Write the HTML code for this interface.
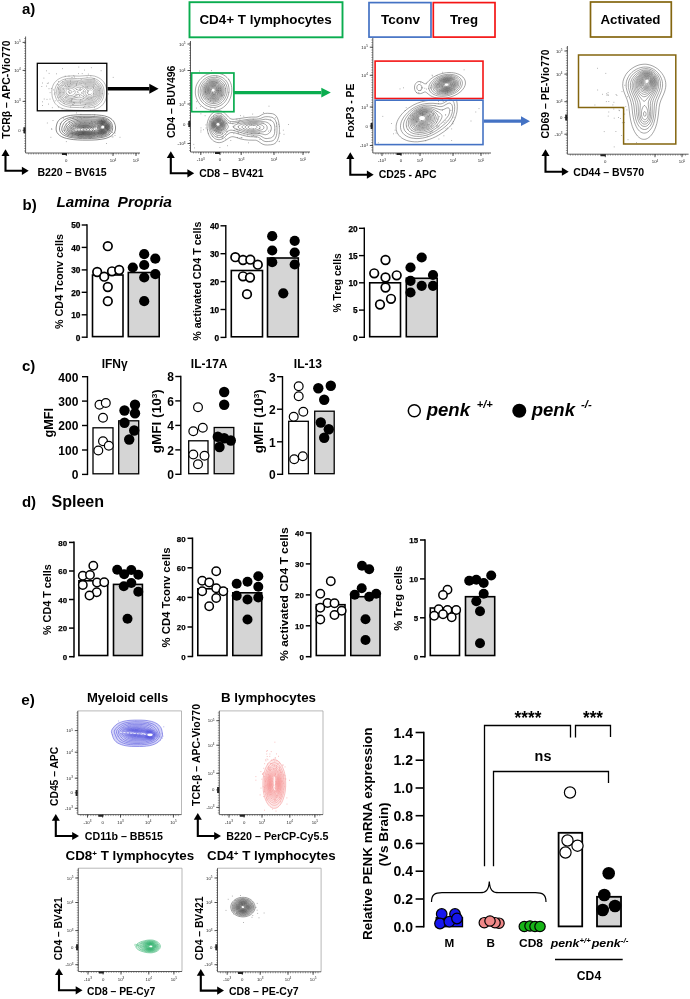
<!DOCTYPE html>
<html lang="en"><head><meta charset="utf-8"><title>Figure</title>
<style>html,body{margin:0;padding:0;background:#fff}body{width:690px;height:999px;overflow:hidden}svg{display:block}text{font-family:'Liberation Sans', sans-serif}</style>
</head><body>
<svg width="690" height="999" viewBox="0 0 690 999">
<rect width="690" height="999" fill="#fff"/>
<g id="panel-a">
<text x="22.0" y="13.6" text-anchor="start" style="font-size:15px;font-weight:bold;" fill="#000">a)</text>
<path d="M25.6 36.5 V153.0 H140.0" fill="none" stroke="#333" stroke-width="0.8"/>
<text x="20.6" y="43.9" text-anchor="end" style="font-size:4.3px;" fill="#222">10<tspan dy="-1.5" style="font-size:3px">5</tspan></text>
<text x="20.6" y="71.9" text-anchor="end" style="font-size:4.3px;" fill="#222">10<tspan dy="-1.5" style="font-size:3px">4</tspan></text>
<text x="20.6" y="102.9" text-anchor="end" style="font-size:4.3px;" fill="#222">10<tspan dy="-1.5" style="font-size:3px">3</tspan></text>
<text x="20.6" y="131.8" text-anchor="end" style="font-size:4.3px;" fill="#222">0</text>
<text x="66.3" y="162.0" text-anchor="middle" style="font-size:4.3px;" fill="#222">0</text>
<text x="113.0" y="162.0" text-anchor="middle" style="font-size:4.3px;" fill="#222">10<tspan dy="-1.5" style="font-size:3px">4</tspan></text>
<text x="136.0" y="162.0" text-anchor="middle" style="font-size:4.3px;" fill="#222">10<tspan dy="-1.5" style="font-size:3px">5</tspan></text>
<path d="M25.6 42.4h-3M25.6 70.4h-3M25.6 101.4h-3M25.6 130.3h-3M66.3 153.0v3M113.0 153.0v3M136.0 153.0v3" fill="none" stroke="#222" stroke-width="0.8"/>
<path d="M28.6 153.0v1.5M31.1 153.0v1.5M33.6 153.0v1.5M36.1 153.0v1.5M38.6 153.0v1.5M41.1 153.0v1.5M43.6 153.0v1.5M46.1 153.0v1.5M48.6 153.0v1.5M51.1 153.0v1.5M53.6 153.0v1.5M56.1 153.0v1.5M58.6 153.0v1.5M61.1 153.0v1.5M63.6 153.0v1.5M66.1 153.0v1.5M68.6 153.0v1.5M71.1 153.0v1.5M73.6 153.0v1.5M76.1 153.0v1.5M78.6 153.0v1.5M81.1 153.0v1.5M83.6 153.0v1.5M86.1 153.0v1.5M88.6 153.0v1.5M91.1 153.0v1.5M93.6 153.0v1.5M96.1 153.0v1.5M98.6 153.0v1.5M101.1 153.0v1.5M103.6 153.0v1.5M106.1 153.0v1.5M108.6 153.0v1.5M111.1 153.0v1.5M113.6 153.0v1.5M116.1 153.0v1.5M118.6 153.0v1.5M121.1 153.0v1.5M123.6 153.0v1.5M126.1 153.0v1.5M128.6 153.0v1.5M131.1 153.0v1.5M133.6 153.0v1.5M136.1 153.0v1.5M138.6 153.0v1.5M25.6 38.5h-1.5M25.6 41.0h-1.5M25.6 43.5h-1.5M25.6 46.0h-1.5M25.6 48.5h-1.5M25.6 51.0h-1.5M25.6 53.5h-1.5M25.6 56.0h-1.5M25.6 58.5h-1.5M25.6 61.0h-1.5M25.6 63.5h-1.5M25.6 66.0h-1.5M25.6 68.5h-1.5M25.6 71.0h-1.5M25.6 73.5h-1.5M25.6 76.0h-1.5M25.6 78.5h-1.5M25.6 81.0h-1.5M25.6 83.5h-1.5M25.6 86.0h-1.5M25.6 88.5h-1.5M25.6 91.0h-1.5M25.6 93.5h-1.5M25.6 96.0h-1.5M25.6 98.5h-1.5M25.6 101.0h-1.5M25.6 103.5h-1.5M25.6 106.0h-1.5M25.6 108.5h-1.5M25.6 111.0h-1.5M25.6 113.5h-1.5M25.6 116.0h-1.5M25.6 118.5h-1.5M25.6 121.0h-1.5M25.6 123.5h-1.5M25.6 126.0h-1.5M25.6 128.5h-1.5M25.6 131.0h-1.5M25.6 133.5h-1.5M25.6 136.0h-1.5M25.6 138.5h-1.5M25.6 141.0h-1.5M25.6 143.5h-1.5M25.6 146.0h-1.5M25.6 148.5h-1.5M25.6 151.0h-1.5" fill="none" stroke="#333" stroke-width="0.45"/>
<path d="M62.0 154.1h5M24.4 127.3v6" fill="none" stroke="#222" stroke-width="2"/>
<path d="M68.2 95.6h0M68.6 86.5h0M58.0 87.7h0M88.7 94.7h0M87.6 92.7h0M77.9 92.0h0M47.0 99.4h0M79.6 95.5h0M46.6 70.8h0M58.7 84.8h0M76.6 89.5h0M79.8 82.9h0M76.6 94.3h0M62.1 108.9h0M80.3 103.2h0M62.7 81.9h0M66.8 88.8h0M81.5 92.7h0M65.3 79.5h0M64.2 103.4h0M59.9 92.7h0M78.4 73.6h0M72.7 104.4h0M41.8 86.5h0M70.4 81.0h0M79.5 89.3h0M50.0 99.1h0M82.0 100.4h0M93.6 94.0h0M73.8 75.7h0M81.2 83.3h0M65.2 76.1h0M57.5 84.2h0M91.3 67.7h0M50.1 92.6h0M93.7 96.4h0M77.4 81.9h0M55.2 100.8h0M88.5 91.7h0M75.7 94.8h0M95.9 96.8h0M79.8 96.0h0M48.5 104.1h0M86.3 95.8h0M42.4 83.0h0M84.6 70.1h0M69.2 101.2h0M52.3 107.7h0M80.3 88.3h0M76.9 97.1h0M73.8 102.6h0M62.1 85.4h0M87.6 90.3h0M58.8 100.4h0M94.0 85.1h0M51.3 88.5h0M69.8 86.7h0M93.1 78.7h0M90.9 76.0h0M60.2 96.9h0M88.9 99.4h0M77.2 91.6h0M74.3 96.3h0M69.4 93.1h0M80.6 90.0h0M83.5 96.2h0M102.2 93.6h0M65.6 85.9h0M71.8 100.2h0M67.0 94.2h0M55.1 92.7h0M78.0 92.6h0M65.5 97.2h0M76.2 84.3h0M108.5 93.9h0M63.7 88.9h0M68.6 89.3h0M87.1 77.1h0M71.0 100.5h0M84.8 106.4h0M46.5 86.1h0M66.9 96.9h0M88.3 74.1h0M82.2 73.6h0M74.6 103.1h0M69.8 92.1h0M84.0 91.6h0M70.7 106.9h0M87.7 86.8h0M113.2 77.4h0M85.7 87.1h0M74.0 97.8h0M75.3 97.0h0M49.1 73.4h0M81.2 79.4h0M56.6 73.8h0M91.0 98.2h0M94.1 79.7h0M72.0 77.5h0M83.5 107.5h0M58.6 107.2h0M86.8 88.0h0M42.4 105.5h0M70.6 83.4h0M78.0 94.5h0M94.5 78.8h0M89.0 106.4h0M93.8 88.0h0M60.8 101.2h0M73.7 91.4h0M93.4 87.1h0M44.2 99.0h0M76.8 83.3h0M71.9 99.2h0M73.2 104.6h0M71.1 101.4h0M94.4 107.7h0M61.9 99.7h0M43.9 78.1h0M42.6 101.8h0M53.5 89.9h0M69.1 89.7h0M63.1 92.6h0M98.9 90.5h0M80.0 101.0h0M69.0 76.1h0M63.7 101.8h0M47.3 83.4h0M87.1 98.7h0M72.1 98.9h0M74.5 77.0h0M48.5 83.0h0M85.8 83.8h0M58.5 81.5h0M49.0 88.7h0M54.3 94.0h0M62.4 68.6h0M82.9 87.0h0M76.4 85.0h0M83.7 98.2h0M82.0 93.6h0M92.0 97.3h0M78.8 67.1h0M85.4 104.4h0M67.5 84.8h0M101.1 70.7h0M58.1 97.6h0M100.3 88.7h0M80.4 99.9h0M58.4 89.0h0" fill="none" stroke="#8a8a8a" stroke-width="0.8" stroke-linecap="round"/>
<path d="M89.0 135.6h0M83.4 127.4h0M66.7 126.1h0M99.2 129.8h0M69.5 122.3h0M94.6 132.8h0M112.6 132.4h0M82.9 133.2h0M50.9 137.3h0M89.5 123.4h0M106.5 143.5h0M60.2 123.7h0M89.0 130.5h0M77.2 121.2h0M120.0 137.3h0M63.7 118.2h0M113.0 136.9h0M115.0 135.5h0M69.2 131.1h0M47.3 123.0h0M83.0 133.2h0M71.6 128.0h0M91.8 132.0h0M94.8 130.7h0M78.5 135.3h0M84.8 122.4h0M73.4 129.0h0M82.1 130.3h0M84.0 130.4h0M81.7 118.9h0M91.2 137.4h0M91.4 127.5h0M91.6 121.3h0M51.8 129.5h0M68.2 134.9h0M66.3 141.6h0M77.5 118.0h0M71.0 133.2h0M92.4 130.4h0M109.2 134.7h0M83.6 133.8h0M112.1 136.8h0M101.4 120.3h0M81.5 134.8h0M79.0 137.6h0M94.1 136.3h0M105.1 127.3h0M78.2 136.0h0M100.7 129.1h0M64.2 130.5h0M90.1 138.0h0M97.3 129.2h0M98.5 133.3h0M87.5 129.4h0M79.9 134.5h0M66.1 124.0h0M84.1 117.3h0M76.6 112.9h0M72.4 133.5h0M93.6 128.6h0M80.1 117.7h0M115.1 133.1h0M102.6 121.9h0M80.9 114.4h0M97.3 136.5h0M51.7 128.6h0M94.7 114.9h0M53.0 120.5h0M73.3 117.8h0M84.5 131.0h0" fill="none" stroke="#8a8a8a" stroke-width="0.8" stroke-linecap="round"/>
<path d="M92.0 110.1 89.0 110.4 85.5 110.5 73.5 110.2 69.0 109.9 65.5 109.3 63.0 108.7 60.5 107.7 59.0 106.9 58.0 106.2 57.0 105.4 56.0 104.4 55.2 103.5 54.2 102.0 53.5 100.5 52.9 99.0 52.3 97.0 52.1 95.5 51.9 93.5 51.8 91.5 51.9 90.0 52.2 88.0 52.6 86.5 53.2 85.0 53.7 84.0 54.7 82.5 56.0 81.1 57.2 80.0 59.0 78.8 60.5 78.0 62.5 77.2 64.0 76.8 66.5 76.3 68.5 76.1 72.0 75.9 79.5 76.1 87.5 75.5 89.5 75.5 91.5 75.6 94.5 76.1 96.5 76.8 98.5 77.7 100.5 78.9 102.4 80.5 103.3 81.5 104.0 82.5 105.2 84.5 106.1 87.0 106.6 89.5 106.8 92.5 106.6 95.5 106.1 98.0 105.3 100.5 104.3 102.5 102.9 104.5 101.4 106.0 99.5 107.4 97.0 108.7 94.5 109.5ZM91.5 107.5 89.0 107.8 86.5 107.9 79.5 107.6 73.0 107.4 70.0 107.2 67.5 106.8 65.0 106.2 63.0 105.4 61.0 104.3 60.0 103.6 59.0 102.7 58.0 101.6 57.2 100.5 56.6 99.5 55.9 98.0 55.1 95.5 54.9 94.0 54.8 92.5 54.8 91.0 54.9 89.5 55.3 88.0 55.6 87.0 56.3 85.5 56.9 84.5 58.0 83.1 59.0 82.1 60.0 81.4 61.5 80.4 63.0 79.7 64.5 79.2 66.5 78.7 68.5 78.4 72.0 78.3 77.5 78.6 79.5 78.6 81.5 78.5 87.5 77.9 90.5 77.9 92.5 78.1 94.5 78.6 96.5 79.4 98.0 80.3 99.6 81.5 101.0 83.0 102.4 85.0 103.3 87.0 103.8 89.0 104.1 91.5 104.0 94.0 103.6 96.5 103.0 98.5 102.1 100.5 101.0 102.2 99.5 103.8 98.0 105.0 96.0 106.2 94.0 106.9ZM89.5 106.0 86.5 106.1 79.5 105.6 73.0 105.5 70.0 105.3 68.0 105.0 66.0 104.5 64.0 103.7 62.5 102.8 61.5 102.1 60.5 101.3 59.0 99.5 57.8 97.5 57.3 96.0 57.0 95.0 56.6 92.5 56.7 90.0 57.1 88.5 57.4 87.5 57.9 86.5 58.4 85.5 59.2 84.5 60.2 83.5 61.4 82.5 62.5 81.8 64.0 81.1 65.5 80.6 67.0 80.2 68.5 80.0 70.0 79.9 72.0 79.9 77.5 80.3 79.5 80.4 82.0 80.2 87.0 79.5 90.0 79.4 92.0 79.6 94.0 80.1 95.5 80.7 97.0 81.5 98.5 82.7 100.0 84.4 101.0 86.0 101.8 88.0 102.3 90.0 102.4 92.5 102.2 95.0 101.7 97.0 100.9 99.0 100.0 100.5 98.8 102.0 97.1 103.5 95.5 104.4 93.5 105.3 91.5 105.8ZM90.5 104.6 89.0 104.7 87.5 104.7 85.5 104.6 79.5 103.9 73.0 103.9 70.5 103.8 68.5 103.5 67.0 103.1 65.5 102.6 64.0 101.9 63.0 101.3 62.0 100.5 60.6 99.0 59.5 97.5 58.7 95.5 58.2 93.5 58.1 92.0 58.1 91.0 58.4 89.0 58.8 88.0 59.2 87.0 59.8 86.0 60.6 85.0 61.5 84.2 62.5 83.4 63.5 82.8 65.0 82.1 66.5 81.6 68.0 81.3 69.5 81.2 71.5 81.2 77.5 81.7 79.5 81.8 82.0 81.6 87.0 80.7 89.5 80.6 91.0 80.7 92.5 80.9 94.0 81.4 95.5 82.1 97.0 83.1 98.5 84.5 99.5 86.0 100.3 87.5 100.9 89.5 101.2 91.5 101.1 93.5 100.8 95.5 100.1 97.5 99.4 99.0 98.3 100.5 97.0 101.8 95.5 102.9 94.0 103.6 92.5 104.2ZM88.5 103.5 86.0 103.4 81.5 102.6 79.5 102.4 77.5 102.4 72.5 102.5 70.0 102.4 68.5 102.2 67.0 101.8 65.5 101.2 64.5 100.7 62.8 99.5 61.4 98.0 60.4 96.5 59.7 94.5 59.3 92.5 59.4 90.5 59.7 89.0 60.5 87.2 61.0 86.4 61.8 85.5 62.5 84.8 63.7 84.0 65.0 83.3 66.0 82.9 67.0 82.6 68.5 82.4 70.0 82.2 72.0 82.3 77.5 83.0 79.5 83.1 81.5 82.9 87.0 81.8 89.5 81.6 91.0 81.7 92.5 82.0 94.0 82.5 95.0 83.0 96.5 84.1 97.9 85.5 98.9 87.0 99.5 88.5 99.9 90.0 100.1 92.0 100.0 94.0 99.5 96.0 98.9 97.5 98.0 99.0 97.0 100.2 95.5 101.5 94.0 102.4 92.5 102.9 90.5 103.4ZM92.0 102.0 90.0 102.4 87.5 102.4 85.5 102.1 81.0 101.2 79.0 101.0 77.0 101.0 73.0 101.3 70.5 101.3 68.0 100.9 66.0 100.2 64.5 99.3 62.9 98.0 61.8 96.5 61.0 95.0 60.6 93.5 60.4 91.5 60.6 90.0 61.0 88.5 61.6 87.5 62.3 86.5 63.0 85.8 64.0 85.0 65.0 84.4 66.0 84.0 67.0 83.7 68.5 83.4 70.0 83.2 72.0 83.3 77.5 84.2 79.5 84.4 81.5 84.1 86.0 83.0 88.5 82.6 90.0 82.6 91.0 82.7 92.5 83.0 93.5 83.3 94.8 84.0 96.0 84.9 97.0 85.9 97.8 87.0 98.5 88.5 99.0 90.0 99.2 91.5 99.2 93.0 98.9 94.5 98.5 96.0 97.8 97.5 97.0 98.7 96.0 99.8 95.0 100.6 93.5 101.5ZM90.5 101.1 88.5 101.2 86.5 100.9 84.7 100.5 81.5 99.5 79.5 99.2 77.5 99.2 73.5 99.7 71.0 99.9 69.0 99.7 68.0 99.4 66.8 99.0 65.5 98.3 64.4 97.5 63.4 96.5 62.5 95.0 61.9 93.5 61.7 92.0 61.8 90.5 62.3 89.0 63.2 87.5 64.0 86.6 64.8 86.0 66.5 85.1 68.5 84.6 70.0 84.4 72.0 84.5 74.0 84.9 77.5 85.8 79.5 86.0 80.5 85.9 81.5 85.7 86.0 84.2 88.0 83.8 89.5 83.7 90.5 83.7 92.0 84.0 93.0 84.3 94.3 85.0 95.5 85.9 96.4 87.0 97.1 88.0 97.5 89.0 97.9 90.5 98.1 92.0 98.0 93.5 97.7 95.0 97.1 96.5 96.4 97.5 95.5 98.6 94.5 99.5 93.0 100.4 92.0 100.7ZM89.0 100.0 87.5 99.9 86.0 99.5 84.5 99.0 81.5 97.7 80.5 97.3 79.5 97.2 78.0 97.2 73.5 98.3 71.5 98.5 69.5 98.4 67.5 97.9 66.5 97.4 65.2 96.5 64.3 95.5 63.7 94.5 63.3 93.5 63.0 92.0 63.1 90.5 63.4 89.5 64.0 88.5 64.4 88.0 65.5 87.0 67.0 86.2 68.0 85.9 69.0 85.7 70.5 85.6 72.5 85.8 74.0 86.2 78.0 87.6 79.5 87.8 80.5 87.7 81.5 87.4 85.5 85.6 87.0 85.1 88.0 84.9 89.5 84.8 90.5 84.8 91.5 85.0 92.5 85.3 93.5 85.8 94.5 86.5 95.5 87.5 96.1 88.5 96.6 89.5 97.0 91.0 97.0 92.5 96.8 94.0 96.3 95.5 95.8 96.5 95.0 97.6 94.0 98.5 93.0 99.1 91.5 99.7 90.5 99.9ZM91.5 98.5 90.5 98.8 89.0 98.8 88.0 98.7 86.5 98.3 84.5 97.4 80.5 94.6 79.5 94.2 79.0 94.2 78.5 94.3 75.0 96.1 74.0 96.5 72.5 96.9 70.5 97.1 69.5 97.0 68.5 96.8 67.5 96.4 66.5 95.8 66.0 95.4 65.2 94.5 64.7 93.5 64.4 92.5 64.3 91.5 64.5 90.5 65.0 89.4 65.5 88.7 66.0 88.2 66.5 87.8 67.5 87.3 69.0 86.9 70.0 86.8 71.0 86.9 73.0 87.3 74.7 88.0 78.5 90.3 79.5 90.4 80.0 90.4 81.0 89.9 84.4 87.5 86.5 86.5 88.0 86.0 89.0 85.9 90.5 85.9 91.5 86.1 93.0 86.7 94.0 87.4 94.5 88.0 95.2 89.0 95.7 90.0 95.9 91.0 96.0 92.0 96.0 93.0 95.8 94.0 95.4 95.0 94.9 96.0 94.0 97.0 93.4 97.5 92.5 98.1ZM90.5 97.6 89.5 97.6 88.1 97.5 87.0 97.1 86.0 96.6 85.1 96.0 84.1 95.0 83.4 94.0 83.0 93.0 83.0 92.5 83.1 91.5 83.5 90.5 84.3 89.5 85.4 88.5 86.1 88.0 87.1 87.5 88.5 87.1 89.5 86.9 90.5 87.0 91.5 87.2 92.5 87.7 93.5 88.5 94.0 89.1 94.5 90.0 94.8 91.0 95.0 92.0 94.9 93.0 94.5 94.4 94.0 95.3 93.4 96.0 92.5 96.8 91.5 97.3ZM71.0 95.6 69.5 95.5 68.0 95.0 67.3 94.5 66.8 94.0 66.2 93.0 66.0 92.5 65.9 91.5 66.2 90.5 66.5 89.9 67.0 89.3 67.5 88.9 68.5 88.4 69.5 88.2 70.5 88.2 71.5 88.4 72.5 88.7 73.5 89.3 74.4 90.0 74.8 90.5 75.2 91.5 75.3 92.5 75.1 93.0 74.4 94.0 73.8 94.5 73.0 95.0 72.0 95.4ZM91.0 96.1 89.5 96.3 88.5 96.2 87.5 95.8 86.3 95.0 85.9 94.5 85.3 93.5 85.2 93.0 85.1 92.0 85.4 91.0 85.6 90.5 86.5 89.5 87.1 89.0 88.0 88.5 89.5 88.2 91.0 88.4 92.0 88.9 92.5 89.2 93.0 89.8 93.4 90.5 93.6 91.0 93.7 92.0 93.7 93.0 93.3 94.0 93.0 94.6 92.5 95.1 92.0 95.6ZM71.0 93.2 70.0 93.3 69.0 93.0 68.5 92.5 68.3 92.0 68.4 91.5 68.6 91.0 69.2 90.5 70.0 90.3 70.9 90.5 71.5 90.9 71.9 91.5 72.0 92.0 71.8 92.5 71.5 92.9ZM90.0 94.6 89.0 94.5 88.1 94.0 87.5 93.3 87.2 92.5 87.3 91.5 87.6 91.0 88.0 90.5 88.9 90.0 89.5 89.9 90.5 89.9 91.4 90.5 92.0 91.4 92.1 92.0 92.0 93.0 91.5 93.8 91.0 94.2 90.5 94.5Z" fill="none" stroke="#666" stroke-width="0.45" stroke-linejoin="round" opacity="1"/>
<path d="M93.0 140.0 88.0 140.1 82.5 140.1 77.5 139.9 73.5 139.6 70.0 139.1 66.5 138.4 64.0 137.7 61.5 136.6 59.5 135.3 58.1 134.0 57.0 132.5 56.4 131.0 56.2 130.0 56.1 129.0 56.2 127.0 56.8 124.0 57.6 122.0 58.6 120.5 60.2 119.0 62.0 117.9 64.5 116.8 67.0 116.1 70.5 115.4 73.5 115.1 78.0 114.8 84.0 114.7 91.5 114.7 96.5 114.9 101.5 115.4 104.5 115.9 107.5 116.8 110.0 118.0 111.0 118.7 112.0 119.5 113.4 121.0 114.3 122.5 115.0 124.5 115.3 125.5 115.5 127.0 115.5 129.0 115.3 130.0 115.1 131.0 114.7 132.0 114.1 133.0 113.0 134.4 111.8 135.5 110.0 136.7 108.0 137.6 106.0 138.3 104.0 138.8 101.0 139.3 97.0 139.8ZM91.5 138.5 87.5 138.6 82.5 138.6 78.5 138.4 75.0 138.1 72.0 137.7 69.0 137.1 66.5 136.3 64.5 135.5 62.8 134.5 61.5 133.5 60.3 132.0 59.7 130.5 59.5 129.0 59.6 127.5 60.1 125.5 60.8 123.5 61.7 122.0 63.2 120.5 64.6 119.5 66.5 118.6 68.5 117.9 71.0 117.3 74.0 116.8 77.5 116.5 83.0 116.3 90.0 116.3 95.5 116.6 101.5 117.1 104.5 117.6 106.5 118.3 108.0 119.1 109.0 119.8 109.8 120.5 111.0 122.0 111.8 123.5 112.4 125.5 112.7 127.5 112.6 129.0 112.4 130.0 112.1 131.0 111.3 132.5 110.0 134.0 109.0 134.8 107.5 135.8 105.5 136.6 103.5 137.2 101.0 137.6 97.5 138.1ZM90.5 137.5 87.0 137.6 83.0 137.6 79.5 137.4 76.5 137.2 73.5 136.8 71.0 136.3 69.0 135.8 67.0 135.0 65.5 134.3 64.0 133.3 62.8 132.0 62.2 131.0 61.8 130.0 61.8 128.5 62.1 127.0 62.7 125.5 63.5 123.8 64.5 122.4 66.0 121.1 67.5 120.1 69.5 119.3 71.5 118.7 74.0 118.2 77.5 117.8 82.5 117.6 89.0 117.5 92.5 117.6 102.0 118.2 104.0 118.6 106.0 119.3 107.5 120.1 109.1 121.5 110.1 123.0 110.8 124.5 111.2 126.0 111.3 128.0 111.1 129.5 110.5 131.0 109.6 132.5 108.5 133.6 107.5 134.4 106.0 135.2 104.5 135.8 103.0 136.2 100.5 136.6 96.0 137.1ZM91.0 136.5 88.0 136.6 84.5 136.7 78.5 136.4 74.0 135.8 72.0 135.4 70.0 134.8 68.5 134.2 67.0 133.5 65.7 132.5 64.7 131.5 64.2 130.5 64.0 129.5 64.0 128.5 64.3 127.5 65.3 125.5 66.3 124.0 67.5 122.8 69.0 121.7 70.5 120.9 72.5 120.2 75.0 119.6 77.5 119.2 81.5 118.9 87.0 118.8 90.5 118.9 96.0 119.2 100.5 119.1 102.5 119.2 104.5 119.7 106.0 120.3 107.5 121.3 108.6 122.5 109.3 123.5 109.9 125.0 110.2 126.5 110.2 128.0 110.0 129.5 109.3 131.0 108.7 132.0 107.5 133.2 106.5 133.9 105.5 134.4 104.5 134.8 103.0 135.2 100.5 135.6ZM93.0 135.6 88.0 135.9 82.0 135.9 77.0 135.4 73.0 134.7 71.0 134.1 69.5 133.5 68.0 132.7 67.1 132.0 66.5 131.3 66.0 130.5 65.7 129.5 65.8 128.5 66.4 127.0 67.5 125.5 69.0 124.0 70.3 123.0 72.0 122.1 73.5 121.5 75.5 120.9 78.0 120.4 81.0 120.1 84.5 120.0 89.5 120.0 95.5 120.3 97.0 120.3 100.5 119.9 102.0 119.9 103.5 120.1 105.0 120.6 106.5 121.4 107.7 122.5 108.5 123.5 109.2 125.0 109.4 126.0 109.5 127.5 109.3 129.0 108.7 130.5 108.1 131.5 107.1 132.5 106.0 133.3 105.0 133.8 103.0 134.4 101.5 134.7 97.5 135.0ZM91.5 135.0 86.5 135.3 81.5 135.2 77.0 134.8 73.5 134.1 72.0 133.6 70.5 133.0 69.5 132.4 68.3 131.5 67.9 131.0 67.4 130.0 67.3 129.5 67.4 128.5 67.9 127.5 69.0 126.1 70.5 124.8 72.0 123.8 73.5 123.0 75.5 122.3 77.5 121.8 80.0 121.4 83.0 121.1 87.0 121.0 89.5 121.1 95.0 121.5 96.5 121.3 100.5 120.6 102.5 120.6 104.0 120.8 105.5 121.5 106.9 122.5 107.8 123.5 108.3 124.5 108.8 126.0 108.9 127.5 108.8 128.5 108.3 130.0 107.7 131.0 107.0 131.8 106.2 132.5 104.5 133.4 102.5 133.9 101.0 134.1 97.0 134.3ZM91.0 134.5 86.5 134.8 82.0 134.7 78.0 134.4 74.5 133.7 73.0 133.2 71.5 132.6 70.5 132.0 69.8 131.5 69.3 131.0 68.8 130.0 68.7 129.5 68.8 128.5 69.4 127.5 70.5 126.3 72.0 125.2 73.5 124.4 75.0 123.7 77.0 123.1 79.0 122.7 81.0 122.4 84.0 122.1 87.0 122.1 89.5 122.2 93.5 122.5 95.0 122.5 96.5 122.2 100.0 121.2 101.5 121.1 102.5 121.1 104.0 121.4 105.5 122.0 106.7 123.0 107.5 124.0 108.0 125.0 108.3 126.0 108.4 127.5 108.3 128.5 108.0 129.5 107.5 130.5 106.6 131.5 105.5 132.4 104.0 133.1 102.5 133.4 101.0 133.6 97.0 133.7ZM91.0 134.0 87.0 134.3 83.0 134.3 79.5 134.1 76.0 133.5 74.5 133.1 73.0 132.5 72.0 132.0 71.2 131.5 70.7 131.0 70.3 130.5 70.0 130.0 70.0 129.5 70.0 129.0 70.4 128.0 71.3 127.0 72.5 126.1 74.0 125.3 75.5 124.6 77.5 124.0 79.5 123.6 81.5 123.3 84.5 123.1 87.5 123.0 90.0 123.2 93.5 123.6 94.5 123.6 96.0 123.3 98.5 122.3 100.0 121.8 101.5 121.5 102.5 121.5 104.0 121.8 105.4 122.5 106.5 123.4 107.3 124.5 107.7 125.5 108.0 126.5 107.9 128.0 107.7 129.0 107.3 130.0 106.5 131.0 106.0 131.5 105.0 132.1 104.0 132.6 102.5 133.0 101.0 133.1 97.0 133.1ZM91.0 133.5 87.5 133.9 83.5 133.9 80.0 133.7 77.0 133.2 74.5 132.5 73.4 132.0 72.6 131.5 71.9 131.0 71.5 130.5 71.3 130.0 71.2 129.5 71.2 129.0 71.5 128.3 72.2 127.5 73.0 126.8 74.5 126.0 76.0 125.3 77.5 124.9 81.0 124.2 84.0 123.9 87.0 123.9 90.0 124.1 93.5 124.5 94.5 124.5 96.0 124.2 99.5 122.4 100.5 122.1 102.0 121.9 103.5 122.1 105.0 122.7 106.1 123.5 106.9 124.5 107.3 125.5 107.6 126.5 107.6 127.5 107.4 128.5 107.1 129.5 106.5 130.4 105.9 131.0 105.0 131.7 104.0 132.2 102.5 132.5 101.0 132.6 98.0 132.5 96.5 132.5ZM90.5 133.1 87.0 133.4 83.5 133.4 80.5 133.2 77.5 132.7 75.2 132.0 74.1 131.5 73.4 131.0 72.9 130.5 72.6 130.0 72.5 129.5 72.6 129.0 72.8 128.5 73.2 128.0 74.5 127.0 76.5 126.1 79.0 125.4 82.5 124.8 86.0 124.7 89.5 124.9 93.5 125.6 95.0 125.5 96.0 125.2 98.6 123.5 99.5 123.0 100.5 122.6 101.5 122.4 103.0 122.4 104.5 122.9 105.4 123.5 105.9 124.0 106.6 125.0 107.1 126.5 107.2 127.5 107.0 128.5 106.6 129.5 106.0 130.3 105.2 131.0 104.5 131.5 103.5 131.9 102.0 132.1 100.5 132.1 97.5 131.8 96.0 131.9ZM85.5 133.0 83.0 133.0 81.0 132.8 79.0 132.5 77.0 132.0 75.5 131.4 74.9 131.0 74.3 130.5 74.0 130.0 73.9 129.5 73.9 129.0 74.2 128.5 74.7 128.0 75.4 127.5 76.5 126.9 79.0 126.1 82.0 125.6 85.0 125.4 88.0 125.5 90.5 125.9 94.0 126.6 95.0 126.6 96.0 126.3 96.5 126.0 98.1 124.5 99.5 123.5 100.5 123.1 102.0 122.8 103.5 123.0 104.5 123.4 105.0 123.7 105.5 124.1 106.0 124.7 106.6 126.0 106.8 127.0 106.7 128.0 106.3 129.0 106.1 129.5 105.5 130.2 105.0 130.6 104.5 131.0 103.5 131.4 102.5 131.6 101.0 131.7 97.5 131.1 96.0 131.1 95.0 131.3 92.5 132.1 90.5 132.5 88.0 132.9ZM86.5 132.5 84.0 132.6 82.0 132.4 80.0 132.2 78.0 131.7 76.5 131.1 75.7 130.5 75.3 130.0 75.2 129.5 75.3 129.0 75.6 128.5 76.2 128.0 77.1 127.5 78.0 127.1 80.5 126.4 83.5 126.1 86.5 126.1 89.0 126.3 91.5 126.9 94.5 127.8 95.5 127.9 96.0 127.7 96.5 127.2 98.4 125.0 99.5 124.1 100.7 123.5 102.0 123.2 103.5 123.4 104.5 123.8 105.5 124.7 106.0 125.5 106.2 126.0 106.3 126.5 106.3 127.5 106.1 128.5 105.9 129.0 105.5 129.6 105.0 130.1 104.5 130.5 103.5 131.0 102.0 131.3 100.5 131.2 99.0 130.8 97.0 130.1 96.0 129.9 95.0 130.2 93.4 131.0 92.2 131.5 91.0 131.9 89.0 132.3ZM103.5 130.6 102.0 130.9 100.5 130.7 99.8 130.5 98.7 130.0 98.0 129.5 97.5 129.0 97.4 128.5 97.4 128.0 97.7 127.0 98.0 126.5 98.7 125.5 99.1 125.0 99.7 124.5 100.5 124.0 101.0 123.8 102.0 123.6 103.0 123.7 103.5 123.8 104.0 124.0 104.7 124.5 105.5 125.5 105.8 126.0 106.0 127.0 105.9 128.0 105.7 128.5 105.0 129.6 104.5 130.0ZM87.0 132.0 85.0 132.1 83.0 132.1 81.0 131.8 79.5 131.5 78.0 131.0 77.2 130.5 76.7 130.0 76.6 129.5 76.7 129.0 77.1 128.5 77.9 128.0 79.0 127.5 81.5 126.9 84.5 126.6 87.5 126.8 90.0 127.2 90.9 127.5 92.1 128.0 92.8 128.5 93.2 129.0 93.3 129.5 93.0 130.0 92.4 130.5 91.5 131.0 89.5 131.6ZM103.5 130.1 102.5 130.4 101.0 130.4 100.0 130.0 99.5 129.8 99.1 129.5 98.6 129.0 98.4 128.5 98.3 128.0 98.3 127.5 98.7 126.5 99.3 125.5 99.8 125.0 100.6 124.5 101.5 124.1 102.0 124.1 103.0 124.1 104.0 124.5 104.7 125.0 105.1 125.5 105.5 126.5 105.5 127.5 105.4 128.0 105.0 128.9 104.5 129.5ZM86.5 131.5 84.5 131.6 83.0 131.6 80.5 131.1 78.8 130.5 78.3 130.0 78.1 129.5 78.3 129.0 78.8 128.5 79.8 128.0 81.7 127.5 84.0 127.3 86.5 127.3 88.5 127.6 90.0 128.1 90.8 128.5 91.3 129.0 91.5 129.5 91.2 130.0 90.6 130.5 89.0 131.1ZM102.0 130.0 101.0 129.9 100.0 129.4 99.5 129.0 99.2 128.5 99.0 128.0 99.0 127.5 99.3 126.5 99.6 126.0 100.0 125.5 100.5 125.1 101.5 124.6 102.0 124.5 103.0 124.5 104.0 125.0 104.6 125.5 105.1 126.5 105.1 127.5 104.8 128.5 104.4 129.0 104.0 129.4 103.0 129.9ZM85.5 131.0 83.5 131.0 81.5 130.7 81.0 130.5 80.1 130.0 79.9 129.5 80.1 129.0 81.0 128.5 82.5 128.1 84.0 127.9 85.5 127.9 87.0 128.1 88.5 128.5 89.3 129.0 89.5 129.6 89.2 130.0 88.5 130.4 87.0 130.8ZM102.5 129.5 101.5 129.5 101.0 129.4 100.4 129.0 99.9 128.5 99.7 128.0 99.6 127.5 99.9 126.5 100.2 126.0 101.0 125.3 102.0 124.9 103.0 125.0 104.0 125.5 104.5 126.3 104.7 127.0 104.5 128.0 104.0 128.8 103.5 129.2ZM85.5 130.1 84.5 130.1 83.3 130.0 82.6 129.5 83.4 129.0 84.5 128.9 86.0 129.0 86.7 129.5 86.0 130.0ZM102.5 129.0 101.8 129.0 101.0 128.7 100.5 128.2 100.3 127.5 100.5 126.6 101.0 126.0 101.5 125.6 102.0 125.5 102.5 125.4 103.0 125.5 103.5 125.8 104.0 126.4 104.2 127.0 104.1 127.5 104.0 128.0 103.6 128.5 103.0 128.9ZM103.0 128.1 102.5 128.3 102.0 128.3 101.4 128.0 101.1 127.5 101.1 127.0 101.5 126.4 102.0 126.2 102.5 126.1 103.0 126.3 103.2 126.5 103.5 127.0 103.5 127.5Z" fill="none" stroke="#3c3c3c" stroke-width="0.6" stroke-linejoin="round" opacity="1"/>
<ellipse cx="102.8" cy="127.1" rx="1.6" ry="1.5" fill="#fff"/>
<ellipse cx="91" cy="92" rx="1.8" ry="1.6" fill="#fff"/>
<path d="M75 129.9 H93" stroke="#fff" stroke-width="0.9" stroke-dasharray="2 1" opacity="0.8"/>
<rect x="37.3" y="63.3" width="69.5" height="47.5" fill="none" stroke="#000" stroke-width="1.3"/>
<line x1="107.5" y1="88.8" x2="149.3" y2="88.8" stroke="#000" stroke-width="3.4" stroke-linecap="butt"/>
<polygon points="158.6,88.8 149.3,93.8 149.3,83.8" fill="#000"/>
<text x="0" y="3.8" text-anchor="middle" style="font-size:10.5px;font-weight:bold;" fill="#000" textLength="98.3" lengthAdjust="spacingAndGlyphs" transform="translate(5.7 89.5) rotate(-90)">TCRβ – APC-Vio770</text>
<text x="37.5" y="175.5" text-anchor="start" style="font-size:10.5px;font-weight:bold;" fill="#000" textLength="69.2" lengthAdjust="spacingAndGlyphs">B220 – BV615</text>
<path d="M5.5 154.2 V170.8 H23.7" fill="none" stroke="#000" stroke-width="2.1" stroke-linejoin="miter"/>
<polygon points="5.5,149.2 1.5,156.0 9.5,156.0" fill="#000"/>
<polygon points="28.7,170.8 21.9,166.7 21.9,174.9" fill="#000"/>
<rect x="189.5" y="2.2" width="153.0" height="35.1" fill="none" stroke="#0aad4f" stroke-width="1.9"/>
<text x="199.4" y="24.1" text-anchor="start" style="font-size:13.4px;font-weight:bold;" fill="#000" textLength="132.3" lengthAdjust="spacingAndGlyphs">CD4+ T lymphocytes</text>
<path d="M190.5 41.0 V152.0 H310.0" fill="none" stroke="#333" stroke-width="0.8"/>
<text x="185.5" y="45.5" text-anchor="end" style="font-size:4.3px;" fill="#222">10<tspan dy="-1.5" style="font-size:3px">5</tspan></text>
<text x="185.5" y="72.0" text-anchor="end" style="font-size:4.3px;" fill="#222">10<tspan dy="-1.5" style="font-size:3px">4</tspan></text>
<text x="185.5" y="105.5" text-anchor="end" style="font-size:4.3px;" fill="#222">10<tspan dy="-1.5" style="font-size:3px">3</tspan></text>
<text x="185.5" y="125.5" text-anchor="end" style="font-size:4.3px;" fill="#222">0</text>
<text x="185.5" y="145.0" text-anchor="end" style="font-size:4.3px;" fill="#222">-10<tspan dy="-1.5" style="font-size:3px">3</tspan></text>
<text x="200.8" y="161.0" text-anchor="middle" style="font-size:4.3px;" fill="#222">-10<tspan dy="-1.5" style="font-size:3px">3</tspan></text>
<text x="220.0" y="161.0" text-anchor="middle" style="font-size:4.3px;" fill="#222">0</text>
<text x="241.2" y="161.0" text-anchor="middle" style="font-size:4.3px;" fill="#222">10<tspan dy="-1.5" style="font-size:3px">3</tspan></text>
<text x="274.0" y="161.0" text-anchor="middle" style="font-size:4.3px;" fill="#222">10<tspan dy="-1.5" style="font-size:3px">4</tspan></text>
<text x="303.0" y="161.0" text-anchor="middle" style="font-size:4.3px;" fill="#222">10<tspan dy="-1.5" style="font-size:3px">5</tspan></text>
<path d="M190.5 44.0h-3M190.5 70.5h-3M190.5 104.0h-3M190.5 124.0h-3M190.5 143.5h-3M200.8 152.0v3M220.0 152.0v3M241.2 152.0v3M274.0 152.0v3M303.0 152.0v3" fill="none" stroke="#222" stroke-width="0.8"/>
<path d="M193.5 152.0v1.5M196.0 152.0v1.5M198.5 152.0v1.5M201.0 152.0v1.5M203.5 152.0v1.5M206.0 152.0v1.5M208.5 152.0v1.5M211.0 152.0v1.5M213.5 152.0v1.5M216.0 152.0v1.5M218.5 152.0v1.5M221.0 152.0v1.5M223.5 152.0v1.5M226.0 152.0v1.5M228.5 152.0v1.5M231.0 152.0v1.5M233.5 152.0v1.5M236.0 152.0v1.5M238.5 152.0v1.5M241.0 152.0v1.5M243.5 152.0v1.5M246.0 152.0v1.5M248.5 152.0v1.5M251.0 152.0v1.5M253.5 152.0v1.5M256.0 152.0v1.5M258.5 152.0v1.5M261.0 152.0v1.5M263.5 152.0v1.5M266.0 152.0v1.5M268.5 152.0v1.5M271.0 152.0v1.5M273.5 152.0v1.5M276.0 152.0v1.5M278.5 152.0v1.5M281.0 152.0v1.5M283.5 152.0v1.5M286.0 152.0v1.5M288.5 152.0v1.5M291.0 152.0v1.5M293.5 152.0v1.5M296.0 152.0v1.5M298.5 152.0v1.5M301.0 152.0v1.5M303.5 152.0v1.5M306.0 152.0v1.5M308.5 152.0v1.5M190.5 43.0h-1.5M190.5 45.5h-1.5M190.5 48.0h-1.5M190.5 50.5h-1.5M190.5 53.0h-1.5M190.5 55.5h-1.5M190.5 58.0h-1.5M190.5 60.5h-1.5M190.5 63.0h-1.5M190.5 65.5h-1.5M190.5 68.0h-1.5M190.5 70.5h-1.5M190.5 73.0h-1.5M190.5 75.5h-1.5M190.5 78.0h-1.5M190.5 80.5h-1.5M190.5 83.0h-1.5M190.5 85.5h-1.5M190.5 88.0h-1.5M190.5 90.5h-1.5M190.5 93.0h-1.5M190.5 95.5h-1.5M190.5 98.0h-1.5M190.5 100.5h-1.5M190.5 103.0h-1.5M190.5 105.5h-1.5M190.5 108.0h-1.5M190.5 110.5h-1.5M190.5 113.0h-1.5M190.5 115.5h-1.5M190.5 118.0h-1.5M190.5 120.5h-1.5M190.5 123.0h-1.5M190.5 125.5h-1.5M190.5 128.0h-1.5M190.5 130.5h-1.5M190.5 133.0h-1.5M190.5 135.5h-1.5M190.5 138.0h-1.5M190.5 140.5h-1.5M190.5 143.0h-1.5M190.5 145.5h-1.5M190.5 148.0h-1.5M190.5 150.5h-1.5" fill="none" stroke="#333" stroke-width="0.45"/>
<path d="M215.0 153.1h5M189.3 121.0v6" fill="none" stroke="#222" stroke-width="2"/>
<path d="M256.5 137.0h0M279.1 141.6h0M205.9 124.9h0M212.4 119.2h0M237.9 130.1h0M252.7 114.1h0M207.8 129.8h0M234.8 126.9h0M238.4 122.4h0M258.2 133.5h0M237.7 123.3h0M214.5 130.4h0M200.9 132.0h0M243.8 116.2h0M233.5 126.9h0M252.0 136.1h0M239.1 121.5h0M236.2 129.3h0M259.1 132.9h0M221.2 116.5h0M230.3 122.6h0M211.1 128.8h0M227.2 131.1h0M253.6 125.9h0M268.6 131.2h0M269.0 106.2h0M220.5 132.5h0M248.4 142.8h0M259.9 139.5h0M253.3 128.4h0M253.2 119.2h0M270.7 119.8h0M234.2 130.2h0M270.2 130.3h0M219.0 132.6h0M255.1 137.1h0M219.9 147.5h0M283.3 130.2h0M247.0 125.7h0M276.8 123.0h0M257.5 125.2h0M222.0 137.2h0M274.7 129.9h0M222.4 138.1h0M238.7 133.1h0M279.6 141.3h0M240.1 137.9h0M223.2 129.6h0M194.5 147.9h0M275.5 117.8h0M200.9 113.8h0M270.6 125.4h0M238.4 126.9h0M236.8 119.1h0M240.6 115.6h0M238.1 133.1h0M252.2 127.7h0M216.5 131.6h0M227.4 145.7h0M260.0 128.8h0M227.8 123.0h0M215.6 126.5h0M247.7 135.2h0M221.7 130.1h0M226.4 131.7h0M244.0 134.1h0M233.8 133.7h0M241.4 137.7h0M239.9 119.7h0M212.8 136.3h0M223.1 136.3h0M259.4 133.1h0M253.2 129.0h0M203.4 129.7h0M251.8 124.7h0M237.4 137.5h0M217.2 136.4h0M288.4 124.5h0M243.8 128.5h0M280.0 133.2h0M263.3 123.1h0M239.6 129.9h0M193.8 144.4h0M263.4 112.5h0M259.4 128.7h0M251.7 133.7h0M201.0 127.9h0M278.8 124.3h0M213.4 116.4h0M208.3 133.4h0M284.0 134.3h0M226.5 123.3h0M253.7 135.5h0M213.6 118.3h0M247.6 132.5h0M206.0 128.0h0M225.9 134.6h0M237.0 129.1h0M230.8 140.5h0M276.2 126.3h0M262.0 122.4h0M241.9 137.5h0M279.4 126.2h0M238.1 132.0h0M201.0 130.2h0M222.4 133.7h0M210.6 110.2h0M241.0 132.6h0M225.7 138.9h0M232.9 123.9h0" fill="none" stroke="#8a8a8a" stroke-width="0.8" stroke-linecap="round"/>
<path d="M216.8 76.3h0M205.2 91.8h0M220.5 90.4h0M215.1 85.4h0M215.0 108.6h0M205.1 115.7h0M205.6 92.2h0M213.7 102.2h0M199.6 71.0h0M218.1 100.0h0M214.0 94.5h0M221.3 95.7h0M228.6 79.6h0M220.1 88.3h0M221.2 113.5h0M211.9 89.5h0M207.0 83.6h0M205.7 98.4h0M212.4 92.7h0M210.3 101.1h0M216.9 90.6h0M218.6 90.5h0M200.5 106.6h0M216.7 82.4h0M222.8 95.4h0M196.4 108.1h0M215.3 100.9h0M214.0 90.5h0M196.5 101.7h0M212.3 89.1h0M215.5 92.8h0M218.8 88.3h0M211.6 70.6h0M207.8 98.8h0M225.4 88.4h0M210.8 107.8h0M208.7 99.3h0M228.8 92.4h0M224.3 84.9h0M214.1 91.2h0" fill="none" stroke="#8a8a8a" stroke-width="0.8" stroke-linecap="round"/>
<path d="M217.0 110.1 215.0 110.4 213.0 110.4 211.0 110.2 209.5 109.9 207.5 109.3 206.0 108.7 204.5 107.9 203.0 106.9 201.5 105.7 200.0 104.2 198.7 102.5 197.7 101.0 196.8 99.0 196.2 97.5 195.8 96.0 195.4 94.0 195.3 92.0 195.4 90.0 195.7 88.0 196.0 86.5 196.7 84.5 197.5 83.0 198.4 81.5 199.5 80.0 200.9 78.5 202.5 77.1 204.0 76.1 205.5 75.2 207.5 74.3 209.0 73.8 211.0 73.4 212.5 73.1 214.5 73.0 216.0 73.0 218.0 73.2 219.5 73.5 221.0 73.9 223.0 74.7 224.0 75.2 225.5 76.2 227.0 77.5 228.0 78.5 228.8 79.5 229.7 81.0 230.4 82.5 231.0 84.0 231.4 85.5 231.7 87.5 231.8 89.0 231.8 91.0 231.6 93.0 231.2 95.0 230.7 97.0 230.1 98.5 229.2 100.5 228.4 102.0 227.3 103.5 226.0 105.0 225.0 106.0 223.5 107.2 222.0 108.2 220.5 108.9 218.5 109.7ZM216.5 107.1 215.0 107.4 213.5 107.4 212.0 107.4 210.5 107.1 209.0 106.7 207.5 106.1 206.0 105.4 204.5 104.4 203.0 103.1 202.0 102.0 201.2 101.0 200.2 99.5 199.5 98.0 198.9 96.5 198.5 95.0 198.3 93.5 198.2 92.0 198.3 90.0 198.5 88.5 198.9 87.0 199.4 85.5 200.2 84.0 200.7 83.0 201.8 81.5 202.7 80.5 204.0 79.3 205.1 78.5 206.5 77.6 208.0 76.9 209.5 76.4 211.0 76.0 212.5 75.7 214.0 75.6 215.5 75.6 217.0 75.8 218.5 76.1 221.0 76.9 222.5 77.6 223.5 78.3 224.5 79.1 225.5 80.0 226.5 81.2 227.3 82.5 227.8 83.5 228.4 85.0 228.9 87.5 229.1 89.0 229.1 90.5 228.9 92.5 228.6 94.0 228.2 95.5 227.7 97.0 227.1 98.5 226.2 100.0 225.2 101.5 224.4 102.5 223.4 103.5 222.0 104.6 221.0 105.3 219.5 106.1 218.0 106.7ZM216.5 105.1 215.5 105.3 214.0 105.4 212.5 105.4 211.0 105.2 209.5 104.8 208.5 104.4 207.0 103.7 206.0 103.0 205.0 102.3 204.0 101.3 203.0 100.1 202.2 99.0 201.6 98.0 201.0 96.5 200.3 94.0 200.1 92.5 200.1 91.0 200.4 88.5 201.2 86.0 201.9 84.5 202.5 83.5 203.5 82.1 204.5 81.1 205.5 80.2 206.5 79.5 207.5 78.9 209.0 78.2 210.5 77.7 211.5 77.5 214.0 77.3 215.5 77.3 217.0 77.5 219.5 78.2 220.5 78.7 221.9 79.5 223.8 81.0 224.6 82.0 225.3 83.0 226.3 85.0 226.7 86.0 227.0 87.5 227.2 89.0 227.2 90.5 227.1 92.0 226.9 93.5 226.5 95.0 225.9 96.5 224.7 99.0 224.0 100.0 223.0 101.2 222.0 102.2 221.0 103.0 219.0 104.2 217.5 104.8ZM215.0 103.5 213.0 103.6 211.5 103.4 210.5 103.2 208.5 102.4 207.5 101.8 206.4 101.0 205.3 100.0 204.5 99.1 203.7 98.0 203.1 97.0 202.3 95.0 201.8 92.5 201.8 90.0 202.3 87.5 202.8 86.0 203.3 85.0 204.5 83.2 206.1 81.5 208.0 80.2 210.0 79.3 211.0 79.0 212.5 78.8 215.0 78.8 217.5 79.3 219.5 80.1 220.5 80.6 221.5 81.4 223.0 82.9 224.1 84.5 225.0 86.5 225.2 87.5 225.4 89.0 225.5 91.5 225.0 94.0 224.7 95.0 224.1 96.5 223.0 98.5 221.5 100.3 220.5 101.2 219.5 101.9 217.5 102.9 216.5 103.2ZM215.5 102.0 213.5 102.2 211.5 102.0 209.5 101.3 208.5 100.8 207.5 100.1 206.0 98.7 204.7 97.0 203.7 95.0 203.2 93.0 203.1 92.0 203.0 90.5 203.3 88.5 203.9 86.5 204.9 84.5 205.6 83.5 206.5 82.6 208.0 81.4 209.0 80.9 210.0 80.4 212.0 79.9 214.0 79.8 216.0 80.1 218.0 80.8 219.0 81.3 220.0 81.9 221.5 83.2 222.8 85.0 223.5 86.5 224.0 88.5 224.2 90.5 223.9 93.0 223.3 95.0 222.4 97.0 221.0 98.9 219.5 100.2 218.5 100.9 217.5 101.4ZM214.5 101.0 213.0 101.0 211.0 100.7 210.0 100.3 209.0 99.8 207.5 98.7 206.8 98.0 206.0 97.0 205.1 95.5 204.4 93.5 204.1 92.0 204.0 90.0 204.3 88.0 205.1 86.0 206.0 84.5 207.3 83.0 209.0 81.8 210.5 81.2 212.5 80.8 214.5 80.8 216.5 81.2 218.0 81.9 219.7 83.0 221.1 84.5 222.1 86.0 222.7 87.5 223.1 89.5 223.1 91.5 222.7 93.5 222.0 95.5 221.0 97.2 220.4 98.0 219.5 98.9 218.0 99.9 216.5 100.6 215.5 100.9ZM215.0 100.0 213.5 100.1 212.5 100.0 211.5 99.8 210.0 99.2 208.5 98.3 207.1 97.0 206.1 95.5 205.4 94.0 204.9 92.0 204.8 90.0 205.1 88.0 205.7 86.5 206.5 85.0 207.5 83.8 209.0 82.7 210.5 81.9 212.0 81.6 213.5 81.5 215.5 81.7 217.0 82.3 218.5 83.2 219.5 84.0 220.7 85.5 221.5 87.0 222.1 89.0 222.2 90.5 222.1 92.5 221.7 94.0 221.3 95.0 220.8 96.0 219.5 97.6 218.0 98.9 216.5 99.6ZM215.5 99.1 214.0 99.3 212.5 99.2 211.0 98.8 209.5 98.0 208.2 97.0 207.0 95.5 206.2 94.0 205.7 92.5 205.5 90.5 205.6 89.0 206.0 87.5 206.6 86.0 207.5 84.8 208.5 83.8 210.0 82.9 211.5 82.3 213.0 82.1 214.5 82.2 216.0 82.6 217.5 83.4 218.9 84.5 219.8 85.5 220.7 87.0 221.2 88.5 221.4 90.0 221.4 92.0 221.1 93.5 220.5 95.0 219.5 96.5 218.5 97.5 217.0 98.5ZM214.5 98.5 213.0 98.6 211.5 98.2 210.0 97.5 209.0 96.8 208.0 95.8 207.2 94.5 206.5 93.0 206.2 91.5 206.1 90.0 206.3 88.5 206.8 87.0 207.3 86.0 208.5 84.6 209.5 83.8 210.5 83.3 212.0 82.8 213.5 82.7 215.0 83.0 216.4 83.5 217.5 84.1 218.5 85.0 219.7 86.5 220.4 88.0 220.7 89.5 220.8 91.0 220.6 92.5 220.2 94.0 219.4 95.5 218.5 96.6 217.0 97.7 216.0 98.2ZM215.5 97.5 214.5 97.8 213.0 97.8 211.5 97.4 210.5 97.0 209.2 96.0 208.3 95.0 207.7 94.0 207.1 92.5 206.8 91.0 206.8 89.5 207.1 88.0 207.5 87.0 208.1 86.0 209.0 85.0 210.0 84.3 211.5 83.6 212.5 83.4 214.0 83.5 215.5 83.8 216.5 84.3 217.5 85.0 218.4 86.0 219.1 87.0 219.8 88.5 220.1 90.0 220.1 91.5 219.8 93.0 219.4 94.0 218.8 95.0 218.0 96.0 217.0 96.8ZM214.5 97.0 213.5 97.1 212.0 96.9 211.0 96.4 210.0 95.8 209.2 95.0 208.4 94.0 207.9 93.0 207.5 91.5 207.4 90.0 207.5 89.0 207.8 88.0 208.2 87.0 209.0 85.9 210.0 85.0 211.0 84.5 212.0 84.1 213.0 84.0 214.5 84.2 215.5 84.5 216.5 85.1 217.5 85.9 218.4 87.0 218.9 88.0 219.3 89.5 219.4 91.0 219.3 92.0 218.9 93.5 218.3 94.5 217.5 95.5 216.5 96.3 215.5 96.8ZM215.5 96.1 214.5 96.4 213.5 96.4 212.5 96.3 211.5 96.0 210.5 95.4 209.6 94.5 208.8 93.5 208.4 92.5 208.1 91.5 208.0 90.0 208.1 89.0 208.4 88.0 208.9 87.0 209.7 86.0 210.5 85.4 211.5 84.9 212.5 84.7 213.5 84.6 214.5 84.8 215.5 85.2 216.5 85.8 217.2 86.5 217.9 87.5 218.4 88.5 218.7 89.5 218.8 91.0 218.7 92.0 218.4 93.0 217.9 94.0 217.1 95.0 216.5 95.5ZM215.0 95.6 214.0 95.8 213.0 95.7 211.5 95.3 210.5 94.6 209.9 94.0 209.2 93.0 208.8 92.0 208.6 91.0 208.5 90.0 208.7 89.0 209.0 88.0 209.5 87.1 210.0 86.5 211.0 85.8 212.0 85.4 213.0 85.2 214.0 85.3 214.7 85.5 215.5 85.9 216.4 86.5 217.0 87.2 217.6 88.0 218.0 89.0 218.2 90.0 218.2 91.0 218.1 92.0 217.8 93.0 217.2 94.0 216.5 94.7 216.0 95.1ZM214.5 95.0 214.0 95.1 213.0 95.1 212.0 94.8 211.4 94.5 210.7 94.0 210.0 93.2 209.6 92.5 209.2 91.5 209.1 90.5 209.1 89.5 209.4 88.5 209.6 88.0 210.0 87.4 210.5 86.8 211.0 86.5 212.0 86.0 213.0 85.8 214.0 85.9 215.0 86.3 215.5 86.6 216.1 87.0 216.9 88.0 217.5 89.5 217.6 90.5 217.6 91.5 217.1 93.0 216.5 93.8 216.0 94.3 215.5 94.6ZM213.5 94.5 212.5 94.3 212.0 94.1 211.0 93.4 210.5 92.9 210.0 92.0 209.7 90.5 209.7 89.5 209.8 89.0 210.0 88.5 210.5 87.7 211.0 87.2 211.5 86.9 212.0 86.6 213.0 86.4 213.8 86.5 214.5 86.7 215.1 87.0 215.7 87.5 216.2 88.0 216.7 89.0 217.0 90.0 217.1 90.5 217.0 91.3 216.8 92.0 216.5 92.7 216.0 93.4 215.0 94.2 214.5 94.4ZM214.5 93.6 214.0 93.8 213.0 93.8 212.0 93.4 211.5 93.0 211.0 92.5 210.5 91.5 210.3 91.0 210.3 90.0 210.5 89.0 211.1 88.0 212.0 87.3 213.0 87.1 214.0 87.2 214.5 87.4 215.3 88.0 216.1 89.0 216.4 90.0 216.4 91.0 216.3 91.5 216.0 92.3 215.5 93.0 215.0 93.4ZM213.5 93.0 213.0 93.0 212.0 92.5 211.5 92.0 211.2 91.5 211.0 90.5 211.1 89.5 211.5 88.7 212.0 88.2 212.5 87.9 213.0 87.8 214.0 88.0 214.8 88.5 215.2 89.0 215.5 89.5 215.7 90.5 215.6 91.5 215.0 92.4 214.5 92.8 214.0 93.0ZM213.5 92.0 213.0 92.0 212.5 91.7 212.0 91.0 211.9 90.5 211.9 90.0 212.1 89.5 212.5 89.0 213.0 88.8 213.5 88.8 214.0 89.0 214.5 89.5 214.7 90.0 214.8 90.5 214.7 91.0 214.5 91.5 214.0 91.9Z" fill="none" stroke="#4a4a4a" stroke-width="0.5" stroke-linejoin="round" opacity="1"/>
<path d="M267.5 145.0 265.0 144.9 263.0 144.3 262.0 143.8 261.0 143.2 258.0 141.1 256.5 140.4 255.5 140.2 254.5 140.2 248.5 140.1 244.5 139.7 240.5 138.9 235.0 137.1 233.0 136.7 231.5 136.8 230.0 137.3 229.0 137.9 226.0 140.0 224.5 140.9 223.0 141.7 221.5 142.3 219.5 142.6 218.0 142.6 216.5 142.3 215.0 141.7 213.5 140.9 212.5 140.1 211.5 139.1 210.6 138.0 209.7 136.5 209.1 135.5 208.3 133.5 207.8 132.0 207.4 130.0 207.2 128.5 207.1 126.5 207.1 125.0 207.2 123.5 207.6 121.5 208.1 120.0 208.7 118.5 209.4 117.0 210.4 115.5 211.5 114.1 212.6 113.0 214.0 112.0 215.5 111.3 217.0 110.8 218.0 110.7 219.5 110.7 220.5 110.9 221.5 111.2 223.0 111.9 224.5 112.9 225.5 113.8 228.5 117.1 229.5 118.0 230.2 118.5 231.0 118.9 232.0 119.2 233.0 119.3 234.5 119.2 236.5 119.0 245.0 117.7 248.5 117.3 251.5 117.1 255.5 117.1 257.0 117.0 258.0 116.7 259.0 116.4 263.0 114.1 264.0 113.7 265.5 113.4 267.5 113.3 271.0 113.5 272.5 113.7 274.0 114.3 275.5 115.3 276.2 116.0 276.9 117.0 277.8 119.0 278.7 122.0 279.2 125.5 279.4 129.5 279.3 133.0 278.8 136.5 278.2 138.5 277.4 140.5 276.4 142.0 276.0 142.5 275.0 143.4 273.5 144.2 272.0 144.6 270.5 144.8ZM268.5 141.5 266.0 141.6 265.0 141.4 264.0 141.1 262.5 140.3 259.5 137.9 258.5 137.4 257.5 137.0 256.0 136.8 250.5 136.7 247.0 136.3 243.0 135.3 235.3 133.0 233.5 132.6 232.0 132.5 230.5 132.6 229.5 133.0 229.0 133.3 228.0 134.0 224.5 137.4 223.5 138.1 222.0 139.0 220.5 139.5 219.0 139.7 218.0 139.6 216.5 139.3 215.5 138.9 214.5 138.3 213.0 137.0 212.2 136.0 211.5 135.0 210.3 132.5 209.3 129.5 208.9 126.5 208.9 124.0 209.2 122.5 209.6 121.0 210.2 119.5 211.0 118.1 212.0 116.8 213.0 115.8 214.5 114.7 215.5 114.1 216.5 113.8 218.0 113.5 219.5 113.5 220.5 113.7 221.5 114.1 222.5 114.6 223.5 115.3 224.5 116.2 225.5 117.2 227.5 119.6 228.5 120.5 229.2 121.0 230.0 121.4 231.5 121.6 233.0 121.6 234.5 121.5 245.0 119.8 249.0 119.2 251.5 119.1 256.5 119.1 258.5 118.9 260.3 118.5 264.0 117.0 265.5 116.7 267.0 116.7 268.5 116.7 270.5 117.0 272.0 117.3 273.5 118.0 274.5 119.0 275.5 120.5 276.3 122.5 276.8 125.0 277.0 127.5 277.0 130.5 276.8 133.5 276.4 135.5 275.9 137.0 275.2 138.5 274.4 139.5 273.5 140.3 272.0 141.0 270.5 141.3ZM267.5 138.5 266.0 138.6 264.5 138.2 263.5 137.7 260.5 135.9 259.5 135.4 258.5 135.2 257.0 135.0 251.5 135.0 248.5 134.6 245.0 133.8 234.0 130.6 232.5 130.3 231.0 130.1 229.5 130.4 228.5 130.8 228.0 131.2 227.0 132.1 224.0 135.3 223.0 136.1 222.0 136.7 221.0 137.2 219.5 137.6 218.5 137.6 217.0 137.3 216.0 136.9 215.0 136.3 213.6 135.0 212.8 134.0 212.1 133.0 211.1 131.0 210.3 128.5 209.9 126.0 209.9 124.0 210.3 122.0 210.9 120.5 211.8 119.0 212.5 118.1 213.5 117.1 214.5 116.3 215.5 115.8 217.0 115.3 218.0 115.1 219.0 115.1 220.0 115.3 221.5 115.8 222.5 116.4 223.5 117.2 224.5 118.1 227.0 121.3 228.0 122.3 229.0 123.0 229.5 123.3 230.5 123.5 231.5 123.5 233.0 123.3 244.0 121.2 247.0 120.7 250.0 120.3 253.0 120.2 257.5 120.4 259.0 120.3 261.0 120.0 264.0 119.4 265.5 119.2 267.5 119.4 270.0 120.0 271.5 120.6 272.5 121.2 273.5 122.4 274.1 123.5 274.5 125.0 274.8 127.0 274.9 129.5 274.7 132.0 274.5 133.5 274.0 135.0 273.4 136.0 272.5 137.0 271.5 137.6 270.5 138.0ZM218.5 135.5 217.0 135.2 216.0 134.7 214.5 133.6 213.5 132.4 212.3 130.5 211.4 128.5 210.9 126.5 210.8 125.0 210.9 123.5 211.2 122.0 211.9 120.5 213.0 119.0 214.0 118.0 215.5 117.1 217.0 116.6 218.5 116.4 220.0 116.6 221.0 117.0 222.5 117.9 223.5 118.7 224.6 120.0 225.6 121.5 227.7 125.0 228.2 126.0 228.3 126.5 228.3 127.0 228.1 127.5 227.4 128.5 225.1 131.5 223.2 133.5 222.0 134.4 221.0 135.0 220.0 135.4ZM266.5 134.5 265.5 134.7 264.5 134.6 261.0 133.7 259.5 133.5 258.0 133.4 254.0 133.6 252.0 133.5 250.0 133.3 247.5 132.9 245.0 132.2 242.0 131.2 238.5 130.0 235.9 129.0 234.0 128.0 233.4 127.5 233.1 127.0 233.1 126.5 233.5 126.0 234.1 125.5 235.0 125.0 237.7 124.0 243.0 122.7 248.5 121.6 251.0 121.4 253.0 121.3 259.0 121.7 264.0 121.7 265.5 121.9 267.0 122.4 268.0 122.9 268.8 123.5 269.9 124.5 270.3 125.0 270.9 126.0 271.2 127.0 271.3 128.0 271.3 129.0 271.0 130.4 270.8 131.0 270.2 132.0 269.5 132.8 268.6 133.5 267.5 134.2ZM220.0 133.6 219.0 133.8 217.5 133.6 216.5 133.3 215.0 132.3 213.8 131.0 212.7 129.5 211.8 127.5 211.5 126.0 211.4 124.5 211.6 123.0 212.1 121.5 212.7 120.5 213.5 119.5 215.0 118.2 216.0 117.7 217.5 117.3 219.0 117.3 220.5 117.7 222.0 118.5 223.0 119.4 224.0 120.5 224.9 122.0 225.8 124.0 226.1 125.5 226.1 126.5 225.9 127.5 225.2 129.0 224.6 130.0 223.5 131.3 222.5 132.2 221.0 133.2ZM258.5 132.0 255.0 132.4 252.5 132.4 250.0 132.2 247.5 131.6 245.5 131.0 242.8 130.0 239.6 128.5 238.9 128.0 238.3 127.5 238.1 127.0 238.1 126.5 238.4 126.0 239.5 125.3 241.3 124.5 242.8 124.0 247.5 122.8 249.5 122.5 251.5 122.3 253.0 122.3 255.0 122.4 262.5 123.4 263.5 123.6 264.6 124.0 265.5 124.5 266.1 125.0 266.5 125.5 267.0 126.5 267.1 127.0 267.2 128.0 267.0 129.0 266.8 129.5 266.0 130.6 265.0 131.3 263.5 131.8ZM220.5 132.1 219.5 132.4 218.0 132.5 217.0 132.2 216.0 131.8 214.5 130.6 213.6 129.5 212.9 128.5 212.3 127.0 212.0 125.5 212.0 124.0 212.3 122.5 212.7 121.5 213.4 120.5 214.3 119.5 215.5 118.6 216.5 118.2 218.0 118.0 219.0 118.0 220.0 118.2 221.5 119.0 222.5 119.8 223.5 121.0 224.1 122.0 224.8 123.5 225.1 125.0 225.1 126.0 224.9 127.0 224.6 128.0 223.7 129.5 222.8 130.5 221.5 131.6ZM256.5 131.1 254.0 131.4 252.0 131.4 250.0 131.1 247.6 130.5 245.1 129.5 243.3 128.5 242.6 128.0 242.2 127.5 242.0 127.0 242.1 126.5 242.5 126.0 243.1 125.5 244.1 125.0 246.0 124.3 249.1 123.5 251.0 123.3 252.5 123.2 254.0 123.3 255.9 123.5 260.2 124.5 261.6 125.0 262.5 125.4 263.2 126.0 263.6 126.5 263.8 127.0 263.9 127.5 263.8 128.0 263.6 128.5 263.2 129.0 262.5 129.5 261.5 129.9 260.5 130.2ZM219.0 131.5 218.0 131.5 217.0 131.3 216.0 130.9 215.0 130.2 214.0 129.1 213.3 128.0 212.8 127.0 212.5 125.5 212.4 124.5 212.6 123.0 213.0 122.0 213.6 121.0 214.5 119.9 215.5 119.2 216.5 118.8 217.5 118.6 219.0 118.6 220.0 118.8 221.0 119.3 222.0 120.0 222.9 121.0 223.5 122.0 224.1 123.5 224.4 124.5 224.4 126.0 224.1 127.0 223.7 128.0 223.1 129.0 222.0 130.1 221.0 130.8 220.0 131.3ZM256.0 130.0 254.0 130.3 252.5 130.4 250.5 130.1 249.0 129.8 247.1 129.0 246.3 128.5 245.7 128.0 245.3 127.5 245.2 127.0 245.3 126.5 245.7 126.0 246.4 125.5 247.5 125.0 249.0 124.6 250.5 124.3 252.5 124.1 254.0 124.2 255.5 124.4 257.0 124.9 258.5 125.5 259.3 126.0 259.8 126.5 260.1 127.0 260.1 127.5 259.9 128.0 259.5 128.5 258.8 129.0 257.7 129.5ZM220.0 130.5 219.0 130.8 218.0 130.8 217.0 130.6 216.0 130.1 215.0 129.4 214.2 128.5 213.5 127.5 213.1 126.5 212.8 125.0 212.9 124.0 213.1 123.0 213.5 122.0 214.1 121.0 215.0 120.1 216.0 119.5 217.0 119.1 218.0 119.0 219.0 119.0 220.0 119.3 221.0 119.8 221.8 120.5 222.7 121.5 223.3 122.5 223.6 123.5 223.8 124.5 223.8 125.5 223.7 126.5 223.3 127.5 222.7 128.5 222.0 129.3 221.0 130.0ZM254.5 129.0 253.5 129.2 252.5 129.2 251.5 129.1 250.5 128.9 249.5 128.5 248.7 128.0 248.3 127.5 248.2 127.0 248.4 126.5 249.0 126.0 250.5 125.4 252.5 125.2 253.5 125.3 254.7 125.5 255.9 126.0 256.6 126.5 256.9 127.0 256.9 127.5 256.6 128.0 256.0 128.5ZM219.5 130.0 218.5 130.2 217.5 130.1 216.5 129.8 215.5 129.2 214.3 128.0 213.7 127.0 213.4 126.0 213.2 125.0 213.2 124.0 213.5 123.0 213.9 122.0 214.5 121.1 215.1 120.5 216.0 119.9 217.0 119.5 218.0 119.4 219.0 119.5 220.0 119.8 221.0 120.3 222.2 121.5 222.8 122.5 223.2 123.5 223.3 124.5 223.3 125.5 223.1 126.5 222.7 127.5 222.0 128.5 221.5 129.0 220.5 129.7ZM219.0 129.5 218.0 129.6 217.0 129.4 216.0 128.9 215.5 128.5 214.9 128.0 214.2 127.0 213.7 125.5 213.6 124.5 213.7 123.5 214.1 122.5 214.4 122.0 215.0 121.2 215.5 120.7 216.5 120.2 217.5 119.9 218.5 119.9 219.5 120.1 220.4 120.5 221.0 120.9 221.6 121.5 222.3 122.5 222.8 124.0 222.9 125.0 222.7 126.0 222.3 127.0 222.0 127.5 221.5 128.2 220.5 129.0 220.0 129.2ZM218.5 129.1 218.0 129.0 217.0 128.8 216.0 128.3 215.5 127.9 215.0 127.4 214.5 126.5 214.3 126.0 214.0 125.0 214.2 123.5 214.5 122.5 215.0 121.8 215.5 121.3 216.5 120.6 217.0 120.4 218.0 120.3 219.0 120.4 219.5 120.5 220.4 121.0 221.0 121.5 221.5 122.0 222.0 123.0 222.4 124.5 222.2 126.0 221.8 127.0 221.4 127.5 221.0 128.0 220.0 128.7 219.5 128.9ZM218.5 128.6 218.0 128.6 217.0 128.4 216.0 127.8 215.5 127.3 214.9 126.5 214.7 126.0 214.4 125.0 214.4 124.0 214.5 123.5 215.0 122.5 215.3 122.0 215.8 121.5 216.5 121.1 217.0 120.8 218.0 120.7 219.0 120.8 219.5 120.9 220.5 121.5 221.0 122.0 221.6 123.0 221.8 123.5 222.0 124.5 221.9 125.5 221.8 126.0 221.5 126.6 221.0 127.3 220.0 128.1 219.5 128.3ZM219.0 128.0 218.5 128.1 217.5 128.0 216.5 127.6 216.0 127.3 215.5 126.7 214.9 125.5 214.8 125.0 214.8 124.0 215.0 123.3 215.4 122.5 215.8 122.0 216.5 121.5 217.5 121.1 218.5 121.1 219.0 121.2 220.0 121.7 220.5 122.1 221.0 122.7 221.4 123.5 221.5 124.0 221.5 125.0 221.5 125.5 221.0 126.5 220.7 127.0 220.1 127.5ZM219.0 127.6 218.0 127.7 217.0 127.4 216.5 127.1 216.0 126.7 215.5 126.0 215.3 125.5 215.2 125.0 215.2 124.0 215.5 123.0 215.9 122.5 216.4 122.0 217.5 121.5 218.5 121.5 219.0 121.6 219.8 122.0 220.4 122.5 220.7 123.0 221.1 124.0 221.1 125.0 220.8 126.0 220.5 126.5 220.0 127.0ZM219.0 127.1 218.0 127.2 217.0 126.9 216.4 126.5 216.0 126.0 215.7 125.5 215.5 124.5 215.7 123.5 216.0 123.0 216.4 122.5 217.0 122.1 217.5 121.9 218.5 121.9 219.0 122.0 219.5 122.3 220.2 123.0 220.7 124.0 220.7 125.0 220.3 126.0 219.9 126.5ZM219.0 126.6 218.5 126.7 218.0 126.7 217.2 126.5 216.5 126.0 216.0 125.0 216.0 124.0 216.2 123.5 216.5 123.0 217.0 122.6 217.5 122.4 218.5 122.3 219.0 122.5 219.7 123.0 220.0 123.5 220.2 124.0 220.2 125.0 220.1 125.5 219.5 126.3ZM218.5 126.2 218.0 126.2 217.3 126.0 216.8 125.5 216.5 125.0 216.4 124.5 216.5 124.0 217.0 123.2 217.5 122.9 218.0 122.8 218.5 122.8 218.9 123.0 219.5 123.5 219.7 124.0 219.8 124.5 219.7 125.0 219.5 125.5 219.0 126.0ZM218.0 125.6 217.5 125.3 217.2 125.0 217.1 124.5 217.2 124.0 217.5 123.6 218.0 123.4 218.5 123.5 219.0 123.9 219.1 124.5 219.0 125.1 218.5 125.5Z" fill="none" stroke="#4a4a4a" stroke-width="0.5" stroke-linejoin="round" opacity="1"/>
<ellipse cx="213.2" cy="90.2" rx="1.4" ry="1.4" fill="#fff"/>
<ellipse cx="218" cy="124.3" rx="1.4" ry="1.4" fill="#fff"/>
<ellipse cx="254.2" cy="127.2" rx="2.4" ry="1.1" fill="#fff"/>
<rect x="191.6" y="73.0" width="42.3" height="38.7" fill="none" stroke="#0aad4f" stroke-width="1.7"/>
<line x1="234.0" y1="92.6" x2="321.3" y2="92.6" stroke="#0aad4f" stroke-width="3.3" stroke-linecap="butt"/>
<polygon points="330.8,92.6 321.3,97.5 321.3,87.7" fill="#0aad4f"/>
<text x="0" y="3.8" text-anchor="middle" style="font-size:10.5px;font-weight:bold;" fill="#000" textLength="72.5" lengthAdjust="spacingAndGlyphs" transform="translate(171.3 101.8) rotate(-90)">CD4 – BUV496</text>
<text x="199.2" y="177.0" text-anchor="start" style="font-size:10.5px;font-weight:bold;" fill="#000" textLength="64.5" lengthAdjust="spacingAndGlyphs">CD8 – BV421</text>
<path d="M170.8 156.3 V173.3 H189.2" fill="none" stroke="#000" stroke-width="2.1" stroke-linejoin="miter"/>
<polygon points="170.8,151.3 166.8,158.1 174.8,158.1" fill="#000"/>
<polygon points="194.2,173.3 187.4,169.2 187.4,177.4" fill="#000"/>
<rect x="369.0" y="2.6" width="62.0" height="34.5" fill="none" stroke="#4472c4" stroke-width="1.7"/>
<rect x="433.3" y="2.6" width="61.7" height="34.5" fill="none" stroke="#f41414" stroke-width="1.7"/>
<text x="400.5" y="24.0" text-anchor="middle" style="font-size:13.5px;font-weight:bold;" fill="#000" textLength="39.0" lengthAdjust="spacingAndGlyphs">Tconv</text>
<text x="464.0" y="24.0" text-anchor="middle" style="font-size:13.5px;font-weight:bold;" fill="#000" textLength="28.0" lengthAdjust="spacingAndGlyphs">Treg</text>
<path d="M372.8 38.0 V153.0 H491.0" fill="none" stroke="#333" stroke-width="0.8"/>
<text x="367.8" y="48.7" text-anchor="end" style="font-size:4.3px;" fill="#222">10<tspan dy="-1.5" style="font-size:3px">5</tspan></text>
<text x="367.8" y="76.8" text-anchor="end" style="font-size:4.3px;" fill="#222">10<tspan dy="-1.5" style="font-size:3px">4</tspan></text>
<text x="367.8" y="108.5" text-anchor="end" style="font-size:4.3px;" fill="#222">10<tspan dy="-1.5" style="font-size:3px">3</tspan></text>
<text x="367.8" y="127.5" text-anchor="end" style="font-size:4.3px;" fill="#222">0</text>
<text x="367.8" y="147.0" text-anchor="end" style="font-size:4.3px;" fill="#222">-10<tspan dy="-1.5" style="font-size:3px">3</tspan></text>
<text x="382.0" y="162.0" text-anchor="middle" style="font-size:4.3px;" fill="#222">-10<tspan dy="-1.5" style="font-size:3px">3</tspan></text>
<text x="401.0" y="162.0" text-anchor="middle" style="font-size:4.3px;" fill="#222">0</text>
<text x="420.0" y="162.0" text-anchor="middle" style="font-size:4.3px;" fill="#222">10<tspan dy="-1.5" style="font-size:3px">3</tspan></text>
<text x="453.0" y="162.0" text-anchor="middle" style="font-size:4.3px;" fill="#222">10<tspan dy="-1.5" style="font-size:3px">4</tspan></text>
<text x="481.0" y="162.0" text-anchor="middle" style="font-size:4.3px;" fill="#222">10<tspan dy="-1.5" style="font-size:3px">5</tspan></text>
<path d="M372.8 47.2h-3M372.8 75.3h-3M372.8 107.0h-3M372.8 126.0h-3M372.8 145.5h-3M382.0 153.0v3M401.0 153.0v3M420.0 153.0v3M453.0 153.0v3M481.0 153.0v3" fill="none" stroke="#222" stroke-width="0.8"/>
<path d="M375.8 153.0v1.5M378.3 153.0v1.5M380.8 153.0v1.5M383.3 153.0v1.5M385.8 153.0v1.5M388.3 153.0v1.5M390.8 153.0v1.5M393.3 153.0v1.5M395.8 153.0v1.5M398.3 153.0v1.5M400.8 153.0v1.5M403.3 153.0v1.5M405.8 153.0v1.5M408.3 153.0v1.5M410.8 153.0v1.5M413.3 153.0v1.5M415.8 153.0v1.5M418.3 153.0v1.5M420.8 153.0v1.5M423.3 153.0v1.5M425.8 153.0v1.5M428.3 153.0v1.5M430.8 153.0v1.5M433.3 153.0v1.5M435.8 153.0v1.5M438.3 153.0v1.5M440.8 153.0v1.5M443.3 153.0v1.5M445.8 153.0v1.5M448.3 153.0v1.5M450.8 153.0v1.5M453.3 153.0v1.5M455.8 153.0v1.5M458.3 153.0v1.5M460.8 153.0v1.5M463.3 153.0v1.5M465.8 153.0v1.5M468.3 153.0v1.5M470.8 153.0v1.5M473.3 153.0v1.5M475.8 153.0v1.5M478.3 153.0v1.5M480.8 153.0v1.5M483.3 153.0v1.5M485.8 153.0v1.5M488.3 153.0v1.5M372.8 40.0h-1.5M372.8 42.5h-1.5M372.8 45.0h-1.5M372.8 47.5h-1.5M372.8 50.0h-1.5M372.8 52.5h-1.5M372.8 55.0h-1.5M372.8 57.5h-1.5M372.8 60.0h-1.5M372.8 62.5h-1.5M372.8 65.0h-1.5M372.8 67.5h-1.5M372.8 70.0h-1.5M372.8 72.5h-1.5M372.8 75.0h-1.5M372.8 77.5h-1.5M372.8 80.0h-1.5M372.8 82.5h-1.5M372.8 85.0h-1.5M372.8 87.5h-1.5M372.8 90.0h-1.5M372.8 92.5h-1.5M372.8 95.0h-1.5M372.8 97.5h-1.5M372.8 100.0h-1.5M372.8 102.5h-1.5M372.8 105.0h-1.5M372.8 107.5h-1.5M372.8 110.0h-1.5M372.8 112.5h-1.5M372.8 115.0h-1.5M372.8 117.5h-1.5M372.8 120.0h-1.5M372.8 122.5h-1.5M372.8 125.0h-1.5M372.8 127.5h-1.5M372.8 130.0h-1.5M372.8 132.5h-1.5M372.8 135.0h-1.5M372.8 137.5h-1.5M372.8 140.0h-1.5M372.8 142.5h-1.5M372.8 145.0h-1.5M372.8 147.5h-1.5M372.8 150.0h-1.5" fill="none" stroke="#333" stroke-width="0.45"/>
<path d="M396.5 154.1h5M371.6 123.0v6" fill="none" stroke="#222" stroke-width="2"/>
<path d="M430.3 133.6h0M475.8 112.0h0M416.5 126.0h0M406.9 126.0h0M439.4 116.7h0M438.6 101.4h0M443.2 101.5h0M414.1 113.3h0M420.0 130.3h0M429.6 115.2h0M438.9 139.0h0M428.1 124.4h0M452.8 123.2h0M427.2 125.0h0M447.3 128.0h0M422.6 107.4h0M430.1 132.4h0M406.2 107.7h0M422.8 114.8h0M437.0 111.6h0M410.4 115.3h0M427.0 112.0h0M428.2 129.0h0M451.7 140.5h0M412.3 115.0h0M378.3 142.8h0M413.5 119.6h0M438.5 103.7h0M437.3 119.7h0M391.5 123.5h0M444.1 122.5h0M437.5 125.3h0M454.1 117.3h0M445.5 115.1h0M442.6 110.2h0M425.8 140.8h0M436.9 118.1h0M405.1 110.5h0M431.9 131.3h0M436.5 126.3h0M427.2 136.2h0M420.2 113.4h0M445.8 120.8h0M422.4 113.1h0M422.9 127.5h0M435.1 105.5h0M436.5 122.1h0M408.0 129.3h0M422.4 116.0h0M443.9 135.8h0M414.2 125.3h0M418.1 134.3h0M415.1 129.7h0M419.3 126.0h0M426.1 112.0h0M471.0 121.0h0M395.1 130.2h0M393.6 133.8h0M416.4 121.7h0M453.2 121.4h0M451.7 128.9h0M411.7 130.3h0M437.9 127.8h0M382.8 116.4h0M446.0 128.8h0M431.4 125.9h0M479.0 108.6h0M421.4 120.4h0M445.7 114.7h0M450.9 110.5h0M433.3 113.7h0M431.2 111.7h0M396.1 133.1h0M434.1 113.3h0M432.0 131.9h0M408.5 118.7h0M438.8 126.3h0M452.9 123.9h0M428.3 116.7h0M433.3 114.9h0" fill="none" stroke="#8a8a8a" stroke-width="0.8" stroke-linecap="round"/>
<path d="M420.7 82.8h0M426.6 83.7h0M418.8 92.5h0M416.7 92.6h0M420.8 90.5h0M454.2 89.4h0M424.8 88.3h0M437.1 75.9h0M426.5 89.1h0M428.4 88.6h0M445.3 93.4h0M447.7 92.1h0M431.0 87.9h0M431.2 85.8h0M432.5 75.9h0M430.3 87.8h0M421.4 87.8h0M442.2 86.8h0M464.1 69.8h0M432.1 75.2h0M400.0 88.9h0M442.3 85.9h0M442.7 72.3h0M446.9 90.6h0M435.3 83.9h0M443.9 84.6h0M438.1 84.4h0M403.5 87.8h0M437.8 93.3h0M422.7 87.8h0" fill="none" stroke="#8a8a8a" stroke-width="0.8" stroke-linecap="round"/>
<path d="M445.5 98.0 443.0 98.3 440.0 98.2 437.0 97.9 434.5 97.4 432.5 96.7 430.5 95.7 428.8 94.5 426.5 92.6 425.5 92.0 425.0 92.0 424.5 92.0 422.0 93.2 420.5 93.6 419.0 93.7 418.0 93.5 417.5 93.2 416.5 92.5 415.6 91.5 415.1 90.5 414.7 89.5 414.5 88.0 414.5 87.0 414.7 85.5 415.1 84.5 415.7 83.5 416.6 82.5 417.5 81.9 418.0 81.7 419.0 81.5 420.0 81.5 421.0 81.8 422.0 82.2 424.5 83.7 425.0 83.8 425.5 83.8 426.0 83.6 426.5 83.2 429.1 80.5 430.8 79.0 432.5 77.7 434.0 76.8 436.0 75.7 438.5 74.6 441.0 73.8 444.0 73.1 446.5 72.7 449.0 72.5 451.5 72.6 453.5 72.8 455.5 73.2 457.5 73.8 459.5 74.6 461.5 75.8 462.9 77.0 464.1 78.5 464.9 80.0 465.2 81.0 465.4 82.0 465.4 83.0 465.4 84.0 465.0 85.5 464.1 87.5 463.1 89.0 461.9 90.5 460.0 92.2 458.0 93.6 456.0 94.8 454.0 95.7 451.0 96.8 448.0 97.6ZM446.0 96.0 444.0 96.2 441.5 96.3 439.5 96.1 437.5 95.8 435.5 95.2 434.0 94.6 432.5 93.7 431.5 93.0 430.5 92.0 429.8 91.0 429.3 90.0 428.9 88.5 428.8 87.5 429.0 86.0 429.6 84.5 430.4 83.0 431.6 81.5 432.6 80.5 434.0 79.3 436.0 77.9 437.5 77.1 439.5 76.2 442.0 75.3 444.0 74.8 446.0 74.5 448.0 74.3 450.0 74.3 452.0 74.5 453.5 74.7 455.5 75.3 457.0 75.9 458.5 76.7 460.0 77.9 460.9 79.0 461.8 80.5 462.3 82.0 462.4 83.5 462.1 85.0 461.6 86.5 460.7 88.0 459.5 89.5 458.0 91.0 456.5 92.1 454.5 93.3 452.5 94.2 450.0 95.1 448.0 95.7ZM420.0 90.5 419.0 90.6 418.5 90.5 418.0 90.2 417.5 89.7 417.1 89.0 416.8 88.0 416.9 87.0 417.0 86.5 417.4 85.5 418.0 84.9 418.5 84.6 419.0 84.5 419.5 84.5 420.0 84.6 420.7 85.0 421.2 85.5 421.6 86.0 421.9 87.0 422.0 88.0 421.7 89.0 421.0 90.0 420.5 90.3ZM443.5 95.0 441.5 95.0 440.0 94.8 438.5 94.5 437.0 94.1 435.5 93.5 434.5 92.9 433.2 92.0 432.3 91.0 431.7 90.0 431.2 89.0 431.0 88.0 431.1 86.5 431.3 85.5 431.9 84.0 432.5 83.0 433.2 82.0 434.2 81.0 435.5 79.9 437.0 78.8 438.5 77.9 440.0 77.2 441.5 76.6 443.0 76.2 445.5 75.6 447.5 75.4 449.0 75.4 450.5 75.4 452.5 75.7 454.0 76.1 455.5 76.7 457.0 77.5 458.0 78.2 459.2 79.5 459.8 80.5 460.2 81.5 460.5 83.0 460.4 84.5 460.1 85.5 459.5 87.0 458.4 88.5 457.0 90.0 455.5 91.2 454.0 92.1 452.0 93.1 450.0 93.9 448.0 94.4 446.0 94.8ZM447.0 93.6 445.5 93.8 443.5 93.9 442.0 93.8 440.5 93.7 439.0 93.3 437.5 92.8 436.5 92.3 435.5 91.7 434.7 91.0 433.8 90.0 433.3 89.0 433.0 88.0 432.9 87.0 433.0 86.0 433.2 85.0 433.7 84.0 434.3 83.0 435.1 82.0 436.0 81.0 437.3 80.0 438.5 79.2 440.0 78.3 441.5 77.7 443.0 77.1 444.5 76.8 446.5 76.4 448.0 76.3 449.5 76.3 451.0 76.5 452.5 76.8 454.0 77.3 455.0 77.7 456.2 78.5 457.3 79.5 458.1 80.5 458.6 81.5 458.8 82.5 458.9 84.0 458.7 85.0 458.1 86.5 457.5 87.5 456.5 88.7 455.5 89.7 454.0 90.8 452.5 91.7 451.0 92.4 449.0 93.1ZM444.5 93.0 443.0 93.0 441.5 92.9 440.5 92.7 439.0 92.3 438.0 91.8 437.0 91.3 436.0 90.5 435.6 90.0 435.2 89.5 434.7 88.5 434.4 87.5 434.3 86.5 434.5 85.5 434.8 84.5 435.3 83.5 436.0 82.5 436.9 81.5 438.0 80.5 440.0 79.2 442.5 78.1 444.0 77.6 445.5 77.3 447.0 77.1 448.5 77.0 451.0 77.3 452.5 77.6 453.5 78.0 454.5 78.5 455.5 79.2 456.4 80.0 457.1 81.0 457.5 82.0 457.7 83.0 457.7 84.0 457.4 85.5 456.9 86.5 456.3 87.5 455.4 88.5 454.3 89.5 453.0 90.4 451.5 91.3 450.0 91.9 448.5 92.4 446.5 92.8ZM447.0 92.1 444.5 92.3 442.0 92.2 440.0 91.7 439.0 91.3 438.0 90.8 437.0 90.0 436.5 89.5 436.2 89.0 435.7 88.0 435.5 86.5 435.6 85.5 435.9 84.5 436.4 83.5 437.1 82.5 438.6 81.0 440.5 79.7 443.0 78.6 444.5 78.1 446.0 77.8 448.5 77.6 450.0 77.7 451.0 77.9 453.0 78.6 454.0 79.1 455.0 79.8 455.6 80.5 456.3 81.5 456.6 82.5 456.8 83.5 456.7 84.5 456.2 86.0 455.6 87.0 454.8 88.0 453.8 89.0 452.5 89.9 451.0 90.8 450.0 91.2 448.5 91.7ZM446.5 91.6 444.0 91.7 442.0 91.5 440.0 90.9 439.1 90.5 438.3 90.0 437.3 89.0 437.0 88.5 436.5 87.5 436.4 86.0 436.6 85.0 437.0 84.0 438.0 82.5 439.6 81.0 441.5 79.8 442.5 79.3 444.0 78.8 446.5 78.2 449.0 78.2 451.0 78.5 452.0 78.8 453.0 79.3 454.0 79.9 454.6 80.5 455.1 81.0 455.6 82.0 455.9 83.0 455.9 84.0 455.8 85.0 455.4 86.0 454.8 87.0 453.9 88.0 453.0 88.8 452.0 89.5 451.0 90.1 449.5 90.8 448.0 91.3ZM446.5 91.1 444.0 91.2 442.0 90.9 440.5 90.5 439.6 90.0 438.9 89.5 437.9 88.5 437.6 88.0 437.3 87.0 437.2 86.5 437.3 85.5 437.8 84.0 438.8 82.5 440.0 81.4 441.0 80.6 442.0 80.1 444.0 79.3 446.5 78.7 448.5 78.6 450.5 78.9 451.5 79.2 452.5 79.6 453.5 80.3 454.2 81.0 454.6 81.5 455.0 82.5 455.2 83.0 455.2 84.0 455.0 85.0 454.6 86.0 454.0 87.0 453.5 87.6 452.5 88.5 451.5 89.2 450.5 89.8 449.0 90.4 448.0 90.7ZM446.5 90.6 444.5 90.7 442.5 90.5 440.9 90.0 439.5 89.2 438.8 88.5 438.5 88.1 438.0 87.0 438.0 86.5 438.0 85.5 438.2 84.5 438.5 84.0 439.5 82.5 441.0 81.2 442.5 80.3 444.5 79.5 446.5 79.1 448.5 79.1 450.5 79.4 452.0 80.0 452.8 80.5 453.4 81.0 454.0 81.8 454.4 82.5 454.6 83.5 454.6 84.0 454.4 85.0 454.0 86.0 452.9 87.5 452.0 88.3 451.0 89.0 449.0 89.9 448.0 90.3ZM446.5 90.1 444.5 90.2 443.0 90.0 441.3 89.5 440.0 88.6 439.4 88.0 439.1 87.5 438.8 86.5 438.7 85.5 438.8 85.0 439.2 84.0 439.9 83.0 440.3 82.5 441.5 81.5 443.0 80.6 444.5 80.0 446.0 79.7 448.0 79.5 450.0 79.8 451.5 80.4 452.5 81.0 453.0 81.5 453.3 82.0 453.8 83.0 453.9 83.5 453.8 84.5 453.7 85.0 453.3 86.0 452.5 87.0 452.1 87.5 450.5 88.7 448.5 89.6ZM447.0 89.5 445.0 89.7 443.5 89.6 442.0 89.1 441.0 88.6 440.3 88.0 439.7 87.0 439.4 86.0 439.5 85.5 439.7 84.5 440.2 83.5 441.1 82.5 442.4 81.5 444.0 80.7 445.5 80.2 447.5 80.0 449.0 80.1 450.5 80.5 451.5 81.0 452.0 81.4 452.6 82.0 452.9 82.5 453.1 83.0 453.2 84.0 453.2 84.5 452.8 85.5 452.2 86.5 451.8 87.0 450.6 88.0 449.0 88.9ZM447.0 89.0 445.5 89.2 444.0 89.2 442.5 88.7 441.5 88.2 440.8 87.5 440.2 86.5 440.1 85.5 440.4 84.5 440.9 83.5 441.8 82.5 443.0 81.7 444.5 81.0 446.0 80.6 447.5 80.4 449.0 80.6 450.0 80.8 451.2 81.5 451.8 82.0 452.2 82.5 452.5 83.5 452.6 84.0 452.4 85.0 452.0 85.9 451.6 86.5 450.5 87.5 449.0 88.4 448.0 88.8ZM447.0 88.6 445.5 88.8 444.5 88.7 443.4 88.5 442.3 88.0 441.5 87.4 441.0 86.5 440.8 85.5 441.0 84.5 441.6 83.5 442.5 82.6 443.5 81.9 444.5 81.4 445.5 81.1 447.0 80.9 448.5 80.9 449.5 81.2 450.5 81.7 451.0 82.0 451.5 82.6 451.9 83.5 451.9 84.0 451.8 85.0 451.3 86.0 450.9 86.5 450.0 87.3 448.5 88.1ZM447.5 88.0 446.0 88.3 444.5 88.2 443.5 88.0 442.5 87.5 442.0 87.0 441.7 86.5 441.4 85.5 441.6 84.5 442.3 83.5 443.0 82.8 444.0 82.1 445.0 81.7 446.5 81.4 447.5 81.3 448.9 81.5 450.0 82.0 450.5 82.4 451.0 83.0 451.3 84.0 451.3 84.5 450.9 85.5 450.2 86.5 449.6 87.0 448.5 87.6ZM447.5 87.5 446.0 87.8 445.0 87.8 443.8 87.5 442.9 87.0 442.5 86.5 442.2 86.0 442.1 85.5 442.3 84.5 443.0 83.5 443.5 83.0 444.5 82.4 445.5 82.0 446.5 81.8 447.5 81.8 448.5 81.9 449.0 82.1 449.8 82.5 450.3 83.0 450.5 83.5 450.7 84.0 450.5 85.0 450.0 85.9 449.4 86.5 448.5 87.1ZM447.5 87.0 446.5 87.3 445.5 87.3 444.5 87.1 444.0 87.0 443.5 86.6 443.0 86.0 442.9 85.5 442.9 85.0 443.0 84.5 443.3 84.0 443.7 83.5 444.4 83.0 445.5 82.5 446.0 82.4 447.5 82.3 448.5 82.5 449.0 82.7 449.4 83.0 449.8 83.5 449.9 84.0 450.0 84.5 449.8 85.0 449.6 85.5 449.0 86.1 448.5 86.5ZM447.0 86.6 446.0 86.7 445.5 86.7 444.6 86.5 444.0 86.0 443.7 85.5 443.7 85.0 443.8 84.5 444.1 84.0 445.0 83.3 445.7 83.0 446.5 82.8 447.5 82.9 448.0 83.0 448.8 83.5 449.1 84.0 449.2 84.5 449.0 85.1 448.7 85.5 448.2 86.0ZM446.0 86.0 445.5 85.9 444.9 85.5 444.7 85.0 444.8 84.5 445.0 84.3 445.5 83.9 446.5 83.5 447.0 83.5 447.5 83.7 448.0 84.0 448.2 84.5 448.0 85.0 447.6 85.5 447.0 85.8Z" fill="none" stroke="#4a4a4a" stroke-width="0.5" stroke-linejoin="round" opacity="1"/>
<path d="M456.2 99.5 456.8 101.5 457.2 104.0 457.3 106.5 457.2 109.0 456.9 112.0 456.3 114.5 455.7 116.5 454.8 119.0 453.8 121.0 452.6 123.0 451.2 125.0 449.5 127.0 448.0 128.4 446.0 130.1 444.0 131.6 441.0 133.6 438.5 135.2 435.5 136.8 432.5 138.2 429.5 139.3 426.5 140.3 424.0 140.9 421.0 141.4 417.5 141.8 414.5 141.8 412.0 141.6 409.0 141.1 406.5 140.4 404.0 139.3 402.0 138.2 400.5 137.0 399.0 135.5 397.9 134.0 397.1 132.5 396.5 131.0 396.2 129.5 396.1 128.0 396.1 126.5 396.2 125.0 396.7 123.0 397.2 121.5 398.1 119.5 399.3 117.5 400.3 116.0 401.9 114.0 403.3 112.5 406.5 109.6 408.5 108.1 410.5 106.8 414.0 104.7 417.5 103.2 421.5 101.8 425.5 100.9 429.0 100.4 433.0 100.2 439.5 100.3 441.5 100.0 442.9 99.5M419.0 138.5 416.0 138.6 413.5 138.3 411.0 137.9 408.5 137.1 406.5 136.1 404.5 134.8 403.0 133.3 401.7 131.5 400.9 129.5 400.5 127.5 400.5 125.5 400.8 123.5 401.4 121.5 402.6 119.0 403.8 117.0 405.8 114.5 407.7 112.5 409.3 111.0 411.0 109.6 413.0 108.2 414.5 107.3 416.5 106.3 418.5 105.4 420.5 104.7 422.5 104.2 424.5 103.8 427.0 103.5 429.0 103.3 433.0 103.3 439.0 103.9 441.0 103.9 442.3 103.5 443.5 103.0 447.5 100.6 449.0 99.9 450.0 99.7 451.0 99.8 452.0 100.1 452.5 100.5 453.3 101.5 453.9 102.5 454.2 103.5 454.5 105.0 454.7 106.5 454.7 108.0 454.6 109.5 454.4 111.5 453.6 114.5 453.1 116.0 452.3 118.0 451.5 119.5 450.5 121.0 448.6 123.5 446.0 126.0 442.5 128.8 438.0 131.9 434.0 134.2 430.5 135.8 426.5 137.2 422.5 138.1ZM422.5 136.0 419.5 136.4 416.5 136.3 414.0 136.1 411.5 135.4 409.5 134.6 407.5 133.5 405.9 132.0 404.7 130.5 404.0 129.0 403.5 127.0 403.4 125.0 403.7 123.0 404.3 121.0 405.5 118.5 406.8 116.5 408.8 114.0 410.2 112.5 411.8 111.0 413.5 109.7 415.0 108.7 418.0 107.2 420.0 106.4 422.0 105.9 424.0 105.5 426.0 105.2 428.0 105.2 430.0 105.2 434.0 105.6 439.0 106.6 441.0 106.6 442.0 106.5 443.5 105.9 447.0 103.9 448.5 103.3 449.5 103.1 450.0 103.2 450.5 103.4 451.0 103.7 451.5 104.2 452.0 105.0 452.5 106.8 452.6 109.0 452.4 111.5 451.8 114.0 450.8 116.5 449.5 118.7 447.8 121.0 445.2 123.5 441.0 127.0 437.5 129.7 434.5 131.6 431.5 133.2 429.0 134.3 426.0 135.3ZM422.5 134.0 420.0 134.3 417.5 134.2 415.0 133.9 413.0 133.4 411.0 132.5 409.5 131.5 408.0 130.0 407.1 128.5 406.5 127.0 406.2 125.0 406.3 123.0 406.8 121.0 407.8 118.5 409.0 116.5 410.4 114.5 412.3 112.5 413.5 111.4 415.0 110.3 417.5 108.8 419.0 108.1 420.5 107.6 422.0 107.2 424.0 106.9 425.5 106.7 427.5 106.7 431.0 107.1 434.0 107.8 439.0 109.4 441.0 109.9 442.0 109.9 443.0 109.7 444.0 109.3 446.5 108.1 447.5 107.8 448.0 107.8 448.5 107.9 449.0 108.2 449.5 109.0 449.7 109.5 449.7 111.0 449.4 113.0 449.0 114.1 448.4 115.5 447.4 117.0 446.0 118.7 440.2 124.5 438.1 126.5 436.0 128.2 434.0 129.6 432.0 130.8 430.0 131.8 427.5 132.8 425.0 133.5ZM421.0 132.5 418.5 132.5 416.5 132.3 414.5 131.8 413.0 131.1 411.5 130.2 410.2 129.0 409.5 128.0 408.8 126.5 408.4 125.0 408.3 123.0 408.6 121.0 409.1 119.5 410.0 117.5 411.2 115.5 412.3 114.0 414.0 112.3 415.5 111.1 417.0 110.2 418.5 109.4 420.0 108.8 422.0 108.2 423.5 108.0 425.0 107.8 427.0 107.9 429.0 108.1 430.5 108.4 432.5 109.0 434.5 109.8 436.7 111.0 438.3 112.0 440.3 113.5 441.4 114.5 441.7 115.0 441.9 115.5 442.0 116.5 441.8 117.5 441.2 119.0 440.1 121.0 438.6 123.0 437.3 124.5 435.5 126.3 434.0 127.5 432.0 128.9 430.5 129.7 428.5 130.7 427.0 131.3 425.0 131.9 423.0 132.3ZM421.5 131.0 419.5 131.1 418.0 130.9 416.5 130.7 415.0 130.2 414.0 129.7 413.0 129.0 411.9 128.0 411.1 127.0 410.6 126.0 410.1 124.5 409.9 123.5 409.9 122.0 410.1 120.5 410.4 119.5 410.9 118.0 411.7 116.5 412.7 115.0 413.5 114.0 414.5 113.0 416.0 111.7 417.5 110.8 418.5 110.2 420.0 109.6 421.5 109.2 423.0 108.9 424.5 108.7 426.0 108.7 427.5 108.9 429.0 109.2 430.5 109.6 432.0 110.2 433.4 111.0 434.9 112.0 436.5 113.5 437.3 114.5 438.1 116.0 438.3 117.5 438.2 119.0 437.7 120.5 436.9 122.0 435.4 124.0 434.0 125.5 432.2 127.0 430.5 128.1 428.5 129.2 426.0 130.1 423.5 130.8ZM423.5 129.6 422.0 129.8 420.5 129.9 418.0 129.6 416.0 129.0 415.0 128.6 414.0 127.9 413.0 127.0 412.5 126.4 412.0 125.5 411.5 124.5 411.3 123.5 411.2 122.5 411.1 121.5 411.3 120.0 411.8 118.5 412.2 117.5 413.3 115.5 414.1 114.5 415.0 113.5 416.1 112.5 417.5 111.6 419.0 110.8 420.0 110.3 422.5 109.7 425.0 109.5 427.5 109.7 429.5 110.3 431.5 111.3 433.0 112.3 434.3 113.5 435.3 115.0 435.9 116.5 436.1 118.0 435.9 119.5 435.6 120.5 435.2 121.5 434.3 123.0 433.0 124.5 431.5 125.9 429.5 127.3 427.5 128.3 425.5 129.0ZM423.0 128.6 420.5 128.8 418.5 128.6 416.5 128.0 415.5 127.4 414.5 126.7 413.4 125.5 412.8 124.5 412.4 123.5 412.2 122.5 412.1 121.5 412.3 119.5 413.0 117.5 414.1 115.5 414.9 114.5 415.9 113.5 417.0 112.6 417.9 112.0 420.0 111.0 421.0 110.6 422.5 110.3 423.5 110.2 425.0 110.2 427.0 110.4 428.9 111.0 430.5 111.8 432.0 112.9 433.0 114.0 433.6 115.0 434.3 116.5 434.5 118.0 434.3 119.5 433.8 121.0 433.0 122.5 431.8 124.0 430.5 125.2 429.0 126.3 427.0 127.4 425.0 128.1ZM423.5 127.6 422.5 127.7 421.0 127.8 419.0 127.7 418.0 127.4 417.0 127.1 415.5 126.2 414.3 125.0 413.5 123.5 413.1 122.0 413.0 121.0 413.1 120.0 413.2 119.0 413.5 118.0 414.0 117.0 414.6 116.0 415.7 114.5 417.4 113.0 418.5 112.3 419.5 111.8 421.5 111.1 423.5 110.8 425.5 110.8 427.0 111.1 428.5 111.6 430.0 112.5 431.2 113.5 432.0 114.5 432.8 116.0 433.1 117.5 433.1 119.0 432.8 120.0 432.2 121.5 431.2 123.0 430.0 124.3 428.5 125.4 427.0 126.3 425.0 127.2ZM423.5 126.6 421.5 126.9 419.5 126.7 418.0 126.3 416.5 125.6 415.3 124.5 414.9 124.0 414.4 123.0 414.0 121.5 413.9 120.0 414.1 119.0 414.4 118.0 415.1 116.5 416.2 115.0 417.5 113.7 419.0 112.7 421.0 111.9 423.0 111.5 425.0 111.5 426.5 111.7 428.0 112.3 429.1 113.0 430.2 114.0 431.0 115.0 431.5 116.0 431.7 117.0 431.8 118.5 431.7 119.5 431.1 121.0 430.2 122.5 429.3 123.5 428.0 124.6 426.5 125.5 425.0 126.1ZM424.0 125.6 422.5 125.9 420.5 126.0 419.0 125.7 417.5 125.1 416.5 124.3 415.5 123.1 415.0 122.0 414.7 120.5 414.8 119.0 415.3 117.5 416.2 116.0 417.5 114.5 419.0 113.4 420.5 112.7 422.0 112.2 423.5 112.0 425.0 112.1 426.0 112.3 427.5 112.9 428.5 113.6 429.5 114.5 430.1 115.5 430.5 116.5 430.7 118.0 430.7 119.0 430.2 120.5 429.6 121.5 428.9 122.5 427.9 123.5 426.5 124.5 425.0 125.2ZM423.0 125.0 421.5 125.2 420.0 125.1 418.5 124.6 417.5 124.0 416.5 123.1 415.9 122.0 415.6 121.0 415.5 119.5 415.8 118.0 416.5 116.6 417.3 115.5 418.5 114.4 420.0 113.5 421.5 112.9 423.0 112.7 424.5 112.7 425.5 112.9 426.5 113.2 427.5 113.8 428.3 114.5 429.1 115.5 429.6 116.5 429.8 117.5 429.8 118.5 429.6 119.5 429.2 120.5 428.6 121.5 427.7 122.5 426.5 123.5 425.5 124.1 424.5 124.6ZM423.5 124.1 422.0 124.4 421.0 124.4 419.5 124.1 418.5 123.7 417.5 123.0 416.8 122.0 416.4 121.0 416.2 120.0 416.4 118.5 416.7 117.5 417.5 116.2 418.5 115.1 419.5 114.4 421.0 113.7 422.0 113.4 423.5 113.2 424.5 113.3 425.5 113.6 426.5 114.0 427.2 114.5 427.7 115.0 428.4 116.0 428.8 117.0 428.9 118.0 428.8 119.0 428.5 120.0 428.0 120.9 427.5 121.6 426.6 122.5 425.5 123.3 424.5 123.8ZM423.0 123.5 421.5 123.7 420.5 123.6 419.5 123.3 418.5 122.8 417.7 122.0 417.2 121.0 416.9 120.0 417.0 119.0 417.2 118.0 417.7 117.0 418.4 116.0 419.5 115.1 420.5 114.5 421.5 114.1 423.0 113.8 424.0 113.9 425.0 114.1 425.9 114.5 426.7 115.0 427.2 115.5 427.5 116.0 427.9 117.0 428.0 117.5 428.0 118.5 427.6 120.0 427.0 121.0 426.5 121.6 426.0 122.0 425.0 122.7 424.0 123.2ZM423.5 122.6 422.5 122.9 421.5 123.0 420.5 122.8 419.6 122.5 419.0 122.1 418.4 121.5 418.0 120.9 417.7 120.0 417.7 119.0 417.9 118.0 418.4 117.0 418.8 116.5 419.5 115.8 420.5 115.1 421.5 114.7 422.5 114.5 424.0 114.5 425.0 114.8 425.5 115.1 426.1 115.5 426.5 116.0 427.0 116.8 427.2 117.5 427.2 118.0 427.1 119.0 426.7 120.0 426.4 120.5 426.0 121.0 425.0 121.9ZM423.0 122.0 422.0 122.2 421.0 122.1 420.5 122.0 419.5 121.5 419.0 121.0 418.7 120.5 418.5 119.9 418.4 119.0 418.5 118.5 418.9 117.5 419.5 116.7 420.0 116.2 420.5 115.9 421.5 115.4 423.0 115.1 424.0 115.3 424.5 115.4 425.4 116.0 425.9 116.5 426.2 117.0 426.4 118.0 426.4 118.5 426.1 119.5 425.4 120.5 424.9 121.0 424.2 121.5ZM423.0 121.2 422.0 121.3 421.5 121.3 420.5 121.0 419.8 120.5 419.5 120.0 419.4 119.5 419.4 118.5 419.5 118.0 420.0 117.3 421.0 116.4 422.0 116.0 422.5 115.9 423.5 116.0 424.5 116.4 425.1 117.0 425.3 117.5 425.4 118.0 425.3 119.0 424.7 120.0 424.0 120.7ZM423.0 120.1 422.0 120.3 421.5 120.2 421.0 119.9 420.6 119.5 420.5 119.2 420.5 118.5 420.7 118.0 421.1 117.5 422.0 117.0 423.0 116.9 423.5 117.1 424.0 117.5 424.2 118.0 424.2 118.5 424.0 119.1 423.5 119.7Z" fill="none" stroke="#4a4a4a" stroke-width="0.5" stroke-linejoin="round" opacity="1"/>
<ellipse cx="446.6" cy="84.6" rx="1.8" ry="1.2" fill="#fff"/>
<ellipse cx="422" cy="118" rx="2.8" ry="2.1" fill="#fff"/>
<rect x="375.1" y="61.1" width="107.9" height="37.4" fill="none" stroke="#f41414" stroke-width="1.6"/>
<rect x="375.1" y="100.2" width="107.9" height="44.4" fill="none" stroke="#4472c4" stroke-width="1.6"/>
<line x1="483.7" y1="121.2" x2="521.0" y2="121.2" stroke="#4472c4" stroke-width="3.2" stroke-linecap="butt"/>
<polygon points="530.0,121.2 521.0,126.1 521.0,116.3" fill="#4472c4"/>
<text x="0" y="3.8" text-anchor="middle" style="font-size:10.5px;font-weight:bold;" fill="#000" textLength="54.5" lengthAdjust="spacingAndGlyphs" transform="translate(350.3 110.8) rotate(-90)">FoxP3 - PE</text>
<text x="378.7" y="178.3" text-anchor="start" style="font-size:10.5px;font-weight:bold;" fill="#000" textLength="58.0" lengthAdjust="spacingAndGlyphs">CD25 - APC</text>
<path d="M350.3 157.2 V174.7 H368.7" fill="none" stroke="#000" stroke-width="2.1" stroke-linejoin="miter"/>
<polygon points="350.3,152.2 346.3,159.0 354.3,159.0" fill="#000"/>
<polygon points="373.7,174.7 366.9,170.6 366.9,178.8" fill="#000"/>
<rect x="590.5" y="2.0" width="80.8" height="35.0" fill="none" stroke="#84660f" stroke-width="1.7"/>
<text x="630.5" y="23.7" text-anchor="middle" style="font-size:13.5px;font-weight:bold;" fill="#000" textLength="60.0" lengthAdjust="spacingAndGlyphs">Activated</text>
<path d="M567.4 46.0 V154.2 H688.6" fill="none" stroke="#333" stroke-width="0.8"/>
<text x="562.4" y="52.5" text-anchor="end" style="font-size:4.3px;" fill="#222">10<tspan dy="-1.5" style="font-size:3px">5</tspan></text>
<text x="562.4" y="75.6" text-anchor="end" style="font-size:4.3px;" fill="#222">10<tspan dy="-1.5" style="font-size:3px">4</tspan></text>
<text x="562.4" y="103.2" text-anchor="end" style="font-size:4.3px;" fill="#222">10<tspan dy="-1.5" style="font-size:3px">3</tspan></text>
<text x="562.4" y="119.1" text-anchor="end" style="font-size:4.3px;" fill="#222">0</text>
<text x="562.4" y="135.7" text-anchor="end" style="font-size:4.3px;" fill="#222">-10<tspan dy="-1.5" style="font-size:3px">3</tspan></text>
<text x="605.3" y="163.2" text-anchor="middle" style="font-size:4.3px;" fill="#222">0</text>
<text x="655.0" y="163.2" text-anchor="middle" style="font-size:4.3px;" fill="#222">10<tspan dy="-1.5" style="font-size:3px">4</tspan></text>
<text x="682.0" y="163.2" text-anchor="middle" style="font-size:4.3px;" fill="#222">10<tspan dy="-1.5" style="font-size:3px">5</tspan></text>
<path d="M567.4 51.0h-3M567.4 74.1h-3M567.4 101.7h-3M567.4 117.6h-3M567.4 134.2h-3M605.3 154.2v3M655.0 154.2v3M682.0 154.2v3" fill="none" stroke="#222" stroke-width="0.8"/>
<path d="M570.4 154.2v1.5M572.9 154.2v1.5M575.4 154.2v1.5M577.9 154.2v1.5M580.4 154.2v1.5M582.9 154.2v1.5M585.4 154.2v1.5M587.9 154.2v1.5M590.4 154.2v1.5M592.9 154.2v1.5M595.4 154.2v1.5M597.9 154.2v1.5M600.4 154.2v1.5M602.9 154.2v1.5M605.4 154.2v1.5M607.9 154.2v1.5M610.4 154.2v1.5M612.9 154.2v1.5M615.4 154.2v1.5M617.9 154.2v1.5M620.4 154.2v1.5M622.9 154.2v1.5M625.4 154.2v1.5M627.9 154.2v1.5M630.4 154.2v1.5M632.9 154.2v1.5M635.4 154.2v1.5M637.9 154.2v1.5M640.4 154.2v1.5M642.9 154.2v1.5M645.4 154.2v1.5M647.9 154.2v1.5M650.4 154.2v1.5M652.9 154.2v1.5M655.4 154.2v1.5M657.9 154.2v1.5M660.4 154.2v1.5M662.9 154.2v1.5M665.4 154.2v1.5M667.9 154.2v1.5M670.4 154.2v1.5M672.9 154.2v1.5M675.4 154.2v1.5M677.9 154.2v1.5M680.4 154.2v1.5M682.9 154.2v1.5M685.4 154.2v1.5M567.4 48.0h-1.5M567.4 50.5h-1.5M567.4 53.0h-1.5M567.4 55.5h-1.5M567.4 58.0h-1.5M567.4 60.5h-1.5M567.4 63.0h-1.5M567.4 65.5h-1.5M567.4 68.0h-1.5M567.4 70.5h-1.5M567.4 73.0h-1.5M567.4 75.5h-1.5M567.4 78.0h-1.5M567.4 80.5h-1.5M567.4 83.0h-1.5M567.4 85.5h-1.5M567.4 88.0h-1.5M567.4 90.5h-1.5M567.4 93.0h-1.5M567.4 95.5h-1.5M567.4 98.0h-1.5M567.4 100.5h-1.5M567.4 103.0h-1.5M567.4 105.5h-1.5M567.4 108.0h-1.5M567.4 110.5h-1.5M567.4 113.0h-1.5M567.4 115.5h-1.5M567.4 118.0h-1.5M567.4 120.5h-1.5M567.4 123.0h-1.5M567.4 125.5h-1.5M567.4 128.0h-1.5M567.4 130.5h-1.5M567.4 133.0h-1.5M567.4 135.5h-1.5M567.4 138.0h-1.5M567.4 140.5h-1.5M567.4 143.0h-1.5M567.4 145.5h-1.5M567.4 148.0h-1.5M567.4 150.5h-1.5M567.4 153.0h-1.5" fill="none" stroke="#333" stroke-width="0.45"/>
<path d="M600.5 155.3h5M566.2 114.6v6" fill="none" stroke="#222" stroke-width="2"/>
<path d="M619.6 110.6h0M625.2 143.8h0M605.8 73.4h0M621.7 135.5h0M622.3 122.7h0M608.4 95.2h0M622.0 91.6h0M597.7 90.0h0M636.4 142.6h0M607.8 94.9h0M616.1 94.5h0M625.8 106.6h0M604.2 131.6h0M608.8 112.0h0M613.9 102.3h0M616.9 95.5h0M597.4 68.3h0M602.6 94.3h0M613.8 109.0h0M619.0 110.2h0M606.9 95.2h0M594.9 105.0h0M618.4 117.5h0M612.9 104.9h0M622.4 108.3h0M620.6 118.5h0M615.9 131.5h0M608.8 101.5h0M606.7 93.7h0M628.0 139.7h0M614.2 118.2h0M624.6 122.5h0M624.8 85.3h0M608.2 116.1h0M626.9 109.9h0M606.3 101.6h0M608.1 92.6h0M627.5 96.7h0M614.2 146.9h0M624.7 114.1h0" fill="none" stroke="#8a8a8a" stroke-width="0.8" stroke-linecap="round"/>
<path d="M646.0 139.1 644.5 139.3 643.5 139.3 642.5 139.2 641.5 138.9 640.5 138.4 639.0 137.4 637.5 136.0 636.0 134.0 634.5 131.6 633.3 129.0 632.3 126.5 631.7 124.5 630.6 120.0 629.8 115.0 628.8 106.5 628.1 103.0 627.0 99.4 624.8 94.0 623.7 91.0 623.1 88.5 622.7 85.5 622.8 83.5 623.0 81.5 623.4 80.0 624.1 78.0 624.8 76.5 625.9 74.5 627.0 73.0 628.5 71.3 630.0 69.9 632.0 68.4 634.0 67.1 636.0 66.1 638.0 65.3 640.0 64.7 642.0 64.4 644.0 64.2 646.0 64.2 648.0 64.5 650.0 65.0 652.0 65.7 654.0 66.6 656.0 67.8 657.5 68.8 659.0 70.1 660.8 72.0 662.0 73.5 663.3 75.5 664.1 77.0 664.7 78.5 665.3 80.5 665.7 82.5 665.8 84.5 665.8 86.0 665.6 87.5 665.2 89.5 664.8 91.0 663.7 94.0 661.0 100.0 660.3 102.0 659.7 104.0 659.1 107.5 658.3 115.0 657.7 119.0 656.8 123.5 655.7 127.0 654.7 129.5 653.7 131.5 652.5 133.5 651.4 135.0 650.1 136.5 649.0 137.4 647.5 138.4ZM645.0 133.1 643.5 133.1 642.0 132.7 640.5 131.9 639.5 131.1 638.5 130.1 637.3 128.5 636.2 126.5 635.3 124.5 634.2 121.5 633.3 117.5 632.7 114.0 631.8 106.0 631.1 102.5 630.1 99.0 627.7 93.0 626.9 90.5 626.2 87.5 626.1 85.0 626.2 83.0 626.4 81.5 626.9 80.0 627.7 78.0 628.5 76.5 629.5 75.0 630.5 73.8 631.8 72.5 633.5 71.1 635.0 70.1 636.5 69.2 638.5 68.3 640.0 67.8 642.0 67.3 643.5 67.1 645.5 67.0 647.0 67.1 648.5 67.3 650.0 67.7 652.0 68.5 653.5 69.2 655.0 70.2 656.5 71.5 657.6 72.5 658.8 74.0 659.9 75.5 660.7 77.0 661.4 78.5 661.9 80.0 662.3 81.5 662.5 83.5 662.6 85.0 662.3 87.5 661.6 90.5 660.7 93.0 658.0 99.3 657.4 101.0 656.9 103.0 656.3 106.5 655.7 113.5 655.3 117.0 654.7 120.0 653.7 123.5 652.9 125.5 652.0 127.2 651.0 128.8 650.0 130.0 649.0 131.1 647.5 132.2 646.5 132.7ZM644.5 129.5 643.0 129.3 642.0 128.9 641.0 128.3 640.0 127.5 639.0 126.3 638.1 125.0 637.3 123.5 636.5 121.5 635.7 119.0 635.1 116.0 634.7 113.0 634.0 106.0 633.3 102.5 632.3 99.0 629.9 93.0 629.1 90.5 628.4 87.5 628.3 85.0 628.4 83.5 628.6 82.0 629.0 80.5 629.6 79.0 630.4 77.5 631.4 76.0 632.3 75.0 633.5 73.7 635.0 72.5 636.4 71.5 638.0 70.6 639.5 69.9 641.5 69.2 643.0 68.9 644.5 68.7 646.0 68.6 648.5 68.9 650.0 69.3 651.5 69.9 653.0 70.7 654.0 71.4 655.3 72.5 656.3 73.5 657.2 74.5 658.2 76.0 659.0 77.5 659.6 79.0 660.0 80.5 660.4 82.0 660.5 83.5 660.5 85.0 660.3 87.5 659.6 90.0 658.7 92.5 656.0 98.7 655.3 100.5 654.8 102.5 654.5 104.0 654.3 106.0 653.9 113.0 653.6 116.0 653.1 119.0 652.2 122.0 651.6 123.5 650.8 125.0 650.0 126.2 649.0 127.3 648.0 128.2 647.0 128.9 646.0 129.3ZM646.5 126.1 645.5 126.4 644.0 126.4 643.0 126.2 642.0 125.7 641.0 124.8 640.0 123.7 639.0 122.1 638.3 120.5 637.5 118.0 636.9 115.0 636.6 112.5 636.2 106.0 635.6 102.5 634.6 99.0 632.1 93.0 631.2 90.5 630.6 88.0 630.4 85.5 630.4 84.0 630.7 82.5 631.1 81.0 631.5 80.0 632.2 78.5 632.8 77.5 634.0 76.0 634.9 75.0 636.0 74.0 637.5 72.9 639.0 71.9 640.5 71.2 642.0 70.6 643.5 70.3 646.0 70.0 647.5 70.1 648.5 70.3 650.0 70.7 651.0 71.1 653.0 72.3 654.0 73.1 655.0 74.0 655.8 75.0 656.5 76.0 657.1 77.0 657.8 78.5 658.3 80.0 658.6 81.5 658.8 84.0 658.6 86.5 658.3 88.0 657.8 89.5 656.9 92.0 653.8 98.5 653.1 100.5 652.6 102.5 652.3 104.0 652.2 106.0 652.2 112.0 652.1 114.5 651.8 117.0 651.2 119.5 650.5 121.5 649.4 123.5 648.0 125.1 647.5 125.5ZM645.5 124.0 644.5 124.1 643.5 123.9 642.7 123.5 642.0 123.0 641.1 122.0 640.5 121.1 639.9 120.0 639.3 118.5 638.8 116.5 638.4 114.0 638.3 111.5 638.2 106.0 638.0 104.0 637.7 102.5 637.3 101.0 636.6 99.0 633.9 93.0 633.0 90.5 632.6 89.0 632.3 87.5 632.1 85.0 632.3 83.5 632.5 82.5 632.7 81.5 633.3 80.0 634.1 78.5 634.8 77.5 636.5 75.5 637.6 74.5 638.9 73.5 640.0 72.8 641.5 72.0 642.5 71.7 644.0 71.3 645.0 71.1 646.5 71.1 648.5 71.3 650.0 71.8 651.0 72.2 652.0 72.8 653.0 73.5 654.5 75.0 655.3 76.0 655.9 77.0 656.8 79.0 657.4 81.5 657.5 84.0 657.2 86.5 656.8 88.0 656.3 89.5 655.2 92.0 652.8 96.5 651.8 98.5 651.0 100.5 650.6 102.0 650.4 103.5 650.3 105.5 650.7 111.5 650.7 114.0 650.5 116.5 650.0 118.5 649.3 120.5 648.7 121.5 648.0 122.4 647.0 123.3 646.5 123.7ZM646.0 121.7 645.5 121.9 644.5 121.9 643.5 121.7 643.0 121.4 642.5 120.9 641.7 120.0 641.1 119.0 640.7 118.0 640.2 116.0 639.9 113.5 639.9 111.0 640.3 105.5 640.3 104.0 640.0 102.5 639.6 101.0 639.0 99.5 636.0 93.8 634.8 91.0 634.3 89.5 633.9 88.0 633.6 85.5 633.7 84.0 633.9 83.0 634.3 81.5 634.6 80.5 635.4 79.0 636.0 78.0 637.6 76.0 639.5 74.3 640.7 73.5 642.0 72.8 644.0 72.2 645.5 71.9 646.5 71.9 648.5 72.2 650.5 72.9 652.3 74.0 653.8 75.5 654.9 77.0 655.8 79.0 656.4 81.0 656.5 83.5 656.2 86.0 655.8 87.5 655.3 89.0 653.7 92.0 650.9 96.5 649.8 98.5 649.1 100.0 648.5 101.5 648.3 103.0 648.3 104.5 648.4 106.0 649.3 111.5 649.5 113.5 649.3 115.5 648.9 117.5 648.6 118.5 648.1 119.5 647.5 120.5 647.0 121.0ZM644.5 101.2 644.0 101.2 643.5 101.0 643.0 100.6 642.0 99.6 639.5 96.4 637.3 93.0 636.1 90.5 635.4 88.5 635.0 86.0 635.0 84.0 635.3 82.5 635.6 81.5 636.4 79.5 637.6 77.5 639.0 75.9 640.0 75.0 641.0 74.3 643.0 73.3 645.0 72.7 647.0 72.7 648.0 72.8 649.0 73.0 650.5 73.7 652.0 74.7 652.9 75.5 653.5 76.2 654.6 78.0 655.3 80.0 655.7 82.0 655.7 84.0 655.3 86.0 654.8 87.5 654.0 89.3 653.0 91.0 651.0 93.8 646.5 99.4 645.5 100.5 645.0 100.9ZM645.5 119.6 645.0 119.7 644.5 119.7 644.0 119.5 643.5 119.2 643.0 118.7 642.5 118.0 642.0 117.0 641.7 116.0 641.5 114.5 641.4 113.0 641.5 111.8 641.7 110.5 642.1 109.0 642.7 107.5 643.5 106.1 644.0 105.6 644.5 105.5 645.0 105.7 645.5 106.2 646.0 106.9 646.9 108.5 647.6 110.5 648.0 113.0 648.0 115.2 647.9 116.0 647.5 117.3 647.0 118.3 646.5 118.9 646.0 119.3ZM645.0 96.6 644.0 96.7 643.5 96.7 642.5 96.3 642.0 96.0 640.5 94.7 639.0 92.9 637.6 90.5 636.8 88.5 636.4 87.0 636.2 86.0 636.2 84.0 636.5 82.0 637.2 80.0 638.3 78.0 639.1 77.0 640.0 76.0 641.5 74.9 642.5 74.3 643.5 73.8 645.5 73.4 647.0 73.3 648.0 73.5 649.0 73.7 650.5 74.4 652.0 75.5 652.9 76.5 653.9 78.0 654.7 80.0 654.9 81.5 655.0 83.5 654.8 85.0 654.2 87.0 653.2 89.0 652.0 90.7 650.0 93.0 648.0 94.9 646.5 96.0ZM645.5 116.0 645.0 116.3 644.5 116.3 644.0 115.8 643.7 115.0 643.5 114.0 643.6 113.0 644.0 112.1 644.5 111.6 645.0 111.6 645.5 112.1 646.0 113.3 646.1 114.0 646.0 115.0ZM646.0 94.1 644.5 94.4 643.5 94.2 643.0 94.1 641.5 93.3 640.0 91.8 638.7 90.0 637.8 88.0 637.3 86.0 637.2 84.0 637.5 82.0 638.1 80.0 639.3 78.0 640.5 76.5 642.0 75.3 643.5 74.5 645.0 74.0 646.0 73.9 647.0 73.9 648.5 74.2 650.0 74.8 651.5 75.8 652.5 76.9 653.2 78.0 653.9 79.5 654.3 81.0 654.4 83.0 654.2 84.5 653.8 86.0 653.0 87.7 652.0 89.3 650.5 91.0 649.0 92.4 647.5 93.4ZM646.5 92.1 645.0 92.3 643.5 92.1 642.0 91.4 641.0 90.6 639.7 89.0 639.0 87.5 638.5 86.0 638.3 84.0 638.4 82.5 638.9 80.5 639.6 79.0 640.6 77.5 642.0 76.2 643.5 75.3 645.0 74.7 646.5 74.6 648.0 74.7 649.5 75.3 650.7 76.0 651.7 77.0 652.5 78.0 653.2 79.5 653.6 81.0 653.7 82.5 653.5 84.0 653.1 85.5 652.5 87.0 651.5 88.5 650.5 89.6 649.0 90.8 647.5 91.7ZM647.0 90.6 645.5 90.9 644.5 90.8 643.0 90.3 642.0 89.6 640.9 88.5 640.0 87.0 639.5 85.5 639.3 84.0 639.3 82.5 639.6 81.0 640.2 79.5 641.1 78.0 642.1 77.0 643.5 76.0 645.0 75.4 646.5 75.2 648.0 75.4 649.0 75.7 650.0 76.3 651.0 77.1 651.8 78.0 652.5 79.5 652.8 80.5 653.0 82.0 652.9 83.5 652.7 84.5 652.2 86.0 651.5 87.1 650.5 88.4 649.5 89.3 648.0 90.2ZM646.5 89.6 645.0 89.6 644.0 89.4 643.0 88.9 642.0 88.1 641.2 87.0 640.7 86.0 640.2 84.5 640.1 83.0 640.3 81.5 640.5 80.5 641.3 79.0 642.0 78.0 643.0 77.1 644.0 76.4 645.0 76.0 646.5 75.8 647.5 75.9 648.5 76.2 649.5 76.6 650.6 77.5 651.4 78.5 651.9 79.5 652.2 80.5 652.4 82.0 652.3 83.5 652.1 84.5 651.5 85.8 650.7 87.0 650.0 87.8 649.0 88.6 648.0 89.1ZM647.0 88.5 646.0 88.6 645.0 88.6 644.0 88.2 642.9 87.5 642.0 86.5 641.4 85.5 641.1 84.5 640.9 83.0 641.0 81.5 641.3 80.5 641.7 79.5 642.4 78.5 643.5 77.5 644.3 77.0 645.5 76.5 646.5 76.4 647.5 76.5 648.5 76.8 649.5 77.3 650.3 78.0 651.0 79.0 651.5 80.0 651.7 81.0 651.8 82.0 651.8 83.0 651.6 84.0 651.2 85.0 650.5 86.1 649.7 87.0 649.0 87.6 648.0 88.2ZM647.0 87.6 646.0 87.7 645.0 87.6 644.0 87.1 643.5 86.8 642.7 86.0 642.1 85.0 641.8 84.0 641.6 83.0 641.6 82.0 641.8 81.0 642.2 80.0 642.8 79.0 643.5 78.3 644.5 77.6 645.5 77.2 646.5 77.0 647.5 77.1 648.5 77.4 649.4 78.0 649.9 78.5 650.5 79.3 650.8 80.0 651.1 81.0 651.2 82.0 651.2 83.0 650.9 84.0 650.5 84.9 650.0 85.7 649.2 86.5 648.5 87.0 648.0 87.3ZM647.5 86.6 647.0 86.7 646.0 86.8 645.0 86.6 644.5 86.4 643.5 85.6 643.0 85.0 642.8 84.5 642.4 83.5 642.3 82.5 642.4 81.5 642.7 80.5 643.0 79.9 643.5 79.2 644.3 78.5 645.0 78.0 646.0 77.7 647.0 77.7 647.5 77.8 648.2 78.0 649.0 78.5 649.9 79.5 650.2 80.0 650.5 81.0 650.6 82.0 650.5 83.0 650.0 84.4 649.5 85.2 649.0 85.7 648.5 86.1ZM647.5 85.7 647.0 85.9 646.0 85.9 645.5 85.8 644.8 85.5 644.1 85.0 643.7 84.5 643.5 84.0 643.2 83.0 643.1 82.5 643.2 81.5 643.5 80.5 643.8 80.0 644.2 79.5 644.7 79.0 645.5 78.6 646.0 78.4 647.0 78.4 647.5 78.5 648.5 79.0 649.0 79.4 649.5 80.0 649.9 81.0 649.9 81.5 649.9 82.5 649.5 83.9 649.1 84.5 648.7 85.0 648.0 85.5ZM647.5 84.7 646.5 85.0 645.5 84.8 645.0 84.5 644.5 84.0 644.0 83.0 643.9 82.5 644.0 81.5 644.4 80.5 645.0 79.8 645.5 79.4 646.0 79.3 647.0 79.2 647.9 79.5 648.5 80.0 649.1 81.0 649.2 82.0 649.0 83.1 648.5 84.0 648.0 84.5ZM647.0 83.7 646.5 83.8 646.0 83.7 645.7 83.5 645.2 83.0 645.0 82.5 645.0 82.0 645.1 81.5 645.3 81.0 645.8 80.5 646.5 80.2 647.0 80.2 647.5 80.5 648.0 81.0 648.2 81.5 648.2 82.0 648.0 82.9 647.5 83.5Z" fill="none" stroke="#4a4a4a" stroke-width="0.5" stroke-linejoin="round" opacity="1"/>
<ellipse cx="647.1" cy="81.1" rx="1.5" ry="1.5" fill="#fff"/>
<path d="M578.5 55.1 H675.8 V144.1 H623.6 V107.4 H578.5 Z" fill="none" stroke="#84660f" stroke-width="1.5"/>
<text x="0" y="3.8" text-anchor="middle" style="font-size:10.5px;font-weight:bold;" fill="#000" textLength="89.2" lengthAdjust="spacingAndGlyphs" transform="translate(545.4 94.0) rotate(-90)">CD69 – PE-Vio770</text>
<text x="573.3" y="175.8" text-anchor="start" style="font-size:10.5px;font-weight:bold;" fill="#000" textLength="70.9" lengthAdjust="spacingAndGlyphs">CD44 – BV570</text>
<path d="M545.5 154.2 V171.7 H563.7" fill="none" stroke="#000" stroke-width="2.1" stroke-linejoin="miter"/>
<polygon points="545.5,149.2 541.5,156.0 549.5,156.0" fill="#000"/>
<polygon points="568.7,171.7 561.9,167.6 561.9,175.8" fill="#000"/>
</g>
<g id="panel-b">
<text x="22.5" y="210.0" text-anchor="start" style="font-size:15px;font-weight:bold;" fill="#000">b)</text>
<text x="56.5" y="207.2" text-anchor="start" style="font-size:15.3px;font-weight:bold;font-style:italic;" fill="#000" textLength="53.2" lengthAdjust="spacingAndGlyphs">Lamina</text>
<text x="117.6" y="207.2" text-anchor="start" style="font-size:15.3px;font-weight:bold;font-style:italic;" fill="#000" textLength="54.3" lengthAdjust="spacingAndGlyphs">Propria</text>
<rect x="92.5" y="275.0" width="30.5" height="61.6" fill="#fff" stroke="#000" stroke-width="1.6"/>
<rect x="128.3" y="272.5" width="30.9" height="64.1" fill="#d5d5d5" stroke="#000" stroke-width="1.6"/>
<circle cx="107.8" cy="246.2" r="4.3" fill="#fff" stroke="#000" stroke-width="1.7"/>
<circle cx="97.2" cy="272.0" r="4.3" fill="#fff" stroke="#000" stroke-width="1.7"/>
<circle cx="112.0" cy="271.3" r="4.3" fill="#fff" stroke="#000" stroke-width="1.7"/>
<circle cx="119.2" cy="270.0" r="4.3" fill="#fff" stroke="#000" stroke-width="1.7"/>
<circle cx="104.2" cy="276.7" r="4.3" fill="#fff" stroke="#000" stroke-width="1.7"/>
<circle cx="107.8" cy="287.0" r="4.3" fill="#fff" stroke="#000" stroke-width="1.7"/>
<circle cx="107.8" cy="301.2" r="4.3" fill="#fff" stroke="#000" stroke-width="1.7"/>
<circle cx="144.2" cy="254.2" r="5.1" fill="#000" stroke="none" stroke-width="0"/>
<circle cx="155.3" cy="258.7" r="5.1" fill="#000" stroke="none" stroke-width="0"/>
<circle cx="132.8" cy="267.5" r="5.1" fill="#000" stroke="none" stroke-width="0"/>
<circle cx="144.2" cy="265.0" r="5.1" fill="#000" stroke="none" stroke-width="0"/>
<circle cx="144.2" cy="277.5" r="5.1" fill="#000" stroke="none" stroke-width="0"/>
<circle cx="155.3" cy="274.2" r="5.1" fill="#000" stroke="none" stroke-width="0"/>
<circle cx="144.2" cy="301.2" r="5.1" fill="#000" stroke="none" stroke-width="0"/>
<line x1="87.0" y1="224.3" x2="87.0" y2="337.9" stroke="#000" stroke-width="1.4" stroke-linecap="butt"/>
<line x1="81.7" y1="337.2" x2="87.0" y2="337.2" stroke="#000" stroke-width="1.4" stroke-linecap="butt"/>
<text x="80.4" y="340.5" text-anchor="end" style="font-size:8.3px;font-weight:bold;stroke:#000;stroke-width:0.25px" fill="#000">0</text>
<line x1="81.7" y1="314.8" x2="87.0" y2="314.8" stroke="#000" stroke-width="1.4" stroke-linecap="butt"/>
<text x="80.4" y="318.1" text-anchor="end" style="font-size:8.3px;font-weight:bold;stroke:#000;stroke-width:0.25px" fill="#000">10</text>
<line x1="81.7" y1="292.3" x2="87.0" y2="292.3" stroke="#000" stroke-width="1.4" stroke-linecap="butt"/>
<text x="80.4" y="295.6" text-anchor="end" style="font-size:8.3px;font-weight:bold;stroke:#000;stroke-width:0.25px" fill="#000">20</text>
<line x1="81.7" y1="269.9" x2="87.0" y2="269.9" stroke="#000" stroke-width="1.4" stroke-linecap="butt"/>
<text x="80.4" y="273.2" text-anchor="end" style="font-size:8.3px;font-weight:bold;stroke:#000;stroke-width:0.25px" fill="#000">30</text>
<line x1="81.7" y1="247.4" x2="87.0" y2="247.4" stroke="#000" stroke-width="1.4" stroke-linecap="butt"/>
<text x="80.4" y="250.8" text-anchor="end" style="font-size:8.3px;font-weight:bold;stroke:#000;stroke-width:0.25px" fill="#000">40</text>
<line x1="81.7" y1="225.0" x2="87.0" y2="225.0" stroke="#000" stroke-width="1.4" stroke-linecap="butt"/>
<text x="80.4" y="228.3" text-anchor="end" style="font-size:8.3px;font-weight:bold;stroke:#000;stroke-width:0.25px" fill="#000">50</text>
<text x="0" y="3.9" text-anchor="middle" style="font-size:10.7px;font-weight:bold;" fill="#000" textLength="95.0" lengthAdjust="spacingAndGlyphs" transform="translate(59.3 281.5) rotate(-90)">% CD4 Tconv cells</text>
<rect x="231.3" y="270.5" width="31.2" height="66.3" fill="#fff" stroke="#000" stroke-width="1.6"/>
<rect x="267.5" y="258.0" width="30.8" height="78.8" fill="#d5d5d5" stroke="#000" stroke-width="1.6"/>
<circle cx="235.3" cy="257.2" r="4.3" fill="#fff" stroke="#000" stroke-width="1.7"/>
<circle cx="243.0" cy="260.0" r="4.3" fill="#fff" stroke="#000" stroke-width="1.7"/>
<circle cx="250.3" cy="259.7" r="4.3" fill="#fff" stroke="#000" stroke-width="1.7"/>
<circle cx="257.8" cy="264.7" r="4.3" fill="#fff" stroke="#000" stroke-width="1.7"/>
<circle cx="243.0" cy="276.3" r="4.3" fill="#fff" stroke="#000" stroke-width="1.7"/>
<circle cx="250.0" cy="277.5" r="4.3" fill="#fff" stroke="#000" stroke-width="1.7"/>
<circle cx="247.0" cy="294.2" r="4.3" fill="#fff" stroke="#000" stroke-width="1.7"/>
<circle cx="272.2" cy="236.2" r="5.1" fill="#000" stroke="none" stroke-width="0"/>
<circle cx="294.7" cy="240.8" r="5.1" fill="#000" stroke="none" stroke-width="0"/>
<circle cx="272.2" cy="250.5" r="5.1" fill="#000" stroke="none" stroke-width="0"/>
<circle cx="294.7" cy="252.5" r="5.1" fill="#000" stroke="none" stroke-width="0"/>
<circle cx="272.2" cy="262.2" r="5.1" fill="#000" stroke="none" stroke-width="0"/>
<circle cx="294.7" cy="264.5" r="5.1" fill="#000" stroke="none" stroke-width="0"/>
<circle cx="283.3" cy="293.3" r="5.1" fill="#000" stroke="none" stroke-width="0"/>
<line x1="225.8" y1="225.1" x2="225.8" y2="338.1" stroke="#000" stroke-width="1.4" stroke-linecap="butt"/>
<line x1="220.5" y1="337.4" x2="225.8" y2="337.4" stroke="#000" stroke-width="1.4" stroke-linecap="butt"/>
<text x="219.2" y="340.7" text-anchor="end" style="font-size:8.3px;font-weight:bold;stroke:#000;stroke-width:0.25px" fill="#000">0</text>
<line x1="220.5" y1="309.5" x2="225.8" y2="309.5" stroke="#000" stroke-width="1.4" stroke-linecap="butt"/>
<text x="219.2" y="312.8" text-anchor="end" style="font-size:8.3px;font-weight:bold;stroke:#000;stroke-width:0.25px" fill="#000">10</text>
<line x1="220.5" y1="281.6" x2="225.8" y2="281.6" stroke="#000" stroke-width="1.4" stroke-linecap="butt"/>
<text x="219.2" y="284.9" text-anchor="end" style="font-size:8.3px;font-weight:bold;stroke:#000;stroke-width:0.25px" fill="#000">20</text>
<line x1="220.5" y1="253.7" x2="225.8" y2="253.7" stroke="#000" stroke-width="1.4" stroke-linecap="butt"/>
<text x="219.2" y="257.0" text-anchor="end" style="font-size:8.3px;font-weight:bold;stroke:#000;stroke-width:0.25px" fill="#000">30</text>
<line x1="220.5" y1="225.8" x2="225.8" y2="225.8" stroke="#000" stroke-width="1.4" stroke-linecap="butt"/>
<text x="219.2" y="229.1" text-anchor="end" style="font-size:8.3px;font-weight:bold;stroke:#000;stroke-width:0.25px" fill="#000">40</text>
<text x="0" y="3.9" text-anchor="middle" style="font-size:10.7px;font-weight:bold;" fill="#000" textLength="119.1" lengthAdjust="spacingAndGlyphs" transform="translate(197.5 281.2) rotate(-90)">% activated CD4 T cells</text>
<rect x="369.7" y="282.8" width="30.8" height="53.9" fill="#fff" stroke="#000" stroke-width="1.6"/>
<rect x="406.3" y="278.3" width="30.9" height="58.4" fill="#d5d5d5" stroke="#000" stroke-width="1.6"/>
<circle cx="385.5" cy="260.0" r="4.3" fill="#fff" stroke="#000" stroke-width="1.7"/>
<circle cx="374.2" cy="273.3" r="4.3" fill="#fff" stroke="#000" stroke-width="1.7"/>
<circle cx="385.5" cy="277.5" r="4.3" fill="#fff" stroke="#000" stroke-width="1.7"/>
<circle cx="396.7" cy="275.3" r="4.3" fill="#fff" stroke="#000" stroke-width="1.7"/>
<circle cx="385.5" cy="287.5" r="4.3" fill="#fff" stroke="#000" stroke-width="1.7"/>
<circle cx="391.0" cy="298.8" r="4.3" fill="#fff" stroke="#000" stroke-width="1.7"/>
<circle cx="380.0" cy="304.5" r="4.3" fill="#fff" stroke="#000" stroke-width="1.7"/>
<circle cx="421.7" cy="257.5" r="5.1" fill="#000" stroke="none" stroke-width="0"/>
<circle cx="410.5" cy="267.5" r="5.1" fill="#000" stroke="none" stroke-width="0"/>
<circle cx="433.0" cy="275.0" r="5.1" fill="#000" stroke="none" stroke-width="0"/>
<circle cx="410.5" cy="280.8" r="5.1" fill="#000" stroke="none" stroke-width="0"/>
<circle cx="421.7" cy="285.8" r="5.1" fill="#000" stroke="none" stroke-width="0"/>
<circle cx="433.0" cy="285.8" r="5.1" fill="#000" stroke="none" stroke-width="0"/>
<circle cx="410.5" cy="292.5" r="5.1" fill="#000" stroke="none" stroke-width="0"/>
<line x1="364.3" y1="227.6" x2="364.3" y2="338.0" stroke="#000" stroke-width="1.4" stroke-linecap="butt"/>
<line x1="359.0" y1="337.3" x2="364.3" y2="337.3" stroke="#000" stroke-width="1.4" stroke-linecap="butt"/>
<text x="357.7" y="340.6" text-anchor="end" style="font-size:8.3px;font-weight:bold;stroke:#000;stroke-width:0.25px" fill="#000">0</text>
<line x1="359.0" y1="310.1" x2="364.3" y2="310.1" stroke="#000" stroke-width="1.4" stroke-linecap="butt"/>
<text x="357.7" y="313.4" text-anchor="end" style="font-size:8.3px;font-weight:bold;stroke:#000;stroke-width:0.25px" fill="#000">5</text>
<line x1="359.0" y1="282.8" x2="364.3" y2="282.8" stroke="#000" stroke-width="1.4" stroke-linecap="butt"/>
<text x="357.7" y="286.1" text-anchor="end" style="font-size:8.3px;font-weight:bold;stroke:#000;stroke-width:0.25px" fill="#000">10</text>
<line x1="359.0" y1="255.6" x2="364.3" y2="255.6" stroke="#000" stroke-width="1.4" stroke-linecap="butt"/>
<text x="357.7" y="258.9" text-anchor="end" style="font-size:8.3px;font-weight:bold;stroke:#000;stroke-width:0.25px" fill="#000">15</text>
<line x1="359.0" y1="228.3" x2="364.3" y2="228.3" stroke="#000" stroke-width="1.4" stroke-linecap="butt"/>
<text x="357.7" y="231.6" text-anchor="end" style="font-size:8.3px;font-weight:bold;stroke:#000;stroke-width:0.25px" fill="#000">20</text>
<text x="0" y="3.9" text-anchor="middle" style="font-size:10.7px;font-weight:bold;" fill="#000" textLength="59.2" lengthAdjust="spacingAndGlyphs" transform="translate(337.2 282.9) rotate(-90)">% Treg cells</text>
</g>
<g id="panel-c">
<text x="21.9" y="370.5" text-anchor="start" style="font-size:15px;font-weight:bold;" fill="#000">c)</text>
<text x="114.7" y="367.5" text-anchor="middle" style="font-size:12px;font-weight:bold;" fill="#000" textLength="26.0" lengthAdjust="spacingAndGlyphs">IFNγ</text>
<text x="209.2" y="367.5" text-anchor="middle" style="font-size:12px;font-weight:bold;" fill="#000" textLength="36.7" lengthAdjust="spacingAndGlyphs">IL-17A</text>
<text x="307.9" y="367.5" text-anchor="middle" style="font-size:12px;font-weight:bold;" fill="#000" textLength="28.2" lengthAdjust="spacingAndGlyphs">IL-13</text>
<rect x="93.0" y="427.8" width="20.0" height="46.0" fill="#fff" stroke="#000" stroke-width="1.3"/>
<rect x="118.7" y="420.8" width="20.0" height="53.0" fill="#d5d5d5" stroke="#000" stroke-width="1.3"/>
<circle cx="99.5" cy="404.7" r="4.4" fill="#fff" stroke="#000" stroke-width="1.2"/>
<circle cx="105.8" cy="403.0" r="4.4" fill="#fff" stroke="#000" stroke-width="1.2"/>
<circle cx="103.0" cy="417.8" r="4.4" fill="#fff" stroke="#000" stroke-width="1.2"/>
<circle cx="103.0" cy="441.3" r="4.4" fill="#fff" stroke="#000" stroke-width="1.2"/>
<circle cx="108.8" cy="445.8" r="4.4" fill="#fff" stroke="#000" stroke-width="1.2"/>
<circle cx="98.3" cy="450.5" r="4.4" fill="#fff" stroke="#000" stroke-width="1.2"/>
<circle cx="124.5" cy="410.5" r="5.2" fill="#000" stroke="none" stroke-width="0"/>
<circle cx="135.0" cy="404.7" r="5.2" fill="#000" stroke="none" stroke-width="0"/>
<circle cx="135.0" cy="413.3" r="5.2" fill="#000" stroke="none" stroke-width="0"/>
<circle cx="124.5" cy="422.8" r="5.2" fill="#000" stroke="none" stroke-width="0"/>
<circle cx="134.2" cy="430.5" r="5.2" fill="#000" stroke="none" stroke-width="0"/>
<circle cx="129.2" cy="439.5" r="5.2" fill="#000" stroke="none" stroke-width="0"/>
<line x1="87.5" y1="376.0" x2="87.5" y2="475.1" stroke="#000" stroke-width="1.4" stroke-linecap="butt"/>
<line x1="82.0" y1="474.4" x2="87.5" y2="474.4" stroke="#000" stroke-width="1.4" stroke-linecap="butt"/>
<text x="78.4" y="479.2" text-anchor="end" style="font-size:12px;font-weight:bold" fill="#000">0</text>
<line x1="82.0" y1="450.0" x2="87.5" y2="450.0" stroke="#000" stroke-width="1.4" stroke-linecap="butt"/>
<text x="78.4" y="454.8" text-anchor="end" style="font-size:12px;font-weight:bold" fill="#000">100</text>
<line x1="82.0" y1="425.5" x2="87.5" y2="425.5" stroke="#000" stroke-width="1.4" stroke-linecap="butt"/>
<text x="78.4" y="430.3" text-anchor="end" style="font-size:12px;font-weight:bold" fill="#000">200</text>
<line x1="82.0" y1="401.1" x2="87.5" y2="401.1" stroke="#000" stroke-width="1.4" stroke-linecap="butt"/>
<text x="78.4" y="405.9" text-anchor="end" style="font-size:12px;font-weight:bold" fill="#000">300</text>
<line x1="82.0" y1="376.7" x2="87.5" y2="376.7" stroke="#000" stroke-width="1.4" stroke-linecap="butt"/>
<text x="78.4" y="381.5" text-anchor="end" style="font-size:12px;font-weight:bold" fill="#000">400</text>
<text x="0" y="4.4" text-anchor="middle" style="font-size:12.3px;font-weight:bold;" fill="#000" textLength="29.5" lengthAdjust="spacingAndGlyphs" transform="translate(48.4 422.8) rotate(-90)">gMFI</text>
<rect x="188.7" y="440.8" width="19.3" height="32.9" fill="#fff" stroke="#000" stroke-width="1.3"/>
<rect x="214.2" y="427.5" width="19.6" height="46.2" fill="#d5d5d5" stroke="#000" stroke-width="1.3"/>
<circle cx="198.0" cy="407.2" r="4.4" fill="#fff" stroke="#000" stroke-width="1.2"/>
<circle cx="193.3" cy="431.3" r="4.4" fill="#fff" stroke="#000" stroke-width="1.2"/>
<circle cx="202.8" cy="427.8" r="4.4" fill="#fff" stroke="#000" stroke-width="1.2"/>
<circle cx="193.3" cy="454.5" r="4.4" fill="#fff" stroke="#000" stroke-width="1.2"/>
<circle cx="204.5" cy="455.8" r="4.4" fill="#fff" stroke="#000" stroke-width="1.2"/>
<circle cx="198.0" cy="464.2" r="4.4" fill="#fff" stroke="#000" stroke-width="1.2"/>
<circle cx="224.2" cy="392.0" r="5.2" fill="#000" stroke="none" stroke-width="0"/>
<circle cx="224.2" cy="404.7" r="5.2" fill="#000" stroke="none" stroke-width="0"/>
<circle cx="217.8" cy="436.7" r="5.2" fill="#000" stroke="none" stroke-width="0"/>
<circle cx="224.2" cy="438.3" r="5.2" fill="#000" stroke="none" stroke-width="0"/>
<circle cx="230.8" cy="440.5" r="5.2" fill="#000" stroke="none" stroke-width="0"/>
<circle cx="219.5" cy="447.0" r="5.2" fill="#000" stroke="none" stroke-width="0"/>
<line x1="180.8" y1="375.8" x2="180.8" y2="475.0" stroke="#000" stroke-width="1.4" stroke-linecap="butt"/>
<line x1="175.3" y1="474.3" x2="180.8" y2="474.3" stroke="#000" stroke-width="1.4" stroke-linecap="butt"/>
<text x="174.0" y="479.1" text-anchor="end" style="font-size:12px;font-weight:bold" fill="#000">0</text>
<line x1="175.3" y1="449.9" x2="180.8" y2="449.9" stroke="#000" stroke-width="1.4" stroke-linecap="butt"/>
<text x="174.0" y="454.7" text-anchor="end" style="font-size:12px;font-weight:bold" fill="#000">2</text>
<line x1="175.3" y1="425.4" x2="180.8" y2="425.4" stroke="#000" stroke-width="1.4" stroke-linecap="butt"/>
<text x="174.0" y="430.2" text-anchor="end" style="font-size:12px;font-weight:bold" fill="#000">4</text>
<line x1="175.3" y1="400.9" x2="180.8" y2="400.9" stroke="#000" stroke-width="1.4" stroke-linecap="butt"/>
<text x="174.0" y="405.8" text-anchor="end" style="font-size:12px;font-weight:bold" fill="#000">6</text>
<line x1="175.3" y1="376.5" x2="180.8" y2="376.5" stroke="#000" stroke-width="1.4" stroke-linecap="butt"/>
<text x="174.0" y="381.3" text-anchor="end" style="font-size:12px;font-weight:bold" fill="#000">8</text>
<rect x="288.7" y="421.3" width="19.6" height="52.4" fill="#fff" stroke="#000" stroke-width="1.3"/>
<rect x="314.7" y="411.2" width="19.5" height="62.5" fill="#d5d5d5" stroke="#000" stroke-width="1.3"/>
<circle cx="298.7" cy="386.2" r="4.4" fill="#fff" stroke="#000" stroke-width="1.2"/>
<circle cx="298.7" cy="396.3" r="4.4" fill="#fff" stroke="#000" stroke-width="1.2"/>
<circle cx="303.3" cy="411.7" r="4.4" fill="#fff" stroke="#000" stroke-width="1.2"/>
<circle cx="293.7" cy="416.7" r="4.4" fill="#fff" stroke="#000" stroke-width="1.2"/>
<circle cx="294.2" cy="459.2" r="4.4" fill="#fff" stroke="#000" stroke-width="1.2"/>
<circle cx="302.8" cy="456.3" r="4.4" fill="#fff" stroke="#000" stroke-width="1.2"/>
<circle cx="318.3" cy="388.3" r="5.2" fill="#000" stroke="none" stroke-width="0"/>
<circle cx="330.8" cy="385.8" r="5.2" fill="#000" stroke="none" stroke-width="0"/>
<circle cx="324.2" cy="399.7" r="5.2" fill="#000" stroke="none" stroke-width="0"/>
<circle cx="320.8" cy="422.5" r="5.2" fill="#000" stroke="none" stroke-width="0"/>
<circle cx="328.8" cy="429.2" r="5.2" fill="#000" stroke="none" stroke-width="0"/>
<circle cx="324.2" cy="437.8" r="5.2" fill="#000" stroke="none" stroke-width="0"/>
<line x1="282.5" y1="376.0" x2="282.5" y2="475.0" stroke="#000" stroke-width="1.4" stroke-linecap="butt"/>
<line x1="277.0" y1="474.3" x2="282.5" y2="474.3" stroke="#000" stroke-width="1.4" stroke-linecap="butt"/>
<text x="275.7" y="479.1" text-anchor="end" style="font-size:12px;font-weight:bold" fill="#000">0</text>
<line x1="277.0" y1="441.8" x2="282.5" y2="441.8" stroke="#000" stroke-width="1.4" stroke-linecap="butt"/>
<text x="275.7" y="446.6" text-anchor="end" style="font-size:12px;font-weight:bold" fill="#000">1</text>
<line x1="277.0" y1="409.2" x2="282.5" y2="409.2" stroke="#000" stroke-width="1.4" stroke-linecap="butt"/>
<text x="275.7" y="414.0" text-anchor="end" style="font-size:12px;font-weight:bold" fill="#000">2</text>
<line x1="277.0" y1="376.7" x2="282.5" y2="376.7" stroke="#000" stroke-width="1.4" stroke-linecap="butt"/>
<text x="275.7" y="381.5" text-anchor="end" style="font-size:12px;font-weight:bold" fill="#000">3</text>
<text x="0" y="4.3" text-anchor="middle" style="font-size:12.2px;font-weight:bold" fill="#000" textLength="64" lengthAdjust="spacingAndGlyphs" transform="translate(156.2 421.2) rotate(-90)">gMFI (10<tspan dy="-4" style="font-size:7.5px">3</tspan><tspan dy="4">)</tspan></text>
<text x="0" y="4.3" text-anchor="middle" style="font-size:12.2px;font-weight:bold" fill="#000" textLength="64" lengthAdjust="spacingAndGlyphs" transform="translate(258.2 421.2) rotate(-90)">gMFI (10<tspan dy="-4" style="font-size:7.5px">3</tspan><tspan dy="4">)</tspan></text>
<circle cx="414.3" cy="410.7" r="6.0" fill="#fff" stroke="#000" stroke-width="1.5"/>
<text x="426.7" y="415.7" text-anchor="start" style="font-size:18.4px;font-weight:bold;font-style:italic;" fill="#000" textLength="43.3" lengthAdjust="spacingAndGlyphs">penk</text>
<text x="476.7" y="408.3" text-anchor="start" style="font-size:11px;font-weight:bold;font-style:italic;" fill="#000" textLength="16.0" lengthAdjust="spacingAndGlyphs">+/+</text>
<circle cx="519.3" cy="410.7" r="7" fill="#000" stroke="none" stroke-width="0"/>
<text x="531.7" y="415.7" text-anchor="start" style="font-size:18.4px;font-weight:bold;font-style:italic;" fill="#000" textLength="43.3" lengthAdjust="spacingAndGlyphs">penk</text>
<text x="581.0" y="408.3" text-anchor="start" style="font-size:11px;font-weight:bold;font-style:italic;" fill="#000" textLength="10.7" lengthAdjust="spacingAndGlyphs">-/-</text>
</g>
<g id="panel-d">
<text x="21.9" y="507.0" text-anchor="start" style="font-size:15px;font-weight:bold;" fill="#000">d)</text>
<text x="51.5" y="506.8" text-anchor="start" style="font-size:15.6px;font-weight:bold;" fill="#000" textLength="52.6" lengthAdjust="spacingAndGlyphs">Spleen</text>
<rect x="78.9" y="580.8" width="28.8" height="74.7" fill="#fff" stroke="#000" stroke-width="1.6"/>
<rect x="113.5" y="584.4" width="28.9" height="71.1" fill="#d5d5d5" stroke="#000" stroke-width="1.6"/>
<circle cx="93.3" cy="565.8" r="4.2" fill="#fff" stroke="#000" stroke-width="1.5"/>
<circle cx="82.8" cy="575.8" r="4.2" fill="#fff" stroke="#000" stroke-width="1.5"/>
<circle cx="90.0" cy="575.0" r="4.2" fill="#fff" stroke="#000" stroke-width="1.5"/>
<circle cx="82.8" cy="585.0" r="4.2" fill="#fff" stroke="#000" stroke-width="1.5"/>
<circle cx="97.0" cy="582.5" r="4.2" fill="#fff" stroke="#000" stroke-width="1.5"/>
<circle cx="104.2" cy="582.2" r="4.2" fill="#fff" stroke="#000" stroke-width="1.5"/>
<circle cx="96.7" cy="592.2" r="4.2" fill="#fff" stroke="#000" stroke-width="1.5"/>
<circle cx="89.5" cy="595.5" r="4.2" fill="#fff" stroke="#000" stroke-width="1.5"/>
<circle cx="117.2" cy="569.7" r="5.0" fill="#000" stroke="none" stroke-width="0"/>
<circle cx="124.2" cy="574.2" r="5.0" fill="#000" stroke="none" stroke-width="0"/>
<circle cx="131.3" cy="570.0" r="5.0" fill="#000" stroke="none" stroke-width="0"/>
<circle cx="138.3" cy="574.7" r="5.0" fill="#000" stroke="none" stroke-width="0"/>
<circle cx="131.3" cy="583.0" r="5.0" fill="#000" stroke="none" stroke-width="0"/>
<circle cx="123.8" cy="586.3" r="5.0" fill="#000" stroke="none" stroke-width="0"/>
<circle cx="138.3" cy="591.7" r="5.0" fill="#000" stroke="none" stroke-width="0"/>
<circle cx="127.5" cy="618.7" r="5.0" fill="#000" stroke="none" stroke-width="0"/>
<line x1="74.0" y1="541.6" x2="74.0" y2="657.5" stroke="#000" stroke-width="1.5" stroke-linecap="butt"/>
<line x1="69.0" y1="656.7" x2="74.0" y2="656.7" stroke="#000" stroke-width="1.5" stroke-linecap="butt"/>
<text x="67.1" y="659.9" text-anchor="end" style="font-size:7.9px;font-weight:bold;stroke:#000;stroke-width:0.25px" fill="#000">0</text>
<line x1="69.0" y1="628.1" x2="74.0" y2="628.1" stroke="#000" stroke-width="1.5" stroke-linecap="butt"/>
<text x="67.1" y="631.3" text-anchor="end" style="font-size:7.9px;font-weight:bold;stroke:#000;stroke-width:0.25px" fill="#000">20</text>
<line x1="69.0" y1="599.5" x2="74.0" y2="599.5" stroke="#000" stroke-width="1.5" stroke-linecap="butt"/>
<text x="67.1" y="602.7" text-anchor="end" style="font-size:7.9px;font-weight:bold;stroke:#000;stroke-width:0.25px" fill="#000">40</text>
<line x1="69.0" y1="571.0" x2="74.0" y2="571.0" stroke="#000" stroke-width="1.5" stroke-linecap="butt"/>
<text x="67.1" y="574.1" text-anchor="end" style="font-size:7.9px;font-weight:bold;stroke:#000;stroke-width:0.25px" fill="#000">60</text>
<line x1="69.0" y1="542.4" x2="74.0" y2="542.4" stroke="#000" stroke-width="1.5" stroke-linecap="butt"/>
<text x="67.1" y="545.6" text-anchor="end" style="font-size:7.9px;font-weight:bold;stroke:#000;stroke-width:0.25px" fill="#000">80</text>
<text x="0" y="3.9" text-anchor="middle" style="font-size:10.8px;font-weight:bold;" fill="#000" textLength="70.8" lengthAdjust="spacingAndGlyphs" transform="translate(47.5 599.6) rotate(-90)">% CD4 T cells</text>
<rect x="197.8" y="588.8" width="29.2" height="66.7" fill="#fff" stroke="#000" stroke-width="1.6"/>
<rect x="232.8" y="592.8" width="28.9" height="62.7" fill="#d5d5d5" stroke="#000" stroke-width="1.6"/>
<circle cx="216.2" cy="571.3" r="4.2" fill="#fff" stroke="#000" stroke-width="1.5"/>
<circle cx="202.2" cy="580.8" r="4.2" fill="#fff" stroke="#000" stroke-width="1.5"/>
<circle cx="209.2" cy="582.5" r="4.2" fill="#fff" stroke="#000" stroke-width="1.5"/>
<circle cx="202.2" cy="591.3" r="4.2" fill="#fff" stroke="#000" stroke-width="1.5"/>
<circle cx="216.2" cy="588.3" r="4.2" fill="#fff" stroke="#000" stroke-width="1.5"/>
<circle cx="223.3" cy="591.2" r="4.2" fill="#fff" stroke="#000" stroke-width="1.5"/>
<circle cx="216.2" cy="598.0" r="4.2" fill="#fff" stroke="#000" stroke-width="1.5"/>
<circle cx="209.2" cy="606.2" r="4.2" fill="#fff" stroke="#000" stroke-width="1.5"/>
<circle cx="258.3" cy="576.3" r="5.0" fill="#000" stroke="none" stroke-width="0"/>
<circle cx="247.5" cy="581.7" r="5.0" fill="#000" stroke="none" stroke-width="0"/>
<circle cx="236.7" cy="583.7" r="5.0" fill="#000" stroke="none" stroke-width="0"/>
<circle cx="258.3" cy="586.7" r="5.0" fill="#000" stroke="none" stroke-width="0"/>
<circle cx="236.7" cy="595.8" r="5.0" fill="#000" stroke="none" stroke-width="0"/>
<circle cx="247.5" cy="599.5" r="5.0" fill="#000" stroke="none" stroke-width="0"/>
<circle cx="258.3" cy="597.5" r="5.0" fill="#000" stroke="none" stroke-width="0"/>
<circle cx="247.5" cy="619.5" r="5.0" fill="#000" stroke="none" stroke-width="0"/>
<line x1="192.5" y1="537.5" x2="192.5" y2="657.2" stroke="#000" stroke-width="1.5" stroke-linecap="butt"/>
<line x1="187.5" y1="656.5" x2="192.5" y2="656.5" stroke="#000" stroke-width="1.5" stroke-linecap="butt"/>
<text x="185.6" y="659.7" text-anchor="end" style="font-size:7.9px;font-weight:bold;stroke:#000;stroke-width:0.25px" fill="#000">0</text>
<line x1="187.5" y1="627.0" x2="192.5" y2="627.0" stroke="#000" stroke-width="1.5" stroke-linecap="butt"/>
<text x="185.6" y="630.1" text-anchor="end" style="font-size:7.9px;font-weight:bold;stroke:#000;stroke-width:0.25px" fill="#000">20</text>
<line x1="187.5" y1="597.4" x2="192.5" y2="597.4" stroke="#000" stroke-width="1.5" stroke-linecap="butt"/>
<text x="185.6" y="600.6" text-anchor="end" style="font-size:7.9px;font-weight:bold;stroke:#000;stroke-width:0.25px" fill="#000">40</text>
<line x1="187.5" y1="567.8" x2="192.5" y2="567.8" stroke="#000" stroke-width="1.5" stroke-linecap="butt"/>
<text x="185.6" y="571.0" text-anchor="end" style="font-size:7.9px;font-weight:bold;stroke:#000;stroke-width:0.25px" fill="#000">60</text>
<line x1="187.5" y1="538.3" x2="192.5" y2="538.3" stroke="#000" stroke-width="1.5" stroke-linecap="butt"/>
<text x="185.6" y="541.5" text-anchor="end" style="font-size:7.9px;font-weight:bold;stroke:#000;stroke-width:0.25px" fill="#000">80</text>
<text x="0" y="3.9" text-anchor="middle" style="font-size:10.8px;font-weight:bold;" fill="#000" textLength="100.0" lengthAdjust="spacingAndGlyphs" transform="translate(166.3 597.5) rotate(-90)">% CD4 Tconv cells</text>
<rect x="316.3" y="604.7" width="28.7" height="50.8" fill="#fff" stroke="#000" stroke-width="1.6"/>
<rect x="350.8" y="596.7" width="29.2" height="58.8" fill="#d5d5d5" stroke="#000" stroke-width="1.6"/>
<circle cx="330.8" cy="581.3" r="4.2" fill="#fff" stroke="#000" stroke-width="1.5"/>
<circle cx="320.3" cy="593.7" r="4.2" fill="#fff" stroke="#000" stroke-width="1.5"/>
<circle cx="327.5" cy="603.0" r="4.2" fill="#fff" stroke="#000" stroke-width="1.5"/>
<circle cx="334.5" cy="603.3" r="4.2" fill="#fff" stroke="#000" stroke-width="1.5"/>
<circle cx="320.3" cy="607.8" r="4.2" fill="#fff" stroke="#000" stroke-width="1.5"/>
<circle cx="341.7" cy="610.8" r="4.2" fill="#fff" stroke="#000" stroke-width="1.5"/>
<circle cx="334.5" cy="615.0" r="4.2" fill="#fff" stroke="#000" stroke-width="1.5"/>
<circle cx="320.3" cy="619.5" r="4.2" fill="#fff" stroke="#000" stroke-width="1.5"/>
<circle cx="362.0" cy="565.8" r="5.0" fill="#000" stroke="none" stroke-width="0"/>
<circle cx="369.2" cy="569.2" r="5.0" fill="#000" stroke="none" stroke-width="0"/>
<circle cx="361.7" cy="588.3" r="5.0" fill="#000" stroke="none" stroke-width="0"/>
<circle cx="354.7" cy="594.7" r="5.0" fill="#000" stroke="none" stroke-width="0"/>
<circle cx="369.2" cy="596.7" r="5.0" fill="#000" stroke="none" stroke-width="0"/>
<circle cx="376.2" cy="593.8" r="5.0" fill="#000" stroke="none" stroke-width="0"/>
<circle cx="365.5" cy="619.2" r="5.0" fill="#000" stroke="none" stroke-width="0"/>
<circle cx="365.5" cy="640.0" r="5.0" fill="#000" stroke="none" stroke-width="0"/>
<line x1="310.8" y1="532.2" x2="310.8" y2="657.5" stroke="#000" stroke-width="1.5" stroke-linecap="butt"/>
<line x1="305.8" y1="656.7" x2="310.8" y2="656.7" stroke="#000" stroke-width="1.5" stroke-linecap="butt"/>
<text x="303.9" y="659.9" text-anchor="end" style="font-size:7.9px;font-weight:bold;stroke:#000;stroke-width:0.25px" fill="#000">0</text>
<line x1="305.8" y1="625.8" x2="310.8" y2="625.8" stroke="#000" stroke-width="1.5" stroke-linecap="butt"/>
<text x="303.9" y="628.9" text-anchor="end" style="font-size:7.9px;font-weight:bold;stroke:#000;stroke-width:0.25px" fill="#000">10</text>
<line x1="305.8" y1="594.9" x2="310.8" y2="594.9" stroke="#000" stroke-width="1.5" stroke-linecap="butt"/>
<text x="303.9" y="598.0" text-anchor="end" style="font-size:7.9px;font-weight:bold;stroke:#000;stroke-width:0.25px" fill="#000">20</text>
<line x1="305.8" y1="563.9" x2="310.8" y2="563.9" stroke="#000" stroke-width="1.5" stroke-linecap="butt"/>
<text x="303.9" y="567.1" text-anchor="end" style="font-size:7.9px;font-weight:bold;stroke:#000;stroke-width:0.25px" fill="#000">30</text>
<line x1="305.8" y1="533.0" x2="310.8" y2="533.0" stroke="#000" stroke-width="1.5" stroke-linecap="butt"/>
<text x="303.9" y="536.2" text-anchor="end" style="font-size:7.9px;font-weight:bold;stroke:#000;stroke-width:0.25px" fill="#000">40</text>
<text x="0" y="3.9" text-anchor="middle" style="font-size:10.8px;font-weight:bold;" fill="#000" textLength="133.3" lengthAdjust="spacingAndGlyphs" transform="translate(284.2 594.1) rotate(-90)">% activated CD4 T cells</text>
<rect x="430.3" y="608.0" width="29.2" height="47.5" fill="#fff" stroke="#000" stroke-width="1.6"/>
<rect x="465.5" y="596.7" width="29.2" height="58.8" fill="#d5d5d5" stroke="#000" stroke-width="1.6"/>
<circle cx="447.5" cy="589.7" r="4.2" fill="#fff" stroke="#000" stroke-width="1.5"/>
<circle cx="443.0" cy="595.0" r="4.2" fill="#fff" stroke="#000" stroke-width="1.5"/>
<circle cx="438.7" cy="609.2" r="4.2" fill="#fff" stroke="#000" stroke-width="1.5"/>
<circle cx="447.5" cy="610.0" r="4.2" fill="#fff" stroke="#000" stroke-width="1.5"/>
<circle cx="456.2" cy="610.0" r="4.2" fill="#fff" stroke="#000" stroke-width="1.5"/>
<circle cx="434.2" cy="615.8" r="4.2" fill="#fff" stroke="#000" stroke-width="1.5"/>
<circle cx="443.0" cy="614.2" r="4.2" fill="#fff" stroke="#000" stroke-width="1.5"/>
<circle cx="451.7" cy="617.2" r="4.2" fill="#fff" stroke="#000" stroke-width="1.5"/>
<circle cx="491.2" cy="575.5" r="5.0" fill="#000" stroke="none" stroke-width="0"/>
<circle cx="469.2" cy="580.8" r="5.0" fill="#000" stroke="none" stroke-width="0"/>
<circle cx="476.3" cy="579.7" r="5.0" fill="#000" stroke="none" stroke-width="0"/>
<circle cx="483.7" cy="583.0" r="5.0" fill="#000" stroke="none" stroke-width="0"/>
<circle cx="483.7" cy="593.8" r="5.0" fill="#000" stroke="none" stroke-width="0"/>
<circle cx="476.3" cy="601.3" r="5.0" fill="#000" stroke="none" stroke-width="0"/>
<circle cx="480.0" cy="611.3" r="5.0" fill="#000" stroke="none" stroke-width="0"/>
<circle cx="480.0" cy="643.3" r="5.0" fill="#000" stroke="none" stroke-width="0"/>
<line x1="425.0" y1="539.2" x2="425.0" y2="657.5" stroke="#000" stroke-width="1.5" stroke-linecap="butt"/>
<line x1="420.0" y1="656.7" x2="425.0" y2="656.7" stroke="#000" stroke-width="1.5" stroke-linecap="butt"/>
<text x="418.1" y="659.9" text-anchor="end" style="font-size:7.9px;font-weight:bold;stroke:#000;stroke-width:0.25px" fill="#000">0</text>
<line x1="420.0" y1="617.8" x2="425.0" y2="617.8" stroke="#000" stroke-width="1.5" stroke-linecap="butt"/>
<text x="418.1" y="621.0" text-anchor="end" style="font-size:7.9px;font-weight:bold;stroke:#000;stroke-width:0.25px" fill="#000">5</text>
<line x1="420.0" y1="578.9" x2="425.0" y2="578.9" stroke="#000" stroke-width="1.5" stroke-linecap="butt"/>
<text x="418.1" y="582.1" text-anchor="end" style="font-size:7.9px;font-weight:bold;stroke:#000;stroke-width:0.25px" fill="#000">10</text>
<line x1="420.0" y1="540.0" x2="425.0" y2="540.0" stroke="#000" stroke-width="1.5" stroke-linecap="butt"/>
<text x="418.1" y="543.2" text-anchor="end" style="font-size:7.9px;font-weight:bold;stroke:#000;stroke-width:0.25px" fill="#000">15</text>
<text x="0" y="3.9" text-anchor="middle" style="font-size:10.8px;font-weight:bold;" fill="#000" textLength="65.0" lengthAdjust="spacingAndGlyphs" transform="translate(398.3 598.3) rotate(-90)">% Treg cells</text>
</g>
<g id="panel-e">
<text x="21.2" y="705.1" text-anchor="start" style="font-size:15.3px;font-weight:bold;" fill="#000">e)</text>
<text x="87.0" y="702.0" text-anchor="start" style="font-size:13.3px;font-weight:bold;" fill="#000" textLength="81.2" lengthAdjust="spacingAndGlyphs">Myeloid cells</text>
<text x="221.0" y="702.0" text-anchor="start" style="font-size:13.3px;font-weight:bold;" fill="#000" textLength="95.0" lengthAdjust="spacingAndGlyphs">B lymphocytes</text>
<text x="65.5" y="860.2" style="font-size:13.3px;font-weight:bold" fill="#000" textLength="128.7" lengthAdjust="spacingAndGlyphs">CD8<tspan dy="-4" style="font-size:8px">+</tspan><tspan dy="4"> T lymphocytes</tspan></text>
<text x="207" y="860.2" style="font-size:13.3px;font-weight:bold" fill="#000" textLength="128.7" lengthAdjust="spacingAndGlyphs">CD4<tspan dy="-4" style="font-size:8px">+</tspan><tspan dy="4"> T lymphocytes</tspan></text>
<path d="M77.8 710.9 H181.5 V814.6" fill="none" stroke="#9a9a9a" stroke-width="0.7"/>
<path d="M77.8 710.9 V814.6 H181.5" fill="none" stroke="#333" stroke-width="0.8"/>
<text x="72.8" y="732.1" text-anchor="end" style="font-size:4.3px;" fill="#222">10<tspan dy="-1.5" style="font-size:3px">5</tspan></text>
<text x="72.8" y="753.7" text-anchor="end" style="font-size:4.3px;" fill="#222">10<tspan dy="-1.5" style="font-size:3px">4</tspan></text>
<text x="72.8" y="779.7" text-anchor="end" style="font-size:4.3px;" fill="#222">10<tspan dy="-1.5" style="font-size:3px">3</tspan></text>
<text x="72.8" y="794.3" text-anchor="end" style="font-size:4.3px;" fill="#222">0</text>
<text x="72.8" y="809.8" text-anchor="end" style="font-size:4.3px;" fill="#222">-10<tspan dy="-1.5" style="font-size:3px">3</tspan></text>
<text x="87.5" y="823.6" text-anchor="middle" style="font-size:4.3px;" fill="#222">-10<tspan dy="-1.5" style="font-size:3px">3</tspan></text>
<text x="102.6" y="823.6" text-anchor="middle" style="font-size:4.3px;" fill="#222">0</text>
<text x="120.5" y="823.6" text-anchor="middle" style="font-size:4.3px;" fill="#222">10<tspan dy="-1.5" style="font-size:3px">3</tspan></text>
<text x="148.3" y="823.6" text-anchor="middle" style="font-size:4.3px;" fill="#222">10<tspan dy="-1.5" style="font-size:3px">4</tspan></text>
<text x="173.4" y="823.6" text-anchor="middle" style="font-size:4.3px;" fill="#222">10<tspan dy="-1.5" style="font-size:3px">5</tspan></text>
<path d="M77.8 730.6h-3M77.8 752.2h-3M77.8 778.2h-3M77.8 792.8h-3M77.8 808.3h-3M87.5 814.6v3M102.6 814.6v3M120.5 814.6v3M148.3 814.6v3M173.4 814.6v3" fill="none" stroke="#222" stroke-width="0.8"/>
<path d="M80.8 814.6v1.5M83.3 814.6v1.5M85.8 814.6v1.5M88.3 814.6v1.5M90.8 814.6v1.5M93.3 814.6v1.5M95.8 814.6v1.5M98.3 814.6v1.5M100.8 814.6v1.5M103.3 814.6v1.5M105.8 814.6v1.5M108.3 814.6v1.5M110.8 814.6v1.5M113.3 814.6v1.5M115.8 814.6v1.5M118.3 814.6v1.5M120.8 814.6v1.5M123.3 814.6v1.5M125.8 814.6v1.5M128.3 814.6v1.5M130.8 814.6v1.5M133.3 814.6v1.5M135.8 814.6v1.5M138.3 814.6v1.5M140.8 814.6v1.5M143.3 814.6v1.5M145.8 814.6v1.5M148.3 814.6v1.5M150.8 814.6v1.5M153.3 814.6v1.5M155.8 814.6v1.5M158.3 814.6v1.5M160.8 814.6v1.5M163.3 814.6v1.5M165.8 814.6v1.5M168.3 814.6v1.5M170.8 814.6v1.5M173.3 814.6v1.5M175.8 814.6v1.5M178.3 814.6v1.5M77.8 712.9h-1.5M77.8 715.4h-1.5M77.8 717.9h-1.5M77.8 720.4h-1.5M77.8 722.9h-1.5M77.8 725.4h-1.5M77.8 727.9h-1.5M77.8 730.4h-1.5M77.8 732.9h-1.5M77.8 735.4h-1.5M77.8 737.9h-1.5M77.8 740.4h-1.5M77.8 742.9h-1.5M77.8 745.4h-1.5M77.8 747.9h-1.5M77.8 750.4h-1.5M77.8 752.9h-1.5M77.8 755.4h-1.5M77.8 757.9h-1.5M77.8 760.4h-1.5M77.8 762.9h-1.5M77.8 765.4h-1.5M77.8 767.9h-1.5M77.8 770.4h-1.5M77.8 772.9h-1.5M77.8 775.4h-1.5M77.8 777.9h-1.5M77.8 780.4h-1.5M77.8 782.9h-1.5M77.8 785.4h-1.5M77.8 787.9h-1.5M77.8 790.4h-1.5M77.8 792.9h-1.5M77.8 795.4h-1.5M77.8 797.9h-1.5M77.8 800.4h-1.5M77.8 802.9h-1.5M77.8 805.4h-1.5M77.8 807.9h-1.5M77.8 810.4h-1.5M77.8 812.9h-1.5" fill="none" stroke="#333" stroke-width="0.45"/>
<path d="M98.3 815.7h5M76.6 789.9v6" fill="none" stroke="#222" stroke-width="2"/>
<path d="M139.5 746.5 131.5 746.4 129.0 746.2 126.0 745.8 123.5 745.3 121.5 744.7 119.0 743.7 117.5 742.9 116.0 741.8 114.8 740.5 113.8 739.0 113.1 737.5 111.8 733.5 111.4 732.0 111.4 731.5 111.6 730.5 112.3 729.0 113.8 727.0 115.5 725.2 117.1 724.0 119.0 722.9 121.5 721.9 124.0 721.2 126.5 720.7 130.0 720.3 134.5 720.1 141.0 720.1 145.0 720.3 148.5 720.8 151.5 721.4 154.5 722.4 157.0 723.7 158.8 725.0 160.1 726.5 160.8 727.5 161.3 728.5 161.8 730.0 162.1 731.5 162.5 734.0 162.5 735.5 162.0 737.0 161.3 738.5 160.7 739.5 159.9 740.5 158.4 742.0 156.5 743.2 154.5 744.2 152.5 744.9 149.5 745.7 146.5 746.1 143.5 746.4Z" fill="#d4d4f8" stroke="none"/>
<path d="M139.5 746.5 131.5 746.4 129.0 746.2 126.0 745.8 123.5 745.3 121.5 744.7 119.0 743.7 117.5 742.9 116.0 741.8 114.8 740.5 113.8 739.0 113.1 737.5 111.8 733.5 111.4 732.0 111.4 731.5 111.6 730.5 112.3 729.0 113.8 727.0 115.5 725.2 117.1 724.0 119.0 722.9 121.5 721.9 124.0 721.2 126.5 720.7 130.0 720.3 134.5 720.1 141.0 720.1 145.0 720.3 148.5 720.8 151.5 721.4 154.5 722.4 157.0 723.7 158.8 725.0 160.1 726.5 160.8 727.5 161.3 728.5 161.8 730.0 162.1 731.5 162.5 734.0 162.5 735.5 162.0 737.0 161.3 738.5 160.7 739.5 159.9 740.5 158.4 742.0 156.5 743.2 154.5 744.2 152.5 744.9 149.5 745.7 146.5 746.1 143.5 746.4ZM144.5 744.5 141.5 744.8 138.0 744.8 133.5 744.8 130.5 744.6 128.0 744.3 125.5 743.8 123.5 743.2 121.5 742.4 119.8 741.5 118.6 740.5 117.6 739.5 116.6 738.0 114.9 734.0 114.4 732.5 114.3 731.5 114.4 731.0 114.8 730.0 115.9 728.5 117.3 727.0 119.0 725.6 120.5 724.7 122.0 723.9 124.0 723.2 126.0 722.7 128.0 722.3 131.0 722.0 134.0 721.8 139.5 721.8 143.0 721.9 146.0 722.2 148.5 722.7 151.0 723.3 153.0 724.1 154.6 725.0 156.0 726.1 157.3 727.5 158.2 729.0 159.2 731.5 159.8 733.5 159.9 734.5 159.8 735.5 159.3 737.0 158.4 738.5 157.0 740.0 155.5 741.2 154.0 742.1 152.0 742.9 149.5 743.7 147.0 744.2ZM145.5 743.0 143.0 743.3 140.5 743.4 136.0 743.5 132.5 743.4 130.0 743.1 128.0 742.8 126.0 742.3 124.0 741.6 122.5 740.9 121.1 740.0 120.1 739.0 119.3 738.0 117.3 734.5 116.6 733.0 116.4 732.0 116.5 731.5 116.8 730.5 117.4 729.5 118.5 728.4 120.0 727.2 122.0 725.9 123.5 725.1 125.0 724.6 126.5 724.1 129.0 723.6 131.5 723.3 134.5 723.2 139.0 723.1 142.5 723.3 145.0 723.5 147.0 723.9 149.0 724.4 151.0 725.1 152.6 726.0 154.0 727.0 155.3 728.5 156.5 730.1 157.6 732.0 158.2 733.5 158.3 735.0 158.1 736.0 157.4 737.5 156.6 738.5 155.5 739.4 154.0 740.4 152.0 741.3 150.5 741.8 148.0 742.5ZM143.0 742.0 140.5 742.2 138.0 742.2 134.5 742.2 132.0 742.0 128.5 741.5 127.0 741.1 125.3 740.5 124.0 739.8 122.9 739.0 121.8 738.0 120.5 736.3 119.2 734.5 118.5 733.0 118.3 732.0 118.5 731.0 119.1 730.0 120.0 729.1 121.0 728.3 123.0 727.1 124.5 726.3 126.0 725.7 128.0 725.2 130.0 724.8 132.5 724.5 135.0 724.4 139.0 724.4 142.0 724.5 144.0 724.7 146.0 725.1 148.0 725.6 149.5 726.2 151.0 727.0 152.5 728.1 155.0 730.4 156.3 732.0 156.8 733.0 157.2 734.5 157.2 735.5 156.8 736.5 156.1 737.5 155.1 738.5 154.0 739.2 152.5 739.9 150.0 740.7 148.0 741.2 145.5 741.7ZM144.5 740.5 142.0 740.8 140.0 740.9 134.0 740.9 130.5 740.5 129.0 740.2 127.5 739.7 126.0 739.0 125.0 738.4 123.5 737.2 122.0 735.6 121.0 734.5 120.4 733.5 120.0 732.5 120.0 731.5 120.2 731.0 121.0 730.0 122.0 729.2 123.5 728.3 125.5 727.4 127.0 726.8 130.0 726.1 132.0 725.8 134.0 725.7 140.0 725.7 142.0 725.8 144.0 726.1 145.5 726.4 147.0 726.8 149.0 727.7 151.0 728.8 153.0 730.1 154.5 731.2 155.6 732.5 156.1 733.5 156.3 734.5 156.3 735.5 155.9 736.5 155.1 737.5 154.0 738.3 153.0 738.9 152.0 739.3 150.0 739.8ZM144.0 739.5 140.0 739.8 135.0 739.8 131.5 739.5 129.0 738.8 127.5 738.2 126.0 737.4 124.5 736.3 123.0 735.0 122.1 734.0 121.5 733.0 121.4 732.5 121.3 732.0 121.4 731.5 121.7 731.0 122.1 730.5 123.5 729.4 125.5 728.5 128.0 727.6 130.5 727.1 133.0 726.8 135.5 726.7 139.5 726.8 142.0 727.0 144.0 727.3 146.0 727.8 148.5 728.7 151.0 729.8 153.0 730.9 154.4 732.0 155.1 733.0 155.4 733.5 155.7 734.5 155.6 735.5 155.1 736.5 154.7 737.0 153.5 738.0 152.0 738.7 150.0 739.1ZM150.5 738.6 148.5 738.8 144.5 738.6 140.0 738.8 137.0 738.8 133.5 738.6 131.0 738.2 129.5 737.8 128.0 737.2 126.5 736.4 125.0 735.4 123.9 734.5 123.0 733.5 122.6 732.5 122.6 732.0 122.7 731.5 123.0 731.0 123.5 730.5 124.5 729.8 125.5 729.3 127.0 728.8 130.0 728.0 133.0 727.7 137.0 727.6 141.0 727.9 144.0 728.4 149.0 729.7 151.5 730.7 152.5 731.2 153.5 731.9 154.5 733.0 155.0 734.0 155.1 735.0 154.8 736.0 154.5 736.5 154.0 737.1 153.0 737.8 152.0 738.2ZM151.0 738.1 150.0 738.3 148.5 738.3 143.5 737.9 136.5 738.0 134.0 737.8 131.5 737.4 129.5 736.8 128.5 736.4 127.0 735.7 125.8 735.0 125.0 734.4 124.2 733.5 123.9 733.0 123.7 732.5 123.7 732.0 123.9 731.5 124.5 730.8 125.5 730.1 126.5 729.7 128.0 729.2 129.5 728.8 132.5 728.4 136.0 728.3 140.5 728.6 143.0 729.0 148.5 730.2 150.5 730.7 151.5 731.1 152.5 731.7 153.5 732.5 154.0 733.0 154.5 734.0 154.6 735.0 154.5 735.5 154.3 736.0 153.9 736.5 153.4 737.0 152.6 737.5ZM151.5 737.6 150.0 737.9 148.5 737.9 143.5 737.3 136.5 737.3 134.5 737.1 132.0 736.8 130.5 736.4 129.0 735.9 127.5 735.2 126.5 734.6 125.7 734.0 125.2 733.5 124.9 733.0 124.8 732.5 124.8 732.0 125.0 731.5 125.5 731.0 126.2 730.5 127.5 730.0 130.0 729.3 133.0 729.0 136.0 729.0 140.0 729.2 149.0 730.8 151.0 731.3 152.3 732.0 153.5 733.0 154.1 734.0 154.2 735.0 153.8 736.0 153.4 736.5 152.8 737.0ZM150.5 737.5 149.5 737.6 148.0 737.6 143.5 736.8 136.5 736.7 134.0 736.5 132.0 736.2 129.5 735.4 127.5 734.5 126.5 733.7 125.9 733.0 125.8 732.5 125.9 732.0 126.2 731.5 126.7 731.0 127.7 730.5 128.5 730.2 131.0 729.7 133.5 729.5 136.0 729.5 139.0 729.7 145.0 730.7 149.5 731.2 151.0 731.7 152.5 732.5 153.0 733.0 153.4 733.5 153.7 734.0 153.8 734.5 153.8 735.0 153.6 735.5 153.4 736.0 152.9 736.5 152.0 737.1ZM151.0 737.1 150.0 737.3 148.5 737.3 147.5 737.2 144.5 736.4 143.5 736.3 136.5 736.2 134.5 736.0 132.5 735.7 130.0 735.0 128.8 734.5 127.9 734.0 127.3 733.5 127.0 733.0 126.8 732.5 126.9 732.0 127.3 731.5 128.0 731.0 129.4 730.5 131.5 730.1 134.0 729.9 136.0 729.9 138.5 730.1 140.5 730.4 144.5 731.1 148.0 731.4 149.5 731.6 151.0 732.0 151.9 732.5 152.5 733.0 153.0 733.5 153.3 734.0 153.4 734.5 153.4 735.0 153.2 735.5 152.9 736.0 152.0 736.7ZM150.0 737.0 149.0 737.1 148.0 736.9 144.5 736.0 143.5 735.8 142.5 735.7 139.0 735.8 136.5 735.8 134.5 735.6 132.5 735.3 130.5 734.7 129.1 734.0 128.4 733.5 128.0 733.0 127.9 732.5 128.0 732.0 128.5 731.5 129.6 731.0 131.5 730.5 134.0 730.3 136.0 730.4 138.5 730.6 144.5 731.6 148.0 731.7 149.5 731.9 151.0 732.4 152.0 732.9 152.6 733.5 152.9 734.0 153.0 734.5 153.0 735.0 152.8 735.5 152.4 736.0 151.5 736.6ZM151.0 736.5 149.5 736.8 148.0 736.6 147.0 736.4 144.5 735.5 143.0 735.2 137.5 735.4 135.5 735.3 133.5 735.0 131.5 734.5 130.3 734.0 129.5 733.5 129.1 733.0 129.0 732.5 129.2 732.0 129.9 731.5 130.5 731.3 132.0 730.9 134.5 730.7 136.5 730.8 138.6 731.0 144.0 732.1 145.0 732.2 148.0 732.0 149.5 732.2 150.5 732.5 151.5 733.0 152.1 733.5 152.5 734.0 152.6 734.5 152.6 735.0 152.4 735.5 152.0 736.0ZM149.5 736.5 148.5 736.4 147.5 736.2 146.5 735.8 144.5 734.9 143.5 734.6 142.5 734.5 139.5 734.9 137.5 734.9 135.5 734.8 133.5 734.5 131.7 734.0 130.8 733.5 130.3 733.0 130.2 732.5 130.6 732.0 131.8 731.5 133.5 731.2 135.0 731.2 137.0 731.3 138.9 731.5 141.0 732.0 143.0 732.6 144.0 732.8 147.5 732.4 148.5 732.4 149.5 732.5 150.5 732.8 151.5 733.4 152.1 734.0 152.2 734.5 152.2 735.0 152.0 735.4 151.5 735.9 150.5 736.4ZM140.5 734.1 139.0 734.3 137.5 734.4 136.0 734.4 134.5 734.2 133.6 734.0 132.3 733.5 131.7 733.0 131.7 732.5 132.4 732.0 134.0 731.7 136.0 731.7 138.5 732.0 140.4 732.5 141.3 733.0 141.5 733.5 140.7 734.0ZM150.5 736.1 150.0 736.2 149.0 736.2 147.5 735.9 146.7 735.5 145.9 735.0 145.3 734.5 145.0 734.0 145.2 733.5 146.3 733.0 147.0 732.8 148.5 732.7 149.5 732.8 150.3 733.0 151.2 733.5 151.6 734.0 151.8 734.5 151.8 735.0 151.5 735.5ZM138.5 733.5 137.0 733.7 135.5 733.6 134.7 733.5 133.7 733.0 134.1 732.5 134.5 732.4 135.5 732.3 137.0 732.4 137.6 732.5 138.8 733.0 138.6 733.5ZM150.5 735.7 150.0 735.8 149.0 735.9 147.6 735.5 146.7 735.0 146.3 734.5 146.2 734.0 146.6 733.5 148.0 733.1 149.0 733.0 150.0 733.3 150.6 733.5 151.0 733.9 151.4 734.5 151.3 735.0 150.8 735.5ZM149.5 735.5 148.5 735.4 147.6 735.0 147.2 734.5 147.2 734.0 148.0 733.5 149.0 733.4 149.5 733.5 150.5 734.0 150.8 734.5 150.7 735.0 150.0 735.4ZM149.5 735.1 148.6 735.0 148.0 734.5 148.3 734.0 149.0 733.9 149.5 733.9 150.0 734.3 150.1 734.5 150.0 734.8 149.8 735.0Z" fill="none" stroke="#4f4fdc" stroke-width="0.55" stroke-linejoin="round" opacity="1"/>
<path d="M120 732.2 L146 734.4" stroke="#fff" stroke-width="1" stroke-dasharray="2.2 1.2" opacity="0.75" fill="none"/>
<ellipse cx="150" cy="734.8" rx="2.8" ry="1.4" fill="#fff"/>
<path d="M129.0 735.1h0M158.1 736.1h0M153.4 733.5h0M143.7 732.0h0M142.5 739.5h0M118.4 732.7h0M140.1 730.1h0M133.0 736.9h0M163.0 736.1h0M141.2 725.2h0M162.1 733.4h0M136.6 727.4h0M136.3 727.5h0M137.9 735.3h0M137.4 734.4h0M125.9 740.1h0M128.5 723.9h0M134.6 729.2h0M123.9 731.2h0M140.8 727.1h0M135.2 740.1h0M145.9 732.2h0M138.7 732.4h0M136.4 736.7h0M135.8 721.0h0M136.7 728.6h0M145.5 729.9h0M138.9 743.9h0M123.4 727.4h0M118.7 721.0h0M112.6 734.8h0M128.7 723.7h0M117.7 736.1h0M126.9 731.2h0M141.3 739.8h0M162.2 738.2h0M138.9 733.9h0M160.4 740.1h0M133.0 735.3h0M140.7 733.3h0M130.5 726.4h0M130.1 725.3h0M152.9 735.7h0M121.3 740.0h0M148.6 723.5h0M160.9 737.0h0M163.8 726.8h0M143.9 735.1h0M139.6 733.9h0M150.7 725.5h0" fill="none" stroke="#8a8ae6" stroke-width="0.8" stroke-linecap="round"/>
<text x="0" y="3.8" text-anchor="middle" style="font-size:10.5px;font-weight:bold;" fill="#000" textLength="59.2" lengthAdjust="spacingAndGlyphs" transform="translate(54.0 776.4) rotate(-90)">CD45 – APC</text>
<text x="84.8" y="840.3" text-anchor="start" style="font-size:10.3px;font-weight:bold;" fill="#000" textLength="78.2" lengthAdjust="spacingAndGlyphs">CD11b – BB515</text>
<path d="M55.8 819.0 V836.0 H74.0" fill="none" stroke="#000" stroke-width="2.1" stroke-linejoin="miter"/>
<polygon points="55.8,814.0 51.8,820.8 59.8,820.8" fill="#000"/>
<polygon points="79.0,836.0 72.2,831.9 72.2,840.1" fill="#000"/>
<path d="M219.3 710.9 H323.0 V814.6" fill="none" stroke="#9a9a9a" stroke-width="0.7"/>
<path d="M219.3 710.9 V814.6 H323.0" fill="none" stroke="#333" stroke-width="0.8"/>
<text x="214.3" y="722.2" text-anchor="end" style="font-size:4.3px;" fill="#222">10<tspan dy="-1.5" style="font-size:3px">5</tspan></text>
<text x="214.3" y="746.7" text-anchor="end" style="font-size:4.3px;" fill="#222">10<tspan dy="-1.5" style="font-size:3px">4</tspan></text>
<text x="214.3" y="774.8" text-anchor="end" style="font-size:4.3px;" fill="#222">10<tspan dy="-1.5" style="font-size:3px">3</tspan></text>
<text x="214.3" y="791.4" text-anchor="end" style="font-size:4.3px;" fill="#222">0</text>
<text x="214.3" y="808.9" text-anchor="end" style="font-size:4.3px;" fill="#222">-10<tspan dy="-1.5" style="font-size:3px">3</tspan></text>
<text x="229.0" y="823.6" text-anchor="middle" style="font-size:4.3px;" fill="#222">-10<tspan dy="-1.5" style="font-size:3px">3</tspan></text>
<text x="244.1" y="823.6" text-anchor="middle" style="font-size:4.3px;" fill="#222">0</text>
<text x="262.0" y="823.6" text-anchor="middle" style="font-size:4.3px;" fill="#222">10<tspan dy="-1.5" style="font-size:3px">3</tspan></text>
<text x="289.8" y="823.6" text-anchor="middle" style="font-size:4.3px;" fill="#222">10<tspan dy="-1.5" style="font-size:3px">4</tspan></text>
<text x="314.9" y="823.6" text-anchor="middle" style="font-size:4.3px;" fill="#222">10<tspan dy="-1.5" style="font-size:3px">5</tspan></text>
<path d="M219.3 720.7h-3M219.3 745.2h-3M219.3 773.3h-3M219.3 789.9h-3M219.3 807.4h-3M229.0 814.6v3M244.1 814.6v3M262.0 814.6v3M289.8 814.6v3M314.9 814.6v3" fill="none" stroke="#222" stroke-width="0.8"/>
<path d="M222.3 814.6v1.5M224.8 814.6v1.5M227.3 814.6v1.5M229.8 814.6v1.5M232.3 814.6v1.5M234.8 814.6v1.5M237.3 814.6v1.5M239.8 814.6v1.5M242.3 814.6v1.5M244.8 814.6v1.5M247.3 814.6v1.5M249.8 814.6v1.5M252.3 814.6v1.5M254.8 814.6v1.5M257.3 814.6v1.5M259.8 814.6v1.5M262.3 814.6v1.5M264.8 814.6v1.5M267.3 814.6v1.5M269.8 814.6v1.5M272.3 814.6v1.5M274.8 814.6v1.5M277.3 814.6v1.5M279.8 814.6v1.5M282.3 814.6v1.5M284.8 814.6v1.5M287.3 814.6v1.5M289.8 814.6v1.5M292.3 814.6v1.5M294.8 814.6v1.5M297.3 814.6v1.5M299.8 814.6v1.5M302.3 814.6v1.5M304.8 814.6v1.5M307.3 814.6v1.5M309.8 814.6v1.5M312.3 814.6v1.5M314.8 814.6v1.5M317.3 814.6v1.5M319.8 814.6v1.5M219.3 712.9h-1.5M219.3 715.4h-1.5M219.3 717.9h-1.5M219.3 720.4h-1.5M219.3 722.9h-1.5M219.3 725.4h-1.5M219.3 727.9h-1.5M219.3 730.4h-1.5M219.3 732.9h-1.5M219.3 735.4h-1.5M219.3 737.9h-1.5M219.3 740.4h-1.5M219.3 742.9h-1.5M219.3 745.4h-1.5M219.3 747.9h-1.5M219.3 750.4h-1.5M219.3 752.9h-1.5M219.3 755.4h-1.5M219.3 757.9h-1.5M219.3 760.4h-1.5M219.3 762.9h-1.5M219.3 765.4h-1.5M219.3 767.9h-1.5M219.3 770.4h-1.5M219.3 772.9h-1.5M219.3 775.4h-1.5M219.3 777.9h-1.5M219.3 780.4h-1.5M219.3 782.9h-1.5M219.3 785.4h-1.5M219.3 787.9h-1.5M219.3 790.4h-1.5M219.3 792.9h-1.5M219.3 795.4h-1.5M219.3 797.9h-1.5M219.3 800.4h-1.5M219.3 802.9h-1.5M219.3 805.4h-1.5M219.3 807.9h-1.5M219.3 810.4h-1.5M219.3 812.9h-1.5" fill="none" stroke="#333" stroke-width="0.45"/>
<path d="M239.8 815.7h5M218.1 786.9v6" fill="none" stroke="#222" stroke-width="2"/>
<path d="M276.0 808.1 275.0 808.3 273.5 808.3 272.5 808.0 271.5 807.6 270.0 806.6 269.0 805.6 268.0 804.3 267.1 803.0 266.3 801.5 265.6 800.0 264.7 797.5 264.2 795.5 263.7 793.5 263.3 791.0 262.9 786.0 262.9 781.5 263.3 777.0 263.7 774.5 264.3 772.0 264.7 770.5 265.6 768.0 266.3 766.5 267.4 764.5 268.5 763.0 269.5 761.9 270.5 761.0 271.5 760.4 273.0 759.8 274.0 759.7 275.0 759.7 276.0 759.9 277.0 760.3 278.0 761.0 279.0 761.8 280.0 762.9 280.8 764.0 281.8 765.5 282.7 767.5 283.3 769.0 284.2 771.5 284.7 773.5 285.4 777.5 285.7 782.0 285.7 786.5 285.3 791.0 284.9 793.5 284.4 795.5 283.3 799.0 282.7 800.5 281.8 802.5 280.8 804.0 280.0 805.1 279.0 806.2 278.0 807.0 277.0 807.7Z" fill="#fde9e9" stroke="none"/>
<path d="M276.0 808.1 275.0 808.3 273.5 808.3 272.5 808.0 271.5 807.6 270.0 806.6 269.0 805.6 268.0 804.3 267.1 803.0 266.3 801.5 265.6 800.0 264.7 797.5 264.2 795.5 263.7 793.5 263.3 791.0 262.9 786.0 262.9 781.5 263.3 777.0 263.7 774.5 264.3 772.0 264.7 770.5 265.6 768.0 266.3 766.5 267.4 764.5 268.5 763.0 269.5 761.9 270.5 761.0 271.5 760.4 273.0 759.8 274.0 759.7 275.0 759.7 276.0 759.9 277.0 760.3 278.0 761.0 279.0 761.8 280.0 762.9 280.8 764.0 281.8 765.5 282.7 767.5 283.3 769.0 284.2 771.5 284.7 773.5 285.4 777.5 285.7 782.0 285.7 786.5 285.3 791.0 284.9 793.5 284.4 795.5 283.3 799.0 282.7 800.5 281.8 802.5 280.8 804.0 280.0 805.1 279.0 806.2 278.0 807.0 277.0 807.7ZM275.5 805.2 274.5 805.3 273.5 805.2 272.5 805.0 271.5 804.5 270.5 803.7 269.5 802.7 268.6 801.5 267.9 800.5 267.2 799.0 266.3 797.0 265.3 793.5 264.7 790.0 264.3 785.5 264.3 781.5 264.7 777.5 265.2 775.0 265.7 773.0 266.7 770.0 267.4 768.5 268.2 767.0 269.0 765.9 270.0 764.7 271.0 763.9 272.0 763.3 273.0 762.9 274.0 762.7 275.0 762.7 276.0 763.0 277.0 763.5 278.0 764.2 279.0 765.2 279.7 766.0 280.4 767.0 281.2 768.5 282.3 771.0 283.3 774.5 283.9 778.0 284.2 780.5 284.3 782.5 284.3 786.5 283.9 790.5 283.2 794.0 282.1 797.5 281.4 799.0 280.7 800.5 279.7 802.0 279.0 802.8 277.5 804.2 276.5 804.8ZM275.0 803.0 274.0 803.1 273.0 802.9 271.5 802.2 270.0 800.8 269.0 799.5 268.4 798.5 267.3 796.0 266.8 794.5 266.2 792.5 265.6 789.0 265.3 785.0 265.4 781.5 265.8 777.5 266.6 774.0 267.7 771.0 269.0 768.6 269.8 767.5 270.5 766.7 272.0 765.5 273.0 765.1 274.0 764.9 275.0 765.0 276.0 765.2 277.5 766.1 279.0 767.7 279.9 769.0 280.4 770.0 281.7 773.0 282.4 775.5 282.8 777.5 283.1 779.5 283.3 783.0 283.2 787.0 282.8 790.5 282.1 793.5 281.1 796.5 279.9 799.0 278.5 800.9 277.0 802.2 276.0 802.8ZM275.5 801.1 274.5 801.3 273.5 801.2 272.5 800.8 272.0 800.6 271.3 800.0 270.5 799.3 269.2 797.5 268.2 795.5 267.2 792.5 266.6 789.5 266.2 785.5 266.2 782.0 266.6 778.5 267.2 775.5 268.2 772.5 269.5 770.1 270.3 769.0 271.0 768.2 271.5 767.8 272.5 767.2 273.5 766.8 274.0 766.7 275.0 766.8 275.5 766.9 276.5 767.4 277.0 767.7 277.9 768.5 278.5 769.2 279.7 771.0 280.8 773.5 281.6 776.5 282.2 779.5 282.4 782.5 282.4 785.5 282.2 788.5 281.6 791.5 280.8 794.5 279.7 797.0 278.5 798.8 277.9 799.5 277.0 800.3 276.5 800.6ZM275.0 799.5 274.0 799.6 273.5 799.5 272.5 799.1 272.0 798.8 271.5 798.4 270.6 797.5 269.5 795.8 268.5 793.5 267.7 791.0 267.2 788.0 267.0 785.0 267.0 782.0 267.3 779.0 267.8 776.5 268.3 775.0 268.8 773.5 269.9 771.5 271.0 770.0 272.0 769.2 272.5 768.9 273.0 768.6 274.0 768.4 274.5 768.4 275.5 768.6 276.5 769.1 277.0 769.5 277.6 770.0 278.4 771.0 279.3 772.5 280.1 774.5 280.9 777.0 281.4 780.0 281.7 783.0 281.6 786.0 281.3 789.0 280.8 791.5 280.0 794.0 279.3 795.5 278.7 796.5 277.6 798.0 276.5 798.9 276.0 799.2ZM275.5 798.1 275.0 798.2 274.0 798.3 273.0 798.0 272.1 797.5 271.5 797.0 270.3 795.5 269.3 793.5 268.4 791.0 267.8 788.0 267.6 785.5 267.6 782.5 267.9 779.5 268.4 777.0 269.3 774.5 270.3 772.5 271.5 771.0 272.5 770.2 273.5 769.8 274.0 769.7 275.0 769.8 275.5 769.9 276.5 770.5 277.5 771.4 278.6 773.0 279.5 775.0 280.3 777.5 280.8 780.0 281.0 782.5 281.0 785.0 280.8 788.0 280.3 790.5 279.7 792.5 278.9 794.5 278.0 796.0 277.0 797.1 276.0 797.8ZM275.0 797.1 274.0 797.1 273.5 797.0 272.5 796.6 271.5 795.7 270.9 795.0 270.3 794.0 269.4 792.0 268.8 790.0 268.3 787.5 268.1 785.0 268.1 782.5 268.4 780.0 268.9 777.5 269.6 775.5 270.5 773.6 271.5 772.3 272.5 771.4 273.0 771.2 274.0 770.9 274.5 770.9 275.5 771.1 276.5 771.7 277.5 772.7 278.3 774.0 279.2 776.0 279.8 778.0 280.3 780.5 280.5 783.0 280.5 785.5 280.2 788.0 279.7 790.5 279.0 792.5 278.3 794.0 277.3 795.5 276.5 796.3 276.0 796.6ZM275.0 796.0 274.0 796.1 273.0 795.8 271.9 795.0 270.8 793.5 269.8 791.5 269.2 789.5 268.8 787.5 268.6 785.0 268.6 782.5 268.8 780.5 269.3 778.0 270.0 776.0 271.0 774.1 271.9 773.0 273.0 772.2 274.0 771.9 275.0 772.0 276.0 772.4 277.0 773.3 278.0 774.8 278.8 776.5 279.4 778.5 279.8 780.5 280.0 783.0 280.0 785.5 279.8 787.5 279.4 789.5 278.8 791.5 278.0 793.2 277.0 794.7 276.0 795.6ZM275.0 795.1 274.0 795.1 273.0 794.8 272.0 794.0 271.0 792.7 270.2 791.0 269.7 789.5 269.3 787.5 269.1 785.0 269.1 782.5 269.3 780.5 269.7 778.5 270.4 776.5 271.2 775.0 272.0 774.0 273.0 773.2 274.0 772.9 275.0 772.9 276.0 773.4 277.0 774.4 277.7 775.5 278.4 777.0 279.0 779.0 279.4 781.0 279.5 783.0 279.5 785.0 279.3 787.5 278.9 789.5 278.4 791.0 277.7 792.5 277.0 793.6 276.0 794.6ZM275.0 794.1 274.0 794.2 273.0 793.9 272.0 793.0 271.3 792.0 270.6 790.5 270.1 789.0 269.7 787.0 269.5 785.0 269.5 783.0 269.7 781.0 270.1 779.0 270.6 777.5 271.3 776.0 272.0 775.0 273.0 774.1 274.0 773.8 275.0 773.9 276.0 774.4 277.0 775.5 277.5 776.3 278.2 778.0 278.6 779.5 278.9 781.0 279.1 783.0 279.1 785.0 278.9 787.0 278.5 789.0 278.0 790.5 277.5 791.7 276.6 793.0 276.0 793.6ZM275.5 793.0 274.5 793.4 273.5 793.2 272.5 792.6 272.0 792.0 271.1 790.5 270.6 789.0 270.2 787.5 269.9 785.5 269.9 783.5 270.0 781.5 270.4 779.5 270.9 778.0 271.5 776.7 272.4 775.5 273.0 775.0 274.0 774.6 274.5 774.6 275.0 774.7 275.5 775.0 276.5 775.9 277.0 776.6 277.5 777.5 278.0 779.0 278.4 780.5 278.7 782.5 278.7 784.5 278.6 786.0 278.4 787.5 278.0 789.0 277.5 790.5 277.0 791.4 276.5 792.1ZM274.5 792.5 274.0 792.5 273.5 792.3 273.0 792.1 272.5 791.6 272.0 791.0 271.5 790.1 271.0 788.8 270.6 787.5 270.4 786.0 270.3 784.0 270.4 782.0 270.6 780.5 271.0 779.2 271.5 777.9 272.0 777.0 272.5 776.4 273.0 775.9 273.5 775.7 274.0 775.5 274.5 775.5 275.0 775.6 275.5 775.9 276.0 776.3 276.5 776.9 277.1 778.0 277.5 779.0 278.0 780.7 278.3 782.5 278.3 784.0 278.3 785.5 278.0 787.3 277.5 789.0 277.1 790.0 276.5 791.1 276.0 791.7 275.5 792.1 275.0 792.4ZM275.0 791.5 274.5 791.6 274.0 791.6 273.5 791.5 272.9 791.0 272.1 790.0 271.5 788.8 271.1 787.5 270.7 785.0 270.7 783.5 270.8 782.0 271.1 780.5 271.5 779.2 272.0 778.1 272.5 777.4 273.0 776.9 273.5 776.5 274.0 776.4 274.5 776.4 275.0 776.5 275.5 776.8 276.0 777.3 276.5 777.9 277.0 779.0 277.5 780.5 277.9 783.0 277.9 784.5 277.8 786.0 277.5 787.5 277.2 788.5 276.8 789.5 276.2 790.5 275.5 791.2ZM275.0 790.6 274.5 790.7 274.0 790.7 273.5 790.5 273.0 790.2 272.5 789.6 272.0 788.7 271.6 787.5 271.3 786.5 271.2 785.0 271.2 782.5 271.4 781.0 271.7 780.0 272.2 779.0 272.8 778.0 273.5 777.5 274.0 777.3 274.5 777.3 275.0 777.4 275.5 777.7 276.1 778.5 276.5 779.1 277.0 780.5 277.5 783.0 277.4 785.5 277.0 787.6 276.5 788.9 276.0 789.7 275.5 790.3ZM275.0 789.6 274.5 789.8 274.0 789.8 273.5 789.6 272.9 789.0 272.5 788.4 272.0 787.2 271.6 785.0 271.6 783.5 271.7 782.5 272.1 780.5 272.5 779.6 273.0 778.9 273.5 778.4 274.0 778.2 274.5 778.2 275.0 778.4 275.5 778.8 276.0 779.4 276.6 781.0 277.0 783.0 277.0 784.5 277.0 785.5 276.5 787.5 276.0 788.6 275.5 789.2ZM275.0 788.6 274.5 788.8 274.0 788.8 273.5 788.5 273.1 788.0 272.5 786.9 272.1 785.0 272.1 783.0 272.5 781.1 273.1 780.0 273.5 779.5 274.0 779.2 274.5 779.2 275.0 779.4 275.5 779.9 276.1 781.0 276.5 783.0 276.5 785.0 276.2 786.5 276.0 787.2 275.5 788.0ZM274.5 787.6 274.0 787.5 273.5 787.1 273.1 786.5 272.8 785.5 272.6 784.0 272.8 782.5 273.1 781.5 273.5 780.9 274.0 780.5 274.5 780.4 275.0 780.8 275.5 781.5 275.8 782.5 276.0 784.0 275.8 785.5 275.5 786.5 275.0 787.2ZM274.5 786.1 274.0 786.1 273.6 785.5 273.4 785.0 273.3 784.0 273.4 783.0 273.6 782.5 274.0 781.9 274.5 781.9 275.0 782.5 275.3 784.0 275.0 785.5Z" fill="none" stroke="#f58c8c" stroke-width="0.5" stroke-linejoin="round" opacity="1"/>
<path d="M274.3 776 V790" stroke="#fff" stroke-width="1.1" opacity="0.9"/>
<path d="M265.4 759.9h0M269.9 770.1h0M275.9 781.5h0M273.7 769.2h0M270.6 790.4h0M278.5 779.3h0M271.4 798.2h0M269.6 786.4h0M281.0 774.5h0M278.9 763.5h0M280.1 780.6h0M263.2 786.7h0M267.7 794.7h0M269.1 775.9h0M275.3 773.7h0M275.2 770.8h0M277.9 778.1h0M274.9 742.2h0M281.0 778.4h0M261.9 779.2h0M276.5 791.9h0M266.5 798.1h0M272.5 809.1h0M272.5 786.8h0M271.1 763.5h0M280.6 789.8h0M283.5 789.1h0M269.8 756.4h0M269.3 769.2h0M268.2 785.6h0M275.6 774.5h0M274.6 776.1h0M274.9 787.8h0M279.7 769.1h0M263.7 796.6h0M274.2 792.4h0M262.8 773.7h0M273.7 759.3h0M270.1 787.4h0M280.5 798.7h0M267.9 759.8h0M276.9 790.2h0M274.8 761.1h0M278.6 788.3h0M277.1 771.7h0M275.5 788.3h0M269.9 754.0h0M275.6 784.3h0M273.6 789.6h0M269.7 776.9h0M271.5 785.4h0M283.9 774.7h0M286.9 797.9h0M278.6 785.6h0M285.0 775.7h0M272.8 764.2h0M276.6 795.5h0M277.0 783.5h0M272.2 780.2h0M264.2 791.6h0M270.8 763.6h0M268.6 767.3h0M279.1 791.8h0M264.7 790.0h0M279.3 770.5h0M263.8 768.3h0M269.4 782.5h0M271.2 751.6h0M275.0 758.1h0M279.4 762.3h0M269.0 766.9h0M270.0 794.9h0M279.0 785.8h0M275.6 757.9h0M270.1 770.8h0M267.1 784.6h0M268.7 768.8h0M266.7 751.3h0M277.4 795.3h0M274.6 765.3h0M255.9 780.2h0M281.4 781.9h0M279.5 797.2h0M280.8 772.3h0M280.3 788.1h0M263.5 772.7h0M264.2 776.6h0M277.3 764.1h0M260.1 794.9h0M275.9 797.1h0M264.9 791.8h0M287.0 804.1h0M272.1 781.5h0M272.5 791.0h0M280.2 779.1h0M264.7 787.6h0M270.4 786.2h0M275.2 799.1h0M280.9 772.1h0M275.8 800.9h0M270.0 783.6h0M281.2 794.3h0M276.9 760.8h0M265.3 781.2h0M276.0 811.1h0M267.9 792.8h0M278.5 756.3h0M268.2 780.2h0M270.3 776.0h0M276.6 767.5h0M276.5 769.7h0M270.0 785.0h0M269.8 781.7h0M283.9 778.4h0M272.6 787.6h0M271.1 792.1h0M265.2 786.0h0M270.2 767.6h0M285.0 766.9h0M284.9 786.6h0M282.9 765.3h0M281.3 796.9h0M272.7 776.3h0M289.5 780.3h0M270.8 769.8h0M276.4 782.3h0M274.7 800.4h0M271.4 784.2h0M283.0 764.9h0M280.3 801.8h0M264.7 763.7h0M266.8 754.0h0M276.4 753.9h0M276.7 796.9h0M263.0 773.9h0M261.0 788.1h0M268.7 774.5h0M273.9 785.1h0M271.2 778.2h0M269.9 779.5h0M265.9 778.8h0M260.9 771.6h0M285.9 779.0h0M265.3 781.3h0M267.2 756.5h0M268.7 787.6h0M276.0 776.7h0M267.5 764.0h0M282.3 781.2h0M267.3 750.6h0M264.6 810.2h0M266.0 777.0h0M274.9 776.0h0M271.7 760.1h0M266.7 800.0h0M268.6 789.0h0M262.5 774.4h0M275.2 791.5h0M266.2 785.7h0M276.0 768.4h0M276.6 766.3h0M268.3 777.8h0M255.9 776.6h0M267.0 759.0h0M270.7 787.9h0M270.9 794.5h0M266.0 760.9h0M283.6 783.2h0M279.6 767.3h0M278.7 781.4h0" fill="none" stroke="#f5a0a0" stroke-width="0.8" stroke-linecap="round"/>
<text x="0" y="3.8" text-anchor="middle" style="font-size:10.5px;font-weight:bold;" fill="#000" textLength="102.0" lengthAdjust="spacingAndGlyphs" transform="translate(196.6 755.0) rotate(-90)">TCR-β – APC-Vio770</text>
<text x="226.3" y="840.3" text-anchor="start" style="font-size:10.3px;font-weight:bold;" fill="#000" textLength="102.1" lengthAdjust="spacingAndGlyphs">B220 – PerCP-Cy5.5</text>
<path d="M197.8 818.0 V836.0 H216.0" fill="none" stroke="#000" stroke-width="2.1" stroke-linejoin="miter"/>
<polygon points="197.8,813.0 193.8,819.8 201.8,819.8" fill="#000"/>
<polygon points="221.0,836.0 214.2,831.9 214.2,840.1" fill="#000"/>
<path d="M78.3 868.2 H182.0 V971.5" fill="none" stroke="#9a9a9a" stroke-width="0.7"/>
<path d="M78.3 868.2 V971.5 H182.0" fill="none" stroke="#333" stroke-width="0.8"/>
<text x="73.3" y="879.5" text-anchor="end" style="font-size:4.3px;" fill="#222">10<tspan dy="-1.5" style="font-size:3px">5</tspan></text>
<text x="73.3" y="904.0" text-anchor="end" style="font-size:4.3px;" fill="#222">10<tspan dy="-1.5" style="font-size:3px">4</tspan></text>
<text x="73.3" y="932.1" text-anchor="end" style="font-size:4.3px;" fill="#222">10<tspan dy="-1.5" style="font-size:3px">3</tspan></text>
<text x="73.3" y="948.7" text-anchor="end" style="font-size:4.3px;" fill="#222">0</text>
<text x="73.3" y="966.2" text-anchor="end" style="font-size:4.3px;" fill="#222">-10<tspan dy="-1.5" style="font-size:3px">3</tspan></text>
<text x="88.0" y="980.5" text-anchor="middle" style="font-size:4.3px;" fill="#222">-10<tspan dy="-1.5" style="font-size:3px">3</tspan></text>
<text x="103.1" y="980.5" text-anchor="middle" style="font-size:4.3px;" fill="#222">0</text>
<text x="121.0" y="980.5" text-anchor="middle" style="font-size:4.3px;" fill="#222">10<tspan dy="-1.5" style="font-size:3px">3</tspan></text>
<text x="148.8" y="980.5" text-anchor="middle" style="font-size:4.3px;" fill="#222">10<tspan dy="-1.5" style="font-size:3px">4</tspan></text>
<text x="173.9" y="980.5" text-anchor="middle" style="font-size:4.3px;" fill="#222">10<tspan dy="-1.5" style="font-size:3px">5</tspan></text>
<path d="M78.3 878.0h-3M78.3 902.5h-3M78.3 930.6h-3M78.3 947.2h-3M78.3 964.7h-3M88.0 971.5v3M103.1 971.5v3M121.0 971.5v3M148.8 971.5v3M173.9 971.5v3" fill="none" stroke="#222" stroke-width="0.8"/>
<path d="M81.3 971.5v1.5M83.8 971.5v1.5M86.3 971.5v1.5M88.8 971.5v1.5M91.3 971.5v1.5M93.8 971.5v1.5M96.3 971.5v1.5M98.8 971.5v1.5M101.3 971.5v1.5M103.8 971.5v1.5M106.3 971.5v1.5M108.8 971.5v1.5M111.3 971.5v1.5M113.8 971.5v1.5M116.3 971.5v1.5M118.8 971.5v1.5M121.3 971.5v1.5M123.8 971.5v1.5M126.3 971.5v1.5M128.8 971.5v1.5M131.3 971.5v1.5M133.8 971.5v1.5M136.3 971.5v1.5M138.8 971.5v1.5M141.3 971.5v1.5M143.8 971.5v1.5M146.3 971.5v1.5M148.8 971.5v1.5M151.3 971.5v1.5M153.8 971.5v1.5M156.3 971.5v1.5M158.8 971.5v1.5M161.3 971.5v1.5M163.8 971.5v1.5M166.3 971.5v1.5M168.8 971.5v1.5M171.3 971.5v1.5M173.8 971.5v1.5M176.3 971.5v1.5M178.8 971.5v1.5M78.3 870.2h-1.5M78.3 872.7h-1.5M78.3 875.2h-1.5M78.3 877.7h-1.5M78.3 880.2h-1.5M78.3 882.7h-1.5M78.3 885.2h-1.5M78.3 887.7h-1.5M78.3 890.2h-1.5M78.3 892.7h-1.5M78.3 895.2h-1.5M78.3 897.7h-1.5M78.3 900.2h-1.5M78.3 902.7h-1.5M78.3 905.2h-1.5M78.3 907.7h-1.5M78.3 910.2h-1.5M78.3 912.7h-1.5M78.3 915.2h-1.5M78.3 917.7h-1.5M78.3 920.2h-1.5M78.3 922.7h-1.5M78.3 925.2h-1.5M78.3 927.7h-1.5M78.3 930.2h-1.5M78.3 932.7h-1.5M78.3 935.2h-1.5M78.3 937.7h-1.5M78.3 940.2h-1.5M78.3 942.7h-1.5M78.3 945.2h-1.5M78.3 947.7h-1.5M78.3 950.2h-1.5M78.3 952.7h-1.5M78.3 955.2h-1.5M78.3 957.7h-1.5M78.3 960.2h-1.5M78.3 962.7h-1.5M78.3 965.2h-1.5M78.3 967.7h-1.5M78.3 970.2h-1.5" fill="none" stroke="#333" stroke-width="0.45"/>
<path d="M98.8 972.6h5M77.1 944.2v6" fill="none" stroke="#222" stroke-width="2"/>
<path d="M153.5 952.5 152.0 952.8 150.5 952.9 147.5 952.7 145.0 952.3 143.5 951.9 140.5 950.9 139.0 950.2 138.0 949.6 136.7 948.5 136.3 948.0 135.9 947.0 135.8 946.0 136.0 945.5 136.2 945.0 137.0 944.0 138.5 942.9 141.0 941.7 144.5 940.7 147.5 940.1 150.5 939.9 153.0 940.1 155.5 940.9 156.5 941.3 157.5 941.9 158.5 942.7 159.3 943.5 159.9 944.5 160.3 945.5 160.4 946.0 160.3 947.0 160.2 947.5 159.8 948.5 159.1 949.5 158.0 950.5 157.0 951.2 156.0 951.7 154.5 952.3Z" fill="#d8f2e4" stroke="none"/>
<path d="M153.5 952.5 152.0 952.8 150.5 952.9 147.5 952.7 145.0 952.3 143.5 951.9 140.5 950.9 139.0 950.2 138.0 949.6 136.7 948.5 136.3 948.0 135.9 947.0 135.8 946.0 136.0 945.5 136.2 945.0 137.0 944.0 138.5 942.9 141.0 941.7 144.5 940.7 147.5 940.1 150.5 939.9 153.0 940.1 155.5 940.9 156.5 941.3 157.5 941.9 158.5 942.7 159.3 943.5 159.9 944.5 160.3 945.5 160.4 946.0 160.3 947.0 160.2 947.5 159.8 948.5 159.1 949.5 158.0 950.5 157.0 951.2 156.0 951.7 154.5 952.3ZM151.5 952.0 149.5 952.1 146.5 951.7 143.5 950.8 141.0 949.8 140.0 949.2 139.1 948.5 138.3 947.5 138.1 946.5 138.2 945.5 138.9 944.5 139.5 944.0 141.0 943.1 142.5 942.4 144.0 941.8 146.5 941.1 149.0 940.7 151.5 940.8 154.0 941.2 155.5 941.8 156.5 942.4 157.3 943.0 158.0 943.7 158.5 944.5 159.0 945.5 159.1 946.5 158.9 947.5 158.7 948.0 158.1 949.0 157.6 949.5 156.0 950.7 155.0 951.2 153.5 951.7ZM153.5 951.0 151.5 951.4 149.0 951.5 147.0 951.2 145.5 950.8 144.0 950.2 142.0 949.2 141.0 948.5 140.4 948.0 140.1 947.5 139.8 947.0 139.7 946.5 139.8 946.0 140.0 945.5 140.3 945.0 140.7 944.5 142.1 943.5 144.0 942.6 146.5 941.8 148.5 941.4 150.5 941.3 151.5 941.4 153.0 941.6 154.5 942.1 156.0 942.9 157.2 944.0 157.8 945.0 158.1 946.0 158.1 946.5 158.1 947.0 157.7 948.0 157.0 949.0 156.5 949.5 155.5 950.2 154.5 950.7ZM150.0 951.0 148.0 950.8 146.0 950.3 144.1 949.5 142.5 948.5 141.9 948.0 141.3 947.0 141.2 946.5 141.2 946.0 141.4 945.5 141.7 945.0 142.9 944.0 144.0 943.3 145.0 942.9 147.0 942.2 149.0 941.8 151.0 941.8 153.0 942.1 154.5 942.7 155.5 943.3 156.3 944.0 156.7 944.5 157.2 945.5 157.4 946.0 157.3 947.0 157.2 947.5 156.6 948.5 155.5 949.5 154.0 950.3 152.0 950.9ZM151.0 950.5 149.5 950.6 147.5 950.3 146.0 949.8 144.4 949.0 143.5 948.4 142.7 947.5 142.4 947.0 142.3 946.5 142.4 946.0 142.6 945.5 143.4 944.5 145.0 943.5 146.5 942.8 148.5 942.4 150.0 942.2 151.5 942.3 153.0 942.6 154.5 943.3 155.5 944.0 156.3 945.0 156.7 946.0 156.7 946.5 156.5 947.5 155.8 948.5 155.3 949.0 154.5 949.5 153.0 950.2ZM152.0 950.0 150.5 950.2 149.0 950.2 147.0 949.7 145.5 949.1 144.5 948.4 143.6 947.5 143.3 947.0 143.2 946.5 143.3 946.0 143.5 945.5 143.8 945.0 144.3 944.5 145.5 943.7 147.0 943.1 148.5 942.7 150.0 942.6 151.5 942.7 152.5 942.9 154.0 943.5 155.0 944.1 155.7 945.0 156.1 946.0 156.1 947.0 155.6 948.0 155.2 948.5 154.6 949.0 153.5 949.6ZM152.5 949.6 151.0 949.9 149.5 949.9 148.0 949.6 146.2 949.0 145.0 948.2 144.3 947.5 144.0 947.0 143.9 946.5 144.0 946.0 144.2 945.5 145.0 944.6 145.8 944.0 147.0 943.5 148.5 943.0 150.0 942.9 151.0 942.9 152.5 943.2 153.5 943.6 154.5 944.2 155.2 945.0 155.6 946.0 155.6 947.0 155.1 948.0 154.6 948.5 153.5 949.2ZM151.5 949.5 150.0 949.6 148.5 949.5 147.0 949.0 146.0 948.5 145.4 948.0 144.9 947.5 144.6 947.0 144.5 946.5 144.6 946.0 144.8 945.5 145.5 944.7 146.5 944.0 147.5 943.6 149.0 943.2 150.5 943.2 151.5 943.3 152.5 943.5 153.6 944.0 154.5 944.7 155.1 945.5 155.2 946.0 155.3 946.5 155.2 947.0 155.0 947.5 154.6 948.0 154.0 948.5 153.0 949.1ZM152.0 949.2 151.0 949.3 149.5 949.3 148.0 949.1 146.7 948.5 145.9 948.0 145.5 947.5 145.2 947.0 145.1 946.5 145.1 946.0 145.3 945.5 145.7 945.0 146.5 944.4 147.5 943.9 148.5 943.6 150.0 943.4 151.0 943.5 152.0 943.6 153.0 944.0 154.0 944.7 154.7 945.5 154.8 946.0 154.9 946.5 154.8 947.0 154.5 947.5 154.0 948.1 153.0 948.8ZM151.5 949.0 150.5 949.1 149.0 949.0 148.0 948.8 147.0 948.3 146.0 947.5 145.7 947.0 145.5 946.5 145.6 946.0 145.8 945.5 146.5 944.8 147.5 944.2 148.5 943.9 149.5 943.7 150.5 943.7 151.5 943.8 152.5 944.1 153.3 944.5 153.9 945.0 154.3 945.5 154.4 946.0 154.5 946.5 154.4 947.0 154.1 947.5 153.5 948.2 152.5 948.7ZM152.0 948.6 151.0 948.9 149.5 948.9 148.5 948.7 147.5 948.3 146.5 947.6 146.1 947.0 146.0 946.5 146.0 946.0 146.3 945.5 146.8 945.0 147.5 944.5 149.1 944.0 150.0 943.9 151.0 943.9 152.0 944.2 152.8 944.5 153.5 945.0 153.9 945.5 154.1 946.0 154.1 946.5 154.0 947.0 153.5 947.8 153.0 948.2ZM151.5 948.5 150.5 948.7 149.5 948.6 148.5 948.4 147.6 948.0 146.9 947.5 146.5 947.0 146.4 946.5 146.5 946.0 146.7 945.5 147.3 945.0 148.0 944.6 149.5 944.2 151.0 944.2 152.0 944.4 152.5 944.7 153.0 945.0 153.5 945.5 153.7 946.0 153.8 946.5 153.7 947.0 153.3 947.5 152.8 948.0ZM152.0 948.1 150.5 948.4 149.5 948.4 148.5 948.1 147.5 947.6 147.0 947.0 146.8 946.5 146.9 946.0 147.2 945.5 147.8 945.0 149.0 944.5 150.5 944.4 151.4 944.5 152.0 944.7 152.6 945.0 153.1 945.5 153.4 946.0 153.4 946.5 153.3 947.0 152.9 947.5ZM151.5 948.0 150.0 948.2 149.0 948.0 148.5 947.9 147.9 947.5 147.4 947.0 147.2 946.5 147.3 946.0 147.7 945.5 148.4 945.0 149.5 944.7 151.0 944.7 152.0 945.0 152.7 945.5 153.0 946.0 153.1 946.5 152.9 947.0 152.5 947.5ZM151.5 947.7 151.0 947.9 150.0 947.9 149.0 947.7 148.5 947.5 147.9 947.0 147.7 946.5 147.8 946.0 148.2 945.5 149.1 945.0 150.5 944.9 151.5 945.1 152.2 945.5 152.6 946.0 152.7 946.5 152.5 947.0 152.0 947.5ZM151.0 947.6 150.0 947.7 149.0 947.4 148.4 947.0 148.1 946.5 148.3 946.0 148.8 945.5 149.0 945.4 150.0 945.1 151.0 945.2 151.7 945.5 152.1 946.0 152.2 946.5 152.0 947.0 151.5 947.4ZM151.0 947.2 150.0 947.3 149.0 947.0 148.7 946.5 148.8 946.0 149.7 945.5 150.5 945.5 151.0 945.6 151.6 946.0 151.7 946.5 151.4 947.0ZM151.0 946.7 150.5 947.0 150.0 947.0 149.5 946.7 149.3 946.5 149.5 946.0 150.0 945.9 150.5 945.9 150.9 946.0 151.0 946.1 151.1 946.5Z" fill="none" stroke="#2fae6a" stroke-width="0.5" stroke-linejoin="round" opacity="1"/>
<ellipse cx="150.8" cy="946.4" rx="1.5" ry="0.9" fill="#fff"/>
<path d="M143.2 946.5h0M146.0 945.5h0M135.2 944.3h0M145.8 945.4h0M134.8 945.1h0M137.8 944.6h0M138.5 945.6h0M137.2 945.1h0M140.2 945.8h0M140.6 946.9h0M141.7 943.2h0M137.3 945.3h0M143.9 944.1h0M136.4 946.1h0" fill="none" stroke="#5cc48a" stroke-width="0.8" stroke-linecap="round"/>
<text x="0" y="3.8" text-anchor="middle" style="font-size:10.5px;font-weight:bold;" fill="#000" textLength="63.1" lengthAdjust="spacingAndGlyphs" transform="translate(58.6 928.8) rotate(-90)">CD4 – BV421</text>
<text x="87.1" y="995.4" text-anchor="start" style="font-size:10.3px;font-weight:bold;" fill="#000" textLength="68.2" lengthAdjust="spacingAndGlyphs">CD8 – PE-Cy7</text>
<path d="M59.0 973.3 V990.3 H77.5" fill="none" stroke="#000" stroke-width="2.1" stroke-linejoin="miter"/>
<polygon points="59.0,968.3 55.0,975.1 63.0,975.1" fill="#000"/>
<polygon points="82.5,990.3 75.7,986.2 75.7,994.4" fill="#000"/>
<path d="M217.5 868.2 H321.1 V971.8" fill="none" stroke="#9a9a9a" stroke-width="0.7"/>
<path d="M217.5 868.2 V971.8 H321.1" fill="none" stroke="#333" stroke-width="0.8"/>
<text x="212.5" y="879.5" text-anchor="end" style="font-size:4.3px;" fill="#222">10<tspan dy="-1.5" style="font-size:3px">5</tspan></text>
<text x="212.5" y="904.0" text-anchor="end" style="font-size:4.3px;" fill="#222">10<tspan dy="-1.5" style="font-size:3px">4</tspan></text>
<text x="212.5" y="932.1" text-anchor="end" style="font-size:4.3px;" fill="#222">10<tspan dy="-1.5" style="font-size:3px">3</tspan></text>
<text x="212.5" y="948.7" text-anchor="end" style="font-size:4.3px;" fill="#222">0</text>
<text x="212.5" y="966.2" text-anchor="end" style="font-size:4.3px;" fill="#222">-10<tspan dy="-1.5" style="font-size:3px">3</tspan></text>
<text x="227.2" y="980.8" text-anchor="middle" style="font-size:4.3px;" fill="#222">-10<tspan dy="-1.5" style="font-size:3px">3</tspan></text>
<text x="242.3" y="980.8" text-anchor="middle" style="font-size:4.3px;" fill="#222">0</text>
<text x="260.2" y="980.8" text-anchor="middle" style="font-size:4.3px;" fill="#222">10<tspan dy="-1.5" style="font-size:3px">3</tspan></text>
<text x="288.0" y="980.8" text-anchor="middle" style="font-size:4.3px;" fill="#222">10<tspan dy="-1.5" style="font-size:3px">4</tspan></text>
<text x="313.1" y="980.8" text-anchor="middle" style="font-size:4.3px;" fill="#222">10<tspan dy="-1.5" style="font-size:3px">5</tspan></text>
<path d="M217.5 878.0h-3M217.5 902.5h-3M217.5 930.6h-3M217.5 947.2h-3M217.5 964.7h-3M227.2 971.8v3M242.3 971.8v3M260.2 971.8v3M288.0 971.8v3M313.1 971.8v3" fill="none" stroke="#222" stroke-width="0.8"/>
<path d="M220.5 971.8v1.5M223.0 971.8v1.5M225.5 971.8v1.5M228.0 971.8v1.5M230.5 971.8v1.5M233.0 971.8v1.5M235.5 971.8v1.5M238.0 971.8v1.5M240.5 971.8v1.5M243.0 971.8v1.5M245.5 971.8v1.5M248.0 971.8v1.5M250.5 971.8v1.5M253.0 971.8v1.5M255.5 971.8v1.5M258.0 971.8v1.5M260.5 971.8v1.5M263.0 971.8v1.5M265.5 971.8v1.5M268.0 971.8v1.5M270.5 971.8v1.5M273.0 971.8v1.5M275.5 971.8v1.5M278.0 971.8v1.5M280.5 971.8v1.5M283.0 971.8v1.5M285.5 971.8v1.5M288.0 971.8v1.5M290.5 971.8v1.5M293.0 971.8v1.5M295.5 971.8v1.5M298.0 971.8v1.5M300.5 971.8v1.5M303.0 971.8v1.5M305.5 971.8v1.5M308.0 971.8v1.5M310.5 971.8v1.5M313.0 971.8v1.5M315.5 971.8v1.5M318.0 971.8v1.5M217.5 870.2h-1.5M217.5 872.7h-1.5M217.5 875.2h-1.5M217.5 877.7h-1.5M217.5 880.2h-1.5M217.5 882.7h-1.5M217.5 885.2h-1.5M217.5 887.7h-1.5M217.5 890.2h-1.5M217.5 892.7h-1.5M217.5 895.2h-1.5M217.5 897.7h-1.5M217.5 900.2h-1.5M217.5 902.7h-1.5M217.5 905.2h-1.5M217.5 907.7h-1.5M217.5 910.2h-1.5M217.5 912.7h-1.5M217.5 915.2h-1.5M217.5 917.7h-1.5M217.5 920.2h-1.5M217.5 922.7h-1.5M217.5 925.2h-1.5M217.5 927.7h-1.5M217.5 930.2h-1.5M217.5 932.7h-1.5M217.5 935.2h-1.5M217.5 937.7h-1.5M217.5 940.2h-1.5M217.5 942.7h-1.5M217.5 945.2h-1.5M217.5 947.7h-1.5M217.5 950.2h-1.5M217.5 952.7h-1.5M217.5 955.2h-1.5M217.5 957.7h-1.5M217.5 960.2h-1.5M217.5 962.7h-1.5M217.5 965.2h-1.5M217.5 967.7h-1.5M217.5 970.2h-1.5" fill="none" stroke="#333" stroke-width="0.45"/>
<path d="M238.0 972.9h5M216.3 944.2v6" fill="none" stroke="#222" stroke-width="2"/>
<path d="M246.0 916.6 244.0 916.9 242.0 916.9 240.0 916.6 238.0 916.1 236.0 915.2 234.5 914.2 233.2 913.0 232.0 911.5 231.3 910.0 230.8 908.0 230.7 907.0 230.8 906.0 231.2 904.5 231.8 903.0 232.9 901.5 234.0 900.4 235.5 899.3 237.5 898.3 239.0 897.8 240.0 897.6 241.5 897.4 243.0 897.3 244.5 897.4 246.0 897.6 248.0 898.2 249.5 898.9 250.5 899.4 251.5 900.2 252.4 901.0 253.7 902.5 254.2 903.5 254.6 904.5 254.9 905.5 255.1 907.0 254.9 909.0 254.5 910.0 254.1 911.0 253.4 912.0 252.6 913.0 251.5 914.0 250.5 914.8 248.5 915.8 247.0 916.3Z" fill="#e2e2e2" stroke="none"/>
<path d="M246.0 916.6 244.0 916.9 242.0 916.9 240.0 916.6 238.0 916.1 236.0 915.2 234.5 914.2 233.2 913.0 232.0 911.5 231.3 910.0 230.8 908.0 230.7 907.0 230.8 906.0 231.2 904.5 231.8 903.0 232.9 901.5 234.0 900.4 235.5 899.3 237.5 898.3 239.0 897.8 240.0 897.6 241.5 897.4 243.0 897.3 244.5 897.4 246.0 897.6 248.0 898.2 249.5 898.9 250.5 899.4 251.5 900.2 252.4 901.0 253.7 902.5 254.2 903.5 254.6 904.5 254.9 905.5 255.1 907.0 254.9 909.0 254.5 910.0 254.1 911.0 253.4 912.0 252.6 913.0 251.5 914.0 250.5 914.8 248.5 915.8 247.0 916.3ZM244.5 915.6 242.5 915.7 240.5 915.5 238.5 914.9 237.0 914.2 235.5 913.3 234.2 912.0 233.4 911.0 232.7 909.5 232.3 908.0 232.3 906.5 232.6 905.0 233.2 903.5 234.3 902.0 235.5 900.9 237.0 900.0 238.5 899.3 240.5 898.7 243.0 898.5 245.5 898.8 247.5 899.4 249.5 900.4 251.0 901.5 252.3 903.0 252.8 904.0 253.2 905.0 253.5 906.0 253.6 907.0 253.4 908.5 253.1 909.5 252.7 910.5 251.6 912.0 250.5 913.1 249.5 913.8 248.5 914.4 246.5 915.2ZM245.0 914.6 243.5 914.8 241.5 914.7 240.0 914.4 238.5 913.9 237.0 913.1 236.0 912.4 235.0 911.4 234.1 910.0 233.6 909.0 233.4 907.5 233.4 906.5 233.7 905.0 234.5 903.5 235.2 902.5 236.4 901.5 237.5 900.8 239.0 900.1 241.0 899.6 243.0 899.4 245.5 899.7 247.5 900.4 249.0 901.2 250.5 902.5 251.6 904.0 252.3 905.5 252.4 906.5 252.4 907.5 252.2 909.0 251.5 910.5 250.3 912.0 249.5 912.7 248.5 913.3 246.5 914.2ZM243.5 914.0 242.0 914.0 240.5 913.8 239.0 913.3 237.5 912.5 236.2 911.5 235.4 910.5 234.8 909.5 234.3 908.0 234.3 906.5 234.5 905.5 235.2 904.0 235.9 903.0 237.0 902.0 238.0 901.4 239.5 900.7 241.0 900.3 242.5 900.2 244.5 900.3 246.0 900.6 247.5 901.2 249.0 902.2 250.3 903.5 250.9 904.5 251.4 906.0 251.5 907.5 251.2 909.0 250.4 910.5 249.6 911.5 248.5 912.4 247.0 913.2 245.5 913.7ZM245.5 913.0 244.5 913.3 243.0 913.4 241.5 913.3 240.5 913.1 239.5 912.8 238.0 912.0 237.0 911.2 236.3 910.5 235.7 909.5 235.3 908.5 235.1 907.5 235.1 906.5 235.3 905.5 235.8 904.5 236.5 903.5 237.5 902.6 239.0 901.7 240.5 901.1 242.5 900.8 244.0 900.9 245.5 901.2 247.0 901.7 248.5 902.7 249.7 904.0 250.3 905.0 250.7 906.5 250.6 908.0 250.1 909.5 249.5 910.5 248.5 911.5 247.0 912.4ZM245.0 912.6 244.0 912.8 242.5 912.8 241.0 912.6 240.0 912.4 239.0 911.9 238.0 911.3 237.1 910.5 236.7 910.0 236.2 909.0 235.8 908.0 235.8 907.0 235.9 906.0 236.2 905.0 236.9 904.0 237.5 903.3 238.5 902.6 240.0 901.8 241.5 901.5 243.0 901.3 244.5 901.5 246.0 901.9 247.5 902.7 248.5 903.5 249.3 904.5 249.8 905.5 250.0 907.0 249.8 908.5 249.4 909.5 248.7 910.5 247.5 911.5 246.5 912.1ZM245.0 912.1 244.0 912.3 243.0 912.4 242.0 912.3 241.0 912.2 240.0 911.8 239.0 911.4 238.0 910.6 237.4 910.0 237.0 909.4 236.6 908.5 236.3 907.5 236.4 906.5 236.6 905.5 237.2 904.5 237.6 904.0 238.5 903.2 239.5 902.6 241.0 902.0 242.5 901.8 244.0 901.9 245.5 902.2 246.5 902.7 247.7 903.5 248.6 904.5 249.2 905.5 249.4 906.5 249.4 908.0 249.0 909.0 248.4 910.0 247.5 910.9 246.5 911.5ZM245.0 911.7 244.0 911.9 243.0 912.0 242.0 911.9 241.0 911.7 240.0 911.4 239.0 910.8 238.0 910.0 237.6 909.5 237.3 909.0 236.9 908.0 236.9 907.5 236.9 906.5 237.2 905.5 237.4 905.0 238.0 904.2 238.8 903.5 240.0 902.8 241.0 902.5 242.0 902.3 243.5 902.2 245.0 902.5 246.0 902.9 247.0 903.5 248.0 904.5 248.6 905.5 248.9 906.5 248.9 907.5 248.7 908.5 248.2 909.5 247.2 910.5 246.0 911.3ZM243.5 911.6 242.5 911.6 241.5 911.4 240.5 911.2 239.5 910.7 238.6 910.0 238.2 909.5 237.8 909.0 237.4 908.0 237.3 907.5 237.4 906.5 237.7 905.5 238.0 905.0 239.0 903.9 240.0 903.3 241.0 902.9 242.0 902.7 243.5 902.6 244.5 902.8 245.5 903.1 246.5 903.7 247.4 904.5 247.8 905.0 248.3 906.0 248.5 907.0 248.4 908.0 248.0 909.0 247.5 909.6 246.5 910.5 245.7 911.0 244.5 911.4ZM244.5 911.0 243.5 911.2 242.5 911.2 241.0 910.9 240.0 910.5 239.5 910.2 238.7 909.5 238.4 909.0 237.9 908.0 237.8 907.5 237.8 906.5 238.2 905.5 238.5 905.0 239.5 904.0 240.5 903.5 241.5 903.1 242.5 903.0 243.5 903.0 244.5 903.2 245.5 903.5 246.5 904.2 247.3 905.0 247.6 905.5 248.0 906.5 248.0 907.5 247.7 908.5 247.1 909.5 246.5 910.0 245.5 910.7ZM244.5 910.6 243.0 910.9 241.5 910.7 240.0 910.1 239.0 909.2 238.5 908.5 238.3 908.0 238.2 907.0 238.4 906.0 238.7 905.5 239.5 904.5 240.5 903.9 241.5 903.5 242.5 903.3 243.5 903.4 244.5 903.6 245.5 904.0 246.3 904.5 246.8 905.0 247.1 905.5 247.5 906.5 247.6 907.5 247.3 908.5 246.5 909.5 246.0 909.9 245.5 910.2ZM243.0 910.5 241.5 910.3 240.6 910.0 240.0 909.6 239.4 909.0 239.0 908.5 238.7 907.5 238.7 906.5 238.9 906.0 239.5 905.0 240.1 904.5 241.0 904.0 242.5 903.7 244.0 903.8 245.0 904.1 245.7 904.5 246.3 905.0 246.7 905.5 247.0 906.2 247.2 907.0 247.0 908.0 246.8 908.5 246.4 909.0 245.9 909.5 245.2 910.0 244.5 910.3ZM244.0 910.0 242.5 910.2 241.5 910.0 240.5 909.5 239.9 909.0 239.5 908.5 239.1 907.5 239.2 906.5 239.6 905.5 240.5 904.7 241.0 904.4 242.0 904.1 243.5 904.1 244.5 904.3 245.0 904.5 245.7 905.0 246.2 905.5 246.5 906.1 246.7 907.0 246.7 907.5 246.5 908.1 246.0 908.9 245.5 909.3 245.0 909.7ZM244.0 909.7 243.5 909.8 242.5 909.8 241.5 909.6 240.5 909.0 240.0 908.5 239.6 907.5 239.6 906.5 240.0 905.7 240.8 905.0 242.0 904.5 243.5 904.4 244.5 904.7 245.0 905.0 245.6 905.5 246.0 906.0 246.3 907.0 246.2 907.5 246.0 908.2 245.3 909.0 244.5 909.5ZM244.5 909.1 243.5 909.4 242.5 909.4 241.5 909.1 241.0 908.9 240.5 908.4 240.2 908.0 240.0 907.5 240.0 907.0 240.1 906.5 240.3 906.0 240.8 905.5 241.5 905.1 242.5 904.8 243.5 904.8 244.0 904.9 245.0 905.5 245.5 906.0 245.7 906.5 245.8 907.0 245.8 907.5 245.6 908.0 245.2 908.5ZM243.0 909.0 242.0 908.9 241.5 908.6 240.8 908.0 240.6 907.5 240.5 907.0 240.6 906.5 240.9 906.0 241.6 905.5 242.5 905.2 243.5 905.2 244.0 905.4 244.5 905.7 245.0 906.2 245.3 907.0 245.2 907.5 245.0 908.0 244.5 908.5 244.0 908.8ZM243.0 908.5 242.5 908.5 242.0 908.3 241.5 908.0 241.2 907.5 241.1 907.0 241.3 906.5 241.8 906.0 242.5 905.7 243.5 905.8 244.0 906.0 244.5 906.5 244.7 907.0 244.6 907.5 244.3 908.0 243.5 908.4ZM243.5 907.8 243.0 908.0 242.5 907.9 242.0 907.6 241.8 907.0 242.1 906.5 242.5 906.3 243.0 906.3 243.7 906.5 244.0 907.0 243.8 907.5Z" fill="none" stroke="#4a4a4a" stroke-width="0.5" stroke-linejoin="round" opacity="1"/>
<ellipse cx="242.9" cy="907.1" rx="1.3" ry="1.1" fill="#fff"/>
<path d="M241.3 912.9h0M240.5 912.8h0M232.3 896.1h0M253.8 909.6h0M247.9 907.7h0M247.9 899.7h0M251.6 903.8h0M251.9 907.5h0M228.2 899.3h0M253.0 906.2h0M240.8 908.5h0M240.6 903.7h0M244.8 907.9h0M256.1 907.3h0M259.0 917.8h0M257.7 913.4h0M245.0 907.8h0M242.9 902.6h0M243.5 903.2h0M257.1 910.2h0M240.4 895.5h0M243.6 904.5h0M235.3 900.2h0M226.0 910.4h0M243.5 922.5h0M243.8 906.1h0M255.6 907.8h0M245.3 904.8h0M239.2 916.0h0M252.0 917.3h0M241.2 907.2h0M237.0 912.8h0M232.9 910.4h0M252.8 915.5h0M236.5 913.5h0M238.3 902.5h0M233.4 913.9h0M257.2 903.4h0M237.9 905.0h0M264.1 913.0h0" fill="none" stroke="#888" stroke-width="0.8" stroke-linecap="round"/>
<text x="0" y="3.8" text-anchor="middle" style="font-size:10.5px;font-weight:bold;" fill="#000" textLength="63.7" lengthAdjust="spacingAndGlyphs" transform="translate(199.4 928.4) rotate(-90)">CD4 – BV421</text>
<text x="229.0" y="995.3" text-anchor="start" style="font-size:10.3px;font-weight:bold;" fill="#000" textLength="69.6" lengthAdjust="spacingAndGlyphs">CD8 – PE-Cy7</text>
<path d="M200.8 974.0 V990.6 H219.0" fill="none" stroke="#000" stroke-width="2.1" stroke-linejoin="miter"/>
<polygon points="200.8,969.0 196.8,975.8 204.8,975.8" fill="#000"/>
<polygon points="224.0,990.6 217.2,986.5 217.2,994.7" fill="#000"/>
<rect x="436.2" y="917.7" width="26.3" height="9.0" fill="#1616ee" stroke="#000" stroke-width="1.3"/>
<circle cx="441.7" cy="914.0" r="5.3" fill="#1616ee" stroke="#000" stroke-width="1.2"/>
<circle cx="455.0" cy="914.0" r="5.3" fill="#1616ee" stroke="#000" stroke-width="1.2"/>
<circle cx="440.0" cy="923.5" r="5.3" fill="#1616ee" stroke="#000" stroke-width="1.2"/>
<circle cx="449.3" cy="921.7" r="5.3" fill="#1616ee" stroke="#000" stroke-width="1.2"/>
<circle cx="457.0" cy="918.5" r="5.3" fill="#1616ee" stroke="#000" stroke-width="1.2"/>
<circle cx="484.3" cy="922.7" r="5.2" fill="#f08888" stroke="#000" stroke-width="1.2"/>
<circle cx="499.0" cy="923.2" r="5.2" fill="#f08888" stroke="#000" stroke-width="1.2"/>
<circle cx="495.0" cy="922.7" r="5.2" fill="#f08888" stroke="#000" stroke-width="1.2"/>
<circle cx="490.0" cy="921.0" r="5.2" fill="#f08888" stroke="#000" stroke-width="1.2"/>
<circle cx="524.3" cy="926.5" r="5.2" fill="#16b416" stroke="#000" stroke-width="1.2"/>
<circle cx="530.0" cy="926.0" r="5.2" fill="#16b416" stroke="#000" stroke-width="1.2"/>
<circle cx="535.0" cy="926.5" r="5.2" fill="#16b416" stroke="#000" stroke-width="1.2"/>
<circle cx="540.0" cy="926.5" r="5.2" fill="#16b416" stroke="#000" stroke-width="1.2"/>
<rect x="558.6" y="832.8" width="23.6" height="93.6" fill="#fff" stroke="#000" stroke-width="1.8"/>
<rect x="597.0" y="896.8" width="24.0" height="29.6" fill="#d5d5d5" stroke="#000" stroke-width="1.8"/>
<circle cx="570.0" cy="792.5" r="5.6" fill="#fff" stroke="#000" stroke-width="1.2"/>
<circle cx="567.5" cy="840.5" r="5.6" fill="#fff" stroke="#000" stroke-width="1.2"/>
<circle cx="577.5" cy="845.7" r="5.6" fill="#fff" stroke="#000" stroke-width="1.2"/>
<circle cx="565.5" cy="852.5" r="5.6" fill="#fff" stroke="#000" stroke-width="1.2"/>
<circle cx="608.7" cy="873.2" r="6.3" fill="#000" stroke="none" stroke-width="0"/>
<circle cx="604.3" cy="895.0" r="6.3" fill="#000" stroke="none" stroke-width="0"/>
<circle cx="615.0" cy="906.0" r="6.3" fill="#000" stroke="none" stroke-width="0"/>
<circle cx="602.7" cy="910.0" r="6.3" fill="#000" stroke="none" stroke-width="0"/>
<line x1="423.8" y1="731.7" x2="423.8" y2="927.5" stroke="#000" stroke-width="1.6" stroke-linecap="butt"/>
<line x1="415.6" y1="926.7" x2="423.8" y2="926.7" stroke="#000" stroke-width="1.6" stroke-linecap="butt"/>
<text x="413.0" y="931.8" text-anchor="end" style="font-size:14px;font-weight:bold;" fill="#000">0.0</text>
<line x1="415.6" y1="899.0" x2="423.8" y2="899.0" stroke="#000" stroke-width="1.6" stroke-linecap="butt"/>
<text x="413.0" y="904.1" text-anchor="end" style="font-size:14px;font-weight:bold;" fill="#000">0.2</text>
<line x1="415.6" y1="871.2" x2="423.8" y2="871.2" stroke="#000" stroke-width="1.6" stroke-linecap="butt"/>
<text x="413.0" y="876.3" text-anchor="end" style="font-size:14px;font-weight:bold;" fill="#000">0.4</text>
<line x1="415.6" y1="843.5" x2="423.8" y2="843.5" stroke="#000" stroke-width="1.6" stroke-linecap="butt"/>
<text x="413.0" y="848.6" text-anchor="end" style="font-size:14px;font-weight:bold;" fill="#000">0.6</text>
<line x1="415.6" y1="815.7" x2="423.8" y2="815.7" stroke="#000" stroke-width="1.6" stroke-linecap="butt"/>
<text x="413.0" y="820.8" text-anchor="end" style="font-size:14px;font-weight:bold;" fill="#000">0.8</text>
<line x1="415.6" y1="788.0" x2="423.8" y2="788.0" stroke="#000" stroke-width="1.6" stroke-linecap="butt"/>
<text x="413.0" y="793.1" text-anchor="end" style="font-size:14px;font-weight:bold;" fill="#000">1.0</text>
<line x1="415.6" y1="760.2" x2="423.8" y2="760.2" stroke="#000" stroke-width="1.6" stroke-linecap="butt"/>
<text x="413.0" y="765.3" text-anchor="end" style="font-size:14px;font-weight:bold;" fill="#000">1.2</text>
<line x1="415.6" y1="732.5" x2="423.8" y2="732.5" stroke="#000" stroke-width="1.6" stroke-linecap="butt"/>
<text x="413.0" y="737.6" text-anchor="end" style="font-size:14px;font-weight:bold;" fill="#000">1.4</text>
<text x="0" y="4.8" text-anchor="middle" style="font-size:13.4px;font-weight:bold;" fill="#000" textLength="212.5" lengthAdjust="spacingAndGlyphs" transform="translate(367.3 833.8) rotate(-90)">Relative PENK mRNA expression</text>
<text x="0" y="4.8" text-anchor="middle" style="font-size:13.4px;font-weight:bold;" fill="#000" textLength="64.0" lengthAdjust="spacingAndGlyphs" transform="translate(383.6 834.5) rotate(-90)">(Vs Brain)</text>
<text x="449.3" y="947.3" text-anchor="middle" style="font-size:11.7px;font-weight:bold;" fill="#000">M</text>
<text x="490.7" y="947.3" text-anchor="middle" style="font-size:11.7px;font-weight:bold;" fill="#000">B</text>
<text x="531.0" y="947.3" text-anchor="middle" style="font-size:11.7px;font-weight:bold;" fill="#000" textLength="24.0" lengthAdjust="spacingAndGlyphs">CD8</text>
<text x="550.7" y="947" style="font-size:11px;font-weight:bold;font-style:italic" fill="#000" textLength="40" lengthAdjust="spacingAndGlyphs">penk<tspan dy="-3.8" style="font-size:7px">+/+</tspan></text>
<text x="591.7" y="947" style="font-size:11px;font-weight:bold;font-style:italic" fill="#000" textLength="36.6" lengthAdjust="spacingAndGlyphs">penk<tspan dy="-3.8" style="font-size:7px">-/-</tspan></text>
<line x1="555.0" y1="959.5" x2="622.7" y2="959.5" stroke="#000" stroke-width="1.3" stroke-linecap="butt"/>
<text x="589.0" y="980.0" text-anchor="middle" style="font-size:12px;font-weight:bold;" fill="#000" textLength="24.3" lengthAdjust="spacingAndGlyphs">CD4</text>
<path d="M431.5 902 C431.5 894.5 435 892.7 442 892.7 H480 C486 892.7 488.8 890 489.3 881.5 C489.8 890 492.6 892.7 498.6 892.7 H535.5 C542.5 892.7 546 894.5 546 902" fill="none" stroke="#000" stroke-width="1.2"/>
<path d="M484.5 866.2 V725.5 H570.5 V737.5" fill="none" stroke="#000" stroke-width="1.3"/>
<path d="M575.5 737.5 V725.5 H610.5 V737" fill="none" stroke="#000" stroke-width="1.3"/>
<path d="M493.5 866.2 V771.5 H608.5 V783" fill="none" stroke="#000" stroke-width="1.3"/>
<text x="528.0" y="724.3" text-anchor="middle" style="font-size:18px;font-weight:bold;" fill="#000" textLength="26.8" lengthAdjust="spacingAndGlyphs">****</text>
<text x="593.0" y="724.3" text-anchor="middle" style="font-size:18px;font-weight:bold;" fill="#000" textLength="20.0" lengthAdjust="spacingAndGlyphs">***</text>
<text x="543.0" y="761.2" text-anchor="middle" style="font-size:15.5px;font-weight:bold;" fill="#000" textLength="16.8" lengthAdjust="spacingAndGlyphs">ns</text>
</g>
</svg></body></html>
